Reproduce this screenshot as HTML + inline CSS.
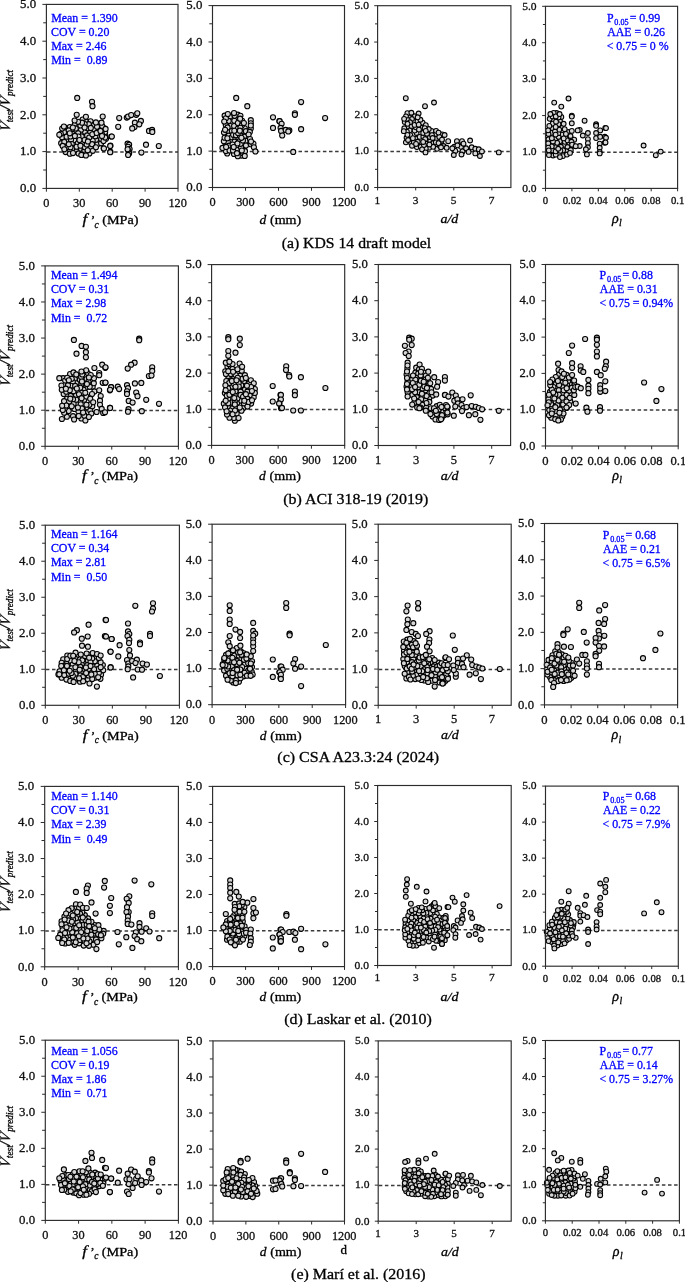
<!DOCTYPE html>
<html><head><meta charset="utf-8"><style>
html,body{margin:0;padding:0;background:#fff;}
svg{display:block;will-change:transform;}
text{font-family:"Liberation Serif",serif;white-space:pre;stroke:currentColor;stroke-width:0.3px;}
</style></head><body>
<svg width="685" height="1282" viewBox="0 0 685 1282">
<g stroke="#2b2b2b" stroke-width="1"><line x1="42.4" y1="188.4" x2="46.4" y2="188.4"/><line x1="43.2" y1="170" x2="46.4" y2="170"/><line x1="42.4" y1="151.6" x2="46.4" y2="151.6"/><line x1="43.2" y1="133.2" x2="46.4" y2="133.2"/><line x1="42.4" y1="114.8" x2="46.4" y2="114.8"/><line x1="43.2" y1="96.4" x2="46.4" y2="96.4"/><line x1="42.4" y1="78" x2="46.4" y2="78"/><line x1="43.2" y1="59.6" x2="46.4" y2="59.6"/><line x1="42.4" y1="41.2" x2="46.4" y2="41.2"/><line x1="43.2" y1="22.8" x2="46.4" y2="22.8"/><line x1="42.4" y1="4.4" x2="46.4" y2="4.4"/><line x1="46.4" y1="188.4" x2="46.4" y2="191.7"/><line x1="79.3" y1="188.4" x2="79.3" y2="191.7"/><line x1="112.2" y1="188.4" x2="112.2" y2="191.7"/><line x1="145.1" y1="188.4" x2="145.1" y2="191.7"/><line x1="178" y1="188.4" x2="178" y2="191.7"/></g>
<line x1="47" y1="151.9" x2="178" y2="151.9" stroke="#3a3a3a" stroke-width="1.5" stroke-dasharray="3.5 2.6"/>
<g fill="#d6d6d6" stroke="#000" stroke-width="1.1"><circle cx="74.84" cy="124.24" r="2.55"/><circle cx="90.54" cy="121.36" r="2.55"/><circle cx="85.02" cy="132.12" r="2.55"/><circle cx="62.08" cy="137.32" r="2.55"/><circle cx="79.68" cy="149.05" r="2.55"/><circle cx="89.42" cy="153.48" r="2.55"/><circle cx="100.51" cy="129.33" r="2.55"/><circle cx="74.11" cy="148.65" r="2.55"/><circle cx="67.97" cy="140.04" r="2.55"/><circle cx="89.97" cy="132.37" r="2.55"/><circle cx="85.59" cy="121" r="2.55"/><circle cx="74.38" cy="140.19" r="2.55"/><circle cx="81.05" cy="129.7" r="2.55"/><circle cx="97.43" cy="144.35" r="2.55"/><circle cx="71.02" cy="139.78" r="2.55"/><circle cx="84.51" cy="150.82" r="2.55"/><circle cx="94.31" cy="129.27" r="2.55"/><circle cx="66.6" cy="136.64" r="2.55"/><circle cx="61.18" cy="143.22" r="2.55"/><circle cx="96" cy="139.73" r="2.55"/><circle cx="92.67" cy="140.51" r="2.55"/><circle cx="87.13" cy="135.44" r="2.55"/><circle cx="82.06" cy="143.07" r="2.55"/><circle cx="77.82" cy="143.24" r="2.55"/><circle cx="65.51" cy="127.79" r="2.55"/><circle cx="72.66" cy="133.94" r="2.55"/><circle cx="76.52" cy="151.15" r="2.55"/><circle cx="70.5" cy="136.5" r="2.55"/><circle cx="87.58" cy="128.34" r="2.55"/><circle cx="78.13" cy="133.34" r="2.55"/><circle cx="64.27" cy="141.98" r="2.55"/><circle cx="64.17" cy="132.04" r="2.55"/><circle cx="88.78" cy="124.15" r="2.55"/><circle cx="81.67" cy="136.46" r="2.55"/><circle cx="75.75" cy="128.42" r="2.55"/><circle cx="99.09" cy="124.62" r="2.55"/><circle cx="84.66" cy="124.08" r="2.55"/><circle cx="84.65" cy="154.61" r="2.55"/><circle cx="67.32" cy="147.03" r="2.55"/><circle cx="84.86" cy="147.29" r="2.55"/><circle cx="71.74" cy="144.12" r="2.55"/><circle cx="105.21" cy="135.11" r="2.55"/><circle cx="105.14" cy="132.08" r="2.55"/><circle cx="69.88" cy="127.03" r="2.55"/><circle cx="99.64" cy="136.3" r="2.55"/><circle cx="90.64" cy="148.05" r="2.55"/><circle cx="95.31" cy="136.24" r="2.55"/><circle cx="78.57" cy="153.45" r="2.55"/><circle cx="94.09" cy="124.94" r="2.55"/><circle cx="65.59" cy="152.1" r="2.55"/><circle cx="80.43" cy="125.42" r="2.55"/><circle cx="92.86" cy="150.87" r="2.55"/><circle cx="104.52" cy="128.23" r="2.55"/><circle cx="69.84" cy="153.66" r="2.55"/><circle cx="78.42" cy="136.58" r="2.55"/><circle cx="68.7" cy="130.39" r="2.55"/><circle cx="89.25" cy="137.5" r="2.55"/><circle cx="86.69" cy="144.41" r="2.55"/><circle cx="92.33" cy="134.31" r="2.55"/><circle cx="84.59" cy="127.45" r="2.55"/><circle cx="62.69" cy="145.89" r="2.55"/><circle cx="101.09" cy="143.31" r="2.55"/><circle cx="72.83" cy="127.59" r="2.55"/><circle cx="105.99" cy="138.78" r="2.55"/><circle cx="92.08" cy="144.15" r="2.55"/><circle cx="64.34" cy="149.37" r="2.55"/><circle cx="62.21" cy="128.56" r="2.55"/><circle cx="102.2" cy="126.01" r="2.55"/><circle cx="82.63" cy="119.61" r="2.55"/><circle cx="73.01" cy="153.04" r="2.55"/><circle cx="84.47" cy="140.09" r="2.55"/><circle cx="87.92" cy="141.45" r="2.55"/><circle cx="97.02" cy="126.85" r="2.55"/><circle cx="69.77" cy="133.37" r="2.55"/><circle cx="79.46" cy="140.08" r="2.55"/><circle cx="95.95" cy="147.33" r="2.55"/><circle cx="82.01" cy="122.63" r="2.55"/><circle cx="101.2" cy="139.08" r="2.55"/><circle cx="76.59" cy="146.76" r="2.55"/><circle cx="60.79" cy="133.85" r="2.55"/><circle cx="96.65" cy="132.97" r="2.55"/><circle cx="90.79" cy="127.88" r="2.55"/><circle cx="70.51" cy="147.19" r="2.55"/><circle cx="68.77" cy="144.13" r="2.55"/><circle cx="103.53" cy="141.04" r="2.55"/><circle cx="95.91" cy="122.42" r="2.55"/><circle cx="87.71" cy="150.3" r="2.55"/><circle cx="80.42" cy="145.69" r="2.55"/><circle cx="101.93" cy="134.15" r="2.55"/><circle cx="78.02" cy="121.86" r="2.55"/><circle cx="74.87" cy="135.9" r="2.55"/><circle cx="81.35" cy="154.9" r="2.55"/><circle cx="77.2" cy="97.9" r="2.55"/><circle cx="92" cy="101.8" r="2.55"/><circle cx="92.5" cy="106.2" r="2.55"/><circle cx="76.7" cy="114.8" r="2.55"/><circle cx="74.6" cy="120.5" r="2.55"/><circle cx="85.9" cy="116.8" r="2.55"/><circle cx="102.7" cy="116.6" r="2.55"/><circle cx="63.9" cy="126.6" r="2.55"/><circle cx="111.4" cy="136.5" r="2.55"/><circle cx="110.4" cy="145.7" r="2.55"/><circle cx="103.7" cy="148.3" r="2.55"/><circle cx="110.4" cy="151.9" r="2.55"/><circle cx="85.9" cy="155.4" r="2.55"/><circle cx="59.3" cy="134.8" r="2.55"/><circle cx="119.2" cy="118.1" r="2.55"/><circle cx="118.2" cy="126.8" r="2.55"/><circle cx="126.8" cy="117.6" r="2.55"/><circle cx="128.1" cy="116.6" r="2.55"/><circle cx="131.2" cy="115.1" r="2.55"/><circle cx="136.3" cy="114.8" r="2.55"/><circle cx="137.3" cy="113.3" r="2.55"/><circle cx="134.9" cy="122.7" r="2.55"/><circle cx="140.9" cy="120.9" r="2.55"/><circle cx="139.3" cy="124.3" r="2.55"/><circle cx="134.5" cy="127" r="2.55"/><circle cx="132.2" cy="128.4" r="2.55"/><circle cx="149" cy="130.9" r="2.55"/><circle cx="152.1" cy="129.9" r="2.55"/><circle cx="152.3" cy="131.9" r="2.55"/><circle cx="111.8" cy="136.5" r="2.55"/><circle cx="105.1" cy="137.6" r="2.55"/><circle cx="102" cy="136" r="2.55"/><circle cx="105.6" cy="128.9" r="2.55"/><circle cx="101.5" cy="122.7" r="2.55"/><circle cx="100.5" cy="130.9" r="2.55"/><circle cx="103.9" cy="148.5" r="2.55"/><circle cx="110.2" cy="146" r="2.55"/><circle cx="110.2" cy="152.2" r="2.55"/><circle cx="127.6" cy="143.7" r="2.55"/><circle cx="129.1" cy="144.7" r="2.55"/><circle cx="128.1" cy="146.8" r="2.55"/><circle cx="129.6" cy="149.1" r="2.55"/><circle cx="128.6" cy="151.2" r="2.55"/><circle cx="129.1" cy="153.4" r="2.55"/><circle cx="128.1" cy="154.9" r="2.55"/><circle cx="127.6" cy="149.3" r="2.55"/><circle cx="146" cy="144.7" r="2.55"/><circle cx="158.8" cy="146" r="2.55"/><circle cx="141.4" cy="152.6" r="2.55"/></g>
<rect x="46.4" y="4.4" width="131.6" height="184" fill="none" stroke="#2b2b2b" stroke-width="1.15"/>
<g fill="#111" color="#111"><text x="20.09" y="192.15" font-size="12.5" textLength="16.09" lengthAdjust="spacingAndGlyphs">0.0</text><text x="20.09" y="155.35" font-size="12.5" textLength="16.09" lengthAdjust="spacingAndGlyphs">1.0</text><text x="20.09" y="118.55" font-size="12.5" textLength="16.09" lengthAdjust="spacingAndGlyphs">2.0</text><text x="20.09" y="81.75" font-size="12.5" textLength="16.09" lengthAdjust="spacingAndGlyphs">3.0</text><text x="20.09" y="44.95" font-size="12.5" textLength="16.09" lengthAdjust="spacingAndGlyphs">4.0</text><text x="20.09" y="8.15" font-size="12.5" textLength="16.09" lengthAdjust="spacingAndGlyphs">5.0</text><text x="43.32" y="207.1" font-size="12.3">0</text><text x="73.09" y="207.1" font-size="12.3">30</text><text x="106.02" y="207.1" font-size="12.3">60</text><text x="138.98" y="207.1" font-size="12.3">90</text><text x="168.47" y="207.1" font-size="12.3">120</text></g>
<text x="82.59" y="224.1" font-size="13.8" font-style="italic" textLength="4.68" lengthAdjust="spacingAndGlyphs">f</text><text x="90.72" y="224.1" font-size="13.5">’</text><text x="94.62" y="227.5" font-size="9.5" font-style="italic">c</text><text x="102.16" y="224.1" font-size="13.5" textLength="36.35" lengthAdjust="spacingAndGlyphs">(MPa)</text>
<g stroke="#2b2b2b" stroke-width="1"><line x1="208.5" y1="187.5" x2="212.5" y2="187.5"/><line x1="209.3" y1="169.31" x2="212.5" y2="169.31"/><line x1="208.5" y1="151.12" x2="212.5" y2="151.12"/><line x1="209.3" y1="132.93" x2="212.5" y2="132.93"/><line x1="208.5" y1="114.74" x2="212.5" y2="114.74"/><line x1="209.3" y1="96.55" x2="212.5" y2="96.55"/><line x1="208.5" y1="78.36" x2="212.5" y2="78.36"/><line x1="209.3" y1="60.17" x2="212.5" y2="60.17"/><line x1="208.5" y1="41.98" x2="212.5" y2="41.98"/><line x1="209.3" y1="23.79" x2="212.5" y2="23.79"/><line x1="208.5" y1="5.6" x2="212.5" y2="5.6"/><line x1="212.5" y1="187.5" x2="212.5" y2="190.8"/><line x1="245.5" y1="187.5" x2="245.5" y2="190.8"/><line x1="278.5" y1="187.5" x2="278.5" y2="190.8"/><line x1="311.5" y1="187.5" x2="311.5" y2="190.8"/><line x1="344.5" y1="187.5" x2="344.5" y2="190.8"/></g>
<line x1="213.1" y1="151.42" x2="344.5" y2="151.42" stroke="#3a3a3a" stroke-width="1.5" stroke-dasharray="3.5 2.6"/>
<g fill="#d6d6d6" stroke="#000" stroke-width="1.1"><circle cx="229.03" cy="131.59" r="2.55"/><circle cx="229.97" cy="116.72" r="2.55"/><circle cx="228.69" cy="120.97" r="2.55"/><circle cx="225.79" cy="124.95" r="2.55"/><circle cx="225.62" cy="143.79" r="2.55"/><circle cx="227.2" cy="153.47" r="2.55"/><circle cx="228.74" cy="135.65" r="2.55"/><circle cx="227.9" cy="142.14" r="2.55"/><circle cx="230.49" cy="126.02" r="2.55"/><circle cx="224.01" cy="132.59" r="2.55"/><circle cx="232.28" cy="146.64" r="2.55"/><circle cx="231.75" cy="137.23" r="2.55"/><circle cx="225.82" cy="151.08" r="2.55"/><circle cx="224.64" cy="115.72" r="2.55"/><circle cx="229.08" cy="145.7" r="2.55"/><circle cx="223.86" cy="141.34" r="2.55"/><circle cx="225.89" cy="118.37" r="2.55"/><circle cx="227.57" cy="127.45" r="2.55"/><circle cx="224.58" cy="137.74" r="2.55"/><circle cx="227.35" cy="138.37" r="2.55"/><circle cx="227.83" cy="114.1" r="2.55"/><circle cx="222.47" cy="147.94" r="2.55"/><circle cx="229.56" cy="150.41" r="2.55"/><circle cx="231.85" cy="131.03" r="2.55"/><circle cx="226.1" cy="146.96" r="2.55"/><circle cx="224.22" cy="121.53" r="2.55"/><circle cx="225.09" cy="129.85" r="2.55"/><circle cx="244" cy="147.74" r="2.55"/><circle cx="236.45" cy="146.12" r="2.55"/><circle cx="233.96" cy="153.95" r="2.55"/><circle cx="237.34" cy="119.34" r="2.55"/><circle cx="235.41" cy="138.61" r="2.55"/><circle cx="233.15" cy="134.78" r="2.55"/><circle cx="244.65" cy="133.62" r="2.55"/><circle cx="234.55" cy="141.72" r="2.55"/><circle cx="240.12" cy="153.09" r="2.55"/><circle cx="241.29" cy="155.62" r="2.55"/><circle cx="237" cy="150.06" r="2.55"/><circle cx="238.43" cy="137.66" r="2.55"/><circle cx="243.46" cy="143.85" r="2.55"/><circle cx="235.99" cy="135.26" r="2.55"/><circle cx="234.33" cy="120.84" r="2.55"/><circle cx="237.7" cy="114.69" r="2.55"/><circle cx="237.34" cy="125.95" r="2.55"/><circle cx="242.63" cy="130.68" r="2.55"/><circle cx="232.56" cy="144.56" r="2.55"/><circle cx="234.11" cy="126.01" r="2.55"/><circle cx="237.87" cy="123.06" r="2.55"/><circle cx="242.13" cy="120.73" r="2.55"/><circle cx="243.05" cy="153.17" r="2.55"/><circle cx="244.47" cy="136.64" r="2.55"/><circle cx="239.88" cy="135.22" r="2.55"/><circle cx="237.76" cy="128.87" r="2.55"/><circle cx="238" cy="133" r="2.55"/><circle cx="241.08" cy="147.61" r="2.55"/><circle cx="245.73" cy="140.7" r="2.55"/><circle cx="239.54" cy="141.21" r="2.55"/><circle cx="244.98" cy="151.18" r="2.55"/><circle cx="244.78" cy="128.31" r="2.55"/><circle cx="245.98" cy="145.48" r="2.55"/><circle cx="234.33" cy="130.73" r="2.55"/><circle cx="241.93" cy="125.34" r="2.55"/><circle cx="244.73" cy="155.89" r="2.55"/><circle cx="234.61" cy="115.85" r="2.55"/><circle cx="233.01" cy="150.38" r="2.55"/><circle cx="240.61" cy="143.82" r="2.55"/><circle cx="242.92" cy="140.46" r="2.55"/><circle cx="240.42" cy="115.86" r="2.55"/><circle cx="237.79" cy="156.16" r="2.55"/><circle cx="241.82" cy="150.62" r="2.55"/><circle cx="240.4" cy="127.82" r="2.55"/><circle cx="241.43" cy="137.8" r="2.55"/><circle cx="239.84" cy="130.69" r="2.55"/><circle cx="236.99" cy="153.2" r="2.55"/><circle cx="245.92" cy="131.14" r="2.55"/><circle cx="243.89" cy="123.02" r="2.55"/><circle cx="237.43" cy="143.47" r="2.55"/><circle cx="233.69" cy="147.09" r="2.55"/><circle cx="234.04" cy="113.08" r="2.55"/><circle cx="240.09" cy="118.7" r="2.55"/><circle cx="236.2" cy="97.9" r="2.55"/><circle cx="247.3" cy="106.2" r="2.55"/><circle cx="273" cy="117.3" r="2.55"/><circle cx="273" cy="127.9" r="2.55"/><circle cx="279.4" cy="121.2" r="2.55"/><circle cx="250.8" cy="120.2" r="2.55"/><circle cx="250.8" cy="123.3" r="2.55"/><circle cx="250.8" cy="128.4" r="2.55"/><circle cx="249.8" cy="131.9" r="2.55"/><circle cx="248.6" cy="134.5" r="2.55"/><circle cx="250" cy="139.1" r="2.55"/><circle cx="250.8" cy="144.2" r="2.55"/><circle cx="253.4" cy="143.7" r="2.55"/><circle cx="253.9" cy="147.3" r="2.55"/><circle cx="255.4" cy="151.4" r="2.55"/><circle cx="250.8" cy="125.5" r="2.55"/><circle cx="251" cy="141.5" r="2.55"/><circle cx="301.1" cy="102.1" r="2.55"/><circle cx="294.9" cy="113.3" r="2.55"/><circle cx="294.9" cy="114.8" r="2.55"/><circle cx="325.1" cy="118.1" r="2.55"/><circle cx="279.6" cy="121.2" r="2.55"/><circle cx="281.6" cy="123.8" r="2.55"/><circle cx="280.6" cy="127.9" r="2.55"/><circle cx="281.1" cy="130.9" r="2.55"/><circle cx="282.2" cy="135.5" r="2.55"/><circle cx="285.7" cy="129.9" r="2.55"/><circle cx="289.3" cy="130.4" r="2.55"/><circle cx="288.3" cy="131.4" r="2.55"/><circle cx="301.1" cy="129.2" r="2.55"/><circle cx="293.2" cy="151.9" r="2.55"/></g>
<rect x="212.5" y="5.6" width="132" height="181.9" fill="none" stroke="#2b2b2b" stroke-width="1.15"/>
<g fill="#111" color="#111"><text x="186.39" y="191.25" font-size="12.5" textLength="16.09" lengthAdjust="spacingAndGlyphs">0.0</text><text x="186.39" y="154.87" font-size="12.5" textLength="16.09" lengthAdjust="spacingAndGlyphs">1.0</text><text x="186.39" y="118.49" font-size="12.5" textLength="16.09" lengthAdjust="spacingAndGlyphs">2.0</text><text x="186.39" y="82.11" font-size="12.5" textLength="16.09" lengthAdjust="spacingAndGlyphs">3.0</text><text x="186.39" y="45.73" font-size="12.5" textLength="16.09" lengthAdjust="spacingAndGlyphs">4.0</text><text x="186.39" y="9.35" font-size="12.5" textLength="16.09" lengthAdjust="spacingAndGlyphs">5.0</text><text x="209.43" y="206" font-size="12.3">0</text><text x="236.21" y="206" font-size="12.3">300</text><text x="269.24" y="206" font-size="12.3">600</text><text x="302.31" y="206" font-size="12.3">900</text><text x="331.89" y="206" font-size="12.3">1200</text></g>
<text x="259.4" y="223.6" font-size="13.5" font-style="italic">d</text><text x="269.97" y="223.6" font-size="13.5" textLength="31.26" lengthAdjust="spacingAndGlyphs">(mm)</text>
<g stroke="#2b2b2b" stroke-width="1"><line x1="374.2" y1="187.5" x2="377.6" y2="187.5"/><line x1="375" y1="169.32" x2="377.6" y2="169.32"/><line x1="374.2" y1="151.14" x2="377.6" y2="151.14"/><line x1="375" y1="132.96" x2="377.6" y2="132.96"/><line x1="374.2" y1="114.78" x2="377.6" y2="114.78"/><line x1="375" y1="96.6" x2="377.6" y2="96.6"/><line x1="374.2" y1="78.42" x2="377.6" y2="78.42"/><line x1="375" y1="60.24" x2="377.6" y2="60.24"/><line x1="374.2" y1="42.06" x2="377.6" y2="42.06"/><line x1="375" y1="23.88" x2="377.6" y2="23.88"/><line x1="374.2" y1="5.7" x2="377.6" y2="5.7"/><line x1="377.6" y1="187.5" x2="377.6" y2="190.4"/><line x1="415.69" y1="187.5" x2="415.69" y2="190.4"/><line x1="453.77" y1="187.5" x2="453.77" y2="190.4"/><line x1="491.86" y1="187.5" x2="491.86" y2="190.4"/></g>
<line x1="378.2" y1="151.44" x2="510.9" y2="151.44" stroke="#3a3a3a" stroke-width="1.5" stroke-dasharray="3.5 2.6"/>
<g fill="#d6d6d6" stroke="#000" stroke-width="1.1"><circle cx="410.34" cy="135.18" r="2.4"/><circle cx="416.85" cy="147.03" r="2.4"/><circle cx="435.44" cy="145.12" r="2.4"/><circle cx="420.35" cy="143.74" r="2.4"/><circle cx="426.51" cy="143.81" r="2.4"/><circle cx="416.58" cy="133" r="2.4"/><circle cx="421.39" cy="127.79" r="2.4"/><circle cx="409.55" cy="117.46" r="2.4"/><circle cx="416.13" cy="138.57" r="2.4"/><circle cx="430.3" cy="140.92" r="2.4"/><circle cx="432.9" cy="143.27" r="2.4"/><circle cx="407.77" cy="126.83" r="2.4"/><circle cx="438.87" cy="139.69" r="2.4"/><circle cx="418.63" cy="113.56" r="2.4"/><circle cx="407.39" cy="113.17" r="2.4"/><circle cx="413.67" cy="121.36" r="2.4"/><circle cx="409.68" cy="130.34" r="2.4"/><circle cx="436.05" cy="138.89" r="2.4"/><circle cx="429.21" cy="147.66" r="2.4"/><circle cx="419.62" cy="136.9" r="2.4"/><circle cx="423.33" cy="136.7" r="2.4"/><circle cx="422.59" cy="122.63" r="2.4"/><circle cx="411.1" cy="143.07" r="2.4"/><circle cx="414.64" cy="130.57" r="2.4"/><circle cx="435.91" cy="133.86" r="2.4"/><circle cx="405.86" cy="142.33" r="2.4"/><circle cx="431.46" cy="130.9" r="2.4"/><circle cx="412.01" cy="145.69" r="2.4"/><circle cx="437.06" cy="148.78" r="2.4"/><circle cx="428.76" cy="129.05" r="2.4"/><circle cx="405.97" cy="116.41" r="2.4"/><circle cx="425.8" cy="125.16" r="2.4"/><circle cx="441.49" cy="140.89" r="2.4"/><circle cx="425.22" cy="139.04" r="2.4"/><circle cx="413.85" cy="141.9" r="2.4"/><circle cx="406.59" cy="137.65" r="2.4"/><circle cx="414.78" cy="116.24" r="2.4"/><circle cx="442.14" cy="134.45" r="2.4"/><circle cx="423.18" cy="132.95" r="2.4"/><circle cx="425.76" cy="148.39" r="2.4"/><circle cx="439.32" cy="136.94" r="2.4"/><circle cx="415.96" cy="127.34" r="2.4"/><circle cx="411.49" cy="125.88" r="2.4"/><circle cx="436.08" cy="130.83" r="2.4"/><circle cx="414.58" cy="124.9" r="2.4"/><circle cx="439.88" cy="145.85" r="2.4"/><circle cx="408.1" cy="140.01" r="2.4"/><circle cx="406.87" cy="131.71" r="2.4"/><circle cx="433.15" cy="146.8" r="2.4"/><circle cx="412.89" cy="138.18" r="2.4"/><circle cx="411.36" cy="112.77" r="2.4"/><circle cx="404.29" cy="128.25" r="2.4"/><circle cx="417.76" cy="141.73" r="2.4"/><circle cx="435.82" cy="142.37" r="2.4"/><circle cx="429.86" cy="136.95" r="2.4"/><circle cx="411.88" cy="119.02" r="2.4"/><circle cx="426.99" cy="133.73" r="2.4"/><circle cx="443.58" cy="146.04" r="2.4"/><circle cx="420.8" cy="146.74" r="2.4"/><circle cx="424.71" cy="128.14" r="2.4"/><circle cx="431.98" cy="135.16" r="2.4"/><circle cx="418.97" cy="129.54" r="2.4"/><circle cx="425.76" cy="130.86" r="2.4"/><circle cx="404.75" cy="122.05" r="2.4"/><circle cx="416.04" cy="143.95" r="2.4"/><circle cx="423.94" cy="145.03" r="2.4"/><circle cx="407.93" cy="120.11" r="2.4"/><circle cx="417.48" cy="121.34" r="2.4"/><circle cx="438.54" cy="132.62" r="2.4"/><circle cx="420.42" cy="119.73" r="2.4"/><circle cx="410.06" cy="122.27" r="2.4"/><circle cx="422.07" cy="149.46" r="2.4"/><circle cx="429.42" cy="144.51" r="2.4"/><circle cx="404.12" cy="118.87" r="2.4"/><circle cx="417.68" cy="117.32" r="2.4"/><circle cx="407.42" cy="134.84" r="2.4"/><circle cx="407.52" cy="123.78" r="2.4"/><circle cx="423.18" cy="141.93" r="2.4"/><circle cx="432.64" cy="137.98" r="2.4"/><circle cx="438.56" cy="143.08" r="2.4"/><circle cx="418.69" cy="124.69" r="2.4"/><circle cx="403.79" cy="131.17" r="2.4"/><circle cx="405.8" cy="98.2" r="2.4"/><circle cx="425" cy="106.2" r="2.4"/><circle cx="434" cy="102.5" r="2.4"/><circle cx="425.5" cy="152.4" r="2.4"/><circle cx="444.6" cy="135" r="2.4"/><circle cx="442" cy="139.6" r="2.4"/><circle cx="448.2" cy="141.2" r="2.4"/><circle cx="441" cy="147.3" r="2.4"/><circle cx="446.6" cy="147.8" r="2.4"/><circle cx="456.9" cy="141.2" r="2.4"/><circle cx="462" cy="141.2" r="2.4"/><circle cx="470.1" cy="140.5" r="2.4"/><circle cx="454.3" cy="146.8" r="2.4"/><circle cx="455.3" cy="150.9" r="2.4"/><circle cx="453.8" cy="155" r="2.4"/><circle cx="461" cy="146.8" r="2.4"/><circle cx="462.5" cy="151.4" r="2.4"/><circle cx="461.5" cy="154.5" r="2.4"/><circle cx="466.1" cy="148.3" r="2.4"/><circle cx="468.6" cy="151.9" r="2.4"/><circle cx="471.7" cy="147.3" r="2.4"/><circle cx="475.3" cy="148.8" r="2.4"/><circle cx="475.3" cy="153.4" r="2.4"/><circle cx="478.8" cy="149.3" r="2.4"/><circle cx="481.9" cy="151.4" r="2.4"/><circle cx="479.9" cy="156" r="2.4"/><circle cx="498.8" cy="152.4" r="2.4"/><circle cx="452.3" cy="148.3" r="2.4"/><circle cx="457.4" cy="145.3" r="2.4"/><circle cx="463.5" cy="143.7" r="2.4"/></g>
<rect x="377.6" y="5.7" width="133.3" height="181.8" fill="none" stroke="#2b2b2b" stroke-width="1.15"/>
<g fill="#111" color="#111"><text x="354.51" y="190.81" font-size="11.2" textLength="14.42" lengthAdjust="spacingAndGlyphs">0.0</text><text x="354.51" y="154.45" font-size="11.2" textLength="14.42" lengthAdjust="spacingAndGlyphs">1.0</text><text x="354.51" y="118.09" font-size="11.2" textLength="14.42" lengthAdjust="spacingAndGlyphs">2.0</text><text x="354.51" y="81.73" font-size="11.2" textLength="14.42" lengthAdjust="spacingAndGlyphs">3.0</text><text x="354.51" y="45.37" font-size="11.2" textLength="14.42" lengthAdjust="spacingAndGlyphs">4.0</text><text x="354.51" y="9.01" font-size="11.2" textLength="14.42" lengthAdjust="spacingAndGlyphs">5.0</text><text x="374.59" y="203.7" font-size="11.4">1</text><text x="412.79" y="203.7" font-size="11.4">3</text><text x="450.82" y="203.7" font-size="11.4">5</text><text x="488.81" y="203.7" font-size="11.4">7</text></g>
<text x="440.48" y="223.3" font-size="13.5" font-style="italic" textLength="17.89" lengthAdjust="spacingAndGlyphs">a/d</text>
<g stroke="#2b2b2b" stroke-width="1"><line x1="542.1" y1="188.4" x2="545.5" y2="188.4"/><line x1="542.9" y1="170.19" x2="545.5" y2="170.19"/><line x1="542.1" y1="151.98" x2="545.5" y2="151.98"/><line x1="542.9" y1="133.77" x2="545.5" y2="133.77"/><line x1="542.1" y1="115.56" x2="545.5" y2="115.56"/><line x1="542.9" y1="97.35" x2="545.5" y2="97.35"/><line x1="542.1" y1="79.14" x2="545.5" y2="79.14"/><line x1="542.9" y1="60.93" x2="545.5" y2="60.93"/><line x1="542.1" y1="42.72" x2="545.5" y2="42.72"/><line x1="542.9" y1="24.51" x2="545.5" y2="24.51"/><line x1="542.1" y1="6.3" x2="545.5" y2="6.3"/><line x1="545.5" y1="188.4" x2="545.5" y2="191.3"/><line x1="571.92" y1="188.4" x2="571.92" y2="191.3"/><line x1="598.34" y1="188.4" x2="598.34" y2="191.3"/><line x1="624.76" y1="188.4" x2="624.76" y2="191.3"/><line x1="651.18" y1="188.4" x2="651.18" y2="191.3"/><line x1="677.6" y1="188.4" x2="677.6" y2="191.3"/></g>
<line x1="546.1" y1="152.28" x2="677.6" y2="152.28" stroke="#3a3a3a" stroke-width="1.5" stroke-dasharray="3.5 2.6"/>
<g fill="#d6d6d6" stroke="#000" stroke-width="1.1"><circle cx="551.18" cy="132.97" r="2.4"/><circle cx="569.12" cy="144.25" r="2.4"/><circle cx="568.01" cy="132.01" r="2.4"/><circle cx="569.96" cy="136.48" r="2.4"/><circle cx="555.88" cy="147.06" r="2.4"/><circle cx="552.85" cy="120.53" r="2.4"/><circle cx="552.41" cy="128.12" r="2.4"/><circle cx="553.05" cy="155.52" r="2.4"/><circle cx="562.94" cy="153.05" r="2.4"/><circle cx="552.53" cy="150.35" r="2.4"/><circle cx="559.86" cy="141.2" r="2.4"/><circle cx="562.9" cy="156.08" r="2.4"/><circle cx="564.48" cy="144.78" r="2.4"/><circle cx="555.32" cy="139.07" r="2.4"/><circle cx="562.16" cy="127.95" r="2.4"/><circle cx="560.88" cy="146.77" r="2.4"/><circle cx="567.51" cy="147.01" r="2.4"/><circle cx="561.74" cy="134.71" r="2.4"/><circle cx="566.4" cy="151.26" r="2.4"/><circle cx="551.73" cy="146.42" r="2.4"/><circle cx="548.46" cy="139.29" r="2.4"/><circle cx="564.83" cy="141.79" r="2.4"/><circle cx="556.58" cy="113.06" r="2.4"/><circle cx="567.47" cy="140.33" r="2.4"/><circle cx="565.93" cy="133.95" r="2.4"/><circle cx="552.69" cy="123.7" r="2.4"/><circle cx="549.71" cy="118.8" r="2.4"/><circle cx="548.92" cy="155.06" r="2.4"/><circle cx="558.54" cy="136.82" r="2.4"/><circle cx="560.04" cy="121.24" r="2.4"/><circle cx="563.64" cy="123.8" r="2.4"/><circle cx="558.85" cy="154.37" r="2.4"/><circle cx="558.5" cy="124.22" r="2.4"/><circle cx="555.74" cy="154.65" r="2.4"/><circle cx="553.66" cy="112.94" r="2.4"/><circle cx="549.3" cy="125.91" r="2.4"/><circle cx="557.12" cy="142.82" r="2.4"/><circle cx="555.63" cy="151.34" r="2.4"/><circle cx="558.29" cy="133.13" r="2.4"/><circle cx="548.5" cy="134.01" r="2.4"/><circle cx="571.47" cy="138.97" r="2.4"/><circle cx="566.98" cy="154.53" r="2.4"/><circle cx="552.51" cy="116.47" r="2.4"/><circle cx="556.04" cy="121.67" r="2.4"/><circle cx="559.21" cy="129.67" r="2.4"/><circle cx="564.69" cy="129.16" r="2.4"/><circle cx="563.69" cy="138.39" r="2.4"/><circle cx="573.37" cy="145.71" r="2.4"/><circle cx="561.32" cy="116.89" r="2.4"/><circle cx="570.82" cy="150.06" r="2.4"/><circle cx="548.23" cy="143.3" r="2.4"/><circle cx="563.15" cy="150.28" r="2.4"/><circle cx="552.89" cy="141.39" r="2.4"/><circle cx="558.51" cy="117.48" r="2.4"/><circle cx="554.99" cy="131.5" r="2.4"/><circle cx="548.3" cy="147.61" r="2.4"/><circle cx="548.12" cy="130.36" r="2.4"/><circle cx="560.35" cy="150.86" r="2.4"/><circle cx="550.33" cy="114.03" r="2.4"/><circle cx="551.83" cy="138.2" r="2.4"/><circle cx="555.62" cy="134.62" r="2.4"/><circle cx="558.21" cy="148.77" r="2.4"/><circle cx="555.65" cy="126.88" r="2.4"/><circle cx="574.2" cy="139.7" r="2.4"/><circle cx="555.81" cy="116.4" r="2.4"/><circle cx="559.94" cy="157.11" r="2.4"/><circle cx="559.58" cy="114.05" r="2.4"/><circle cx="571.47" cy="141.79" r="2.4"/><circle cx="548.8" cy="150.33" r="2.4"/><circle cx="554.2" cy="102.6" r="2.4"/><circle cx="561.3" cy="106.6" r="2.4"/><circle cx="568.5" cy="98.5" r="2.4"/><circle cx="584.6" cy="120.7" r="2.4"/><circle cx="571.8" cy="115.6" r="2.4"/><circle cx="571.8" cy="116.6" r="2.4"/><circle cx="571.8" cy="123.3" r="2.4"/><circle cx="571.8" cy="130.9" r="2.4"/><circle cx="570.5" cy="136" r="2.4"/><circle cx="572.1" cy="144.7" r="2.4"/><circle cx="570" cy="152.9" r="2.4"/><circle cx="579.7" cy="129.9" r="2.4"/><circle cx="577.7" cy="130.4" r="2.4"/><circle cx="582.8" cy="135.5" r="2.4"/><circle cx="587.9" cy="133" r="2.4"/><circle cx="587.9" cy="139.1" r="2.4"/><circle cx="587.9" cy="143.2" r="2.4"/><circle cx="587.9" cy="147.3" r="2.4"/><circle cx="585.9" cy="149.3" r="2.4"/><circle cx="586.9" cy="154.4" r="2.4"/><circle cx="579.7" cy="146" r="2.4"/><circle cx="575.7" cy="146.2" r="2.4"/><circle cx="596.1" cy="124.3" r="2.4"/><circle cx="596.1" cy="125.8" r="2.4"/><circle cx="600.2" cy="130.4" r="2.4"/><circle cx="596.1" cy="133" r="2.4"/><circle cx="596.1" cy="138.1" r="2.4"/><circle cx="600.2" cy="136.8" r="2.4"/><circle cx="605.3" cy="127.9" r="2.4"/><circle cx="604.8" cy="136.8" r="2.4"/><circle cx="604.8" cy="142.7" r="2.4"/><circle cx="599.7" cy="143.7" r="2.4"/><circle cx="599.7" cy="147.8" r="2.4"/><circle cx="599.7" cy="151.9" r="2.4"/><circle cx="599.7" cy="153.4" r="2.4"/><circle cx="606" cy="128.1" r="2.4"/><circle cx="606" cy="137.8" r="2.4"/><circle cx="605.5" cy="142.4" r="2.4"/><circle cx="643.6" cy="145.5" r="2.4"/><circle cx="660.7" cy="151.6" r="2.4"/><circle cx="655.8" cy="155.2" r="2.4"/></g>
<rect x="545.5" y="6.3" width="132.1" height="182.1" fill="none" stroke="#2b2b2b" stroke-width="1.15"/>
<g fill="#111" color="#111"><text x="522.21" y="191.71" font-size="11.2" textLength="14.42" lengthAdjust="spacingAndGlyphs">0.0</text><text x="522.21" y="155.29" font-size="11.2" textLength="14.42" lengthAdjust="spacingAndGlyphs">1.0</text><text x="522.21" y="118.87" font-size="11.2" textLength="14.42" lengthAdjust="spacingAndGlyphs">2.0</text><text x="522.21" y="82.45" font-size="11.2" textLength="14.42" lengthAdjust="spacingAndGlyphs">3.0</text><text x="522.21" y="46.03" font-size="11.2" textLength="14.42" lengthAdjust="spacingAndGlyphs">4.0</text><text x="522.21" y="9.61" font-size="11.2" textLength="14.42" lengthAdjust="spacingAndGlyphs">5.0</text><text x="542.83" y="203.8" font-size="10" textLength="5.35" lengthAdjust="spacingAndGlyphs">0</text><text x="562.65" y="203.8" font-size="10" textLength="18.73" lengthAdjust="spacingAndGlyphs">0.02</text><text x="588.86" y="203.8" font-size="10" textLength="18.73" lengthAdjust="spacingAndGlyphs">0.04</text><text x="615.36" y="203.8" font-size="10" textLength="18.73" lengthAdjust="spacingAndGlyphs">0.06</text><text x="641.82" y="203.8" font-size="10" textLength="18.73" lengthAdjust="spacingAndGlyphs">0.08</text><text x="671.03" y="203.8" font-size="10" textLength="13.38" lengthAdjust="spacingAndGlyphs">0.1</text></g>
<text x="611.9" y="222.8" font-size="14" font-style="italic">ρ</text><text x="619.04" y="226.3" font-size="9.8" font-style="italic">l</text>
<g transform="translate(9.6,128.4) rotate(-90)"><text x="-3.96" y="0" font-size="14.5" font-style="italic" transform="skewX(-14)">V</text><text x="6.18" y="3.5" font-size="9.3" font-style="italic">test</text><text x="18.83" y="0" font-size="14" font-style="italic">/</text><text x="21.44" y="0" font-size="14.5" font-style="italic" transform="skewX(-14)">V</text><text x="32.53" y="3.5" font-size="9.3" font-style="italic">predict</text></g>
<g fill="#0000ff" color="#0000ff"><text x="51.24" y="21.9" font-size="11.5" textLength="66.42" lengthAdjust="spacingAndGlyphs">Mean = 1.390</text><text x="51.12" y="36" font-size="11.5" textLength="58.3" lengthAdjust="spacingAndGlyphs">COV = 0.20</text><text x="51.24" y="50.1" font-size="11.5" textLength="55.2" lengthAdjust="spacingAndGlyphs">Max = 2.46</text><text x="51.24" y="64.2" font-size="11.5" textLength="56.2" lengthAdjust="spacingAndGlyphs">Min =  0.89</text><text x="606.94" y="21.9" font-size="11.5" textLength="6.61" lengthAdjust="spacingAndGlyphs">P</text><text x="614.39" y="25" font-size="7.9" textLength="14.28" lengthAdjust="spacingAndGlyphs">0.05</text><text x="629.71" y="21.9" font-size="11.5" textLength="30.46" lengthAdjust="spacingAndGlyphs">= 0.99</text><text x="607.18" y="36" font-size="11.5" textLength="57.84" lengthAdjust="spacingAndGlyphs">AAE = 0.26</text><text x="606.71" y="50.1" font-size="11.5" textLength="61.9" lengthAdjust="spacingAndGlyphs">&lt; 0.75 = 0 %</text></g>
<text x="281.69" y="247.8" font-size="15.2" textLength="149.43" lengthAdjust="spacingAndGlyphs">(a) KDS 14 draft model</text>
<g stroke="#2b2b2b" stroke-width="1"><line x1="41.1" y1="446.3" x2="45.1" y2="446.3"/><line x1="41.9" y1="428.26" x2="45.1" y2="428.26"/><line x1="41.1" y1="410.22" x2="45.1" y2="410.22"/><line x1="41.9" y1="392.18" x2="45.1" y2="392.18"/><line x1="41.1" y1="374.14" x2="45.1" y2="374.14"/><line x1="41.9" y1="356.1" x2="45.1" y2="356.1"/><line x1="41.1" y1="338.06" x2="45.1" y2="338.06"/><line x1="41.9" y1="320.02" x2="45.1" y2="320.02"/><line x1="41.1" y1="301.98" x2="45.1" y2="301.98"/><line x1="41.9" y1="283.94" x2="45.1" y2="283.94"/><line x1="41.1" y1="265.9" x2="45.1" y2="265.9"/><line x1="45.1" y1="446.3" x2="45.1" y2="449.6"/><line x1="78.43" y1="446.3" x2="78.43" y2="449.6"/><line x1="111.75" y1="446.3" x2="111.75" y2="449.6"/><line x1="145.08" y1="446.3" x2="145.08" y2="449.6"/><line x1="178.4" y1="446.3" x2="178.4" y2="449.6"/></g>
<line x1="45.7" y1="410.52" x2="178.4" y2="410.52" stroke="#3a3a3a" stroke-width="1.5" stroke-dasharray="3.5 2.6"/>
<g fill="#d6d6d6" stroke="#000" stroke-width="1.1"><circle cx="77.44" cy="404.24" r="2.55"/><circle cx="74.77" cy="379.02" r="2.55"/><circle cx="80.72" cy="404.28" r="2.55"/><circle cx="76.62" cy="383.26" r="2.55"/><circle cx="72.79" cy="381.92" r="2.55"/><circle cx="78.34" cy="411.33" r="2.55"/><circle cx="63.68" cy="394.05" r="2.55"/><circle cx="86.14" cy="387.45" r="2.55"/><circle cx="71.71" cy="378.83" r="2.55"/><circle cx="87.49" cy="407.4" r="2.55"/><circle cx="88.14" cy="412.3" r="2.55"/><circle cx="66.99" cy="398.74" r="2.55"/><circle cx="70.1" cy="374.07" r="2.55"/><circle cx="87.67" cy="373.07" r="2.55"/><circle cx="92.7" cy="386.84" r="2.55"/><circle cx="93.82" cy="383.22" r="2.55"/><circle cx="90.29" cy="410.5" r="2.55"/><circle cx="92.3" cy="406.24" r="2.55"/><circle cx="73.45" cy="372.43" r="2.55"/><circle cx="73.6" cy="403.66" r="2.55"/><circle cx="86.56" cy="379.07" r="2.55"/><circle cx="68.67" cy="411.03" r="2.55"/><circle cx="76.28" cy="399.64" r="2.55"/><circle cx="66.87" cy="416.69" r="2.55"/><circle cx="83.5" cy="389.66" r="2.55"/><circle cx="76" cy="394.72" r="2.55"/><circle cx="64.06" cy="401.17" r="2.55"/><circle cx="91.35" cy="413.49" r="2.55"/><circle cx="73.55" cy="391.28" r="2.55"/><circle cx="64.91" cy="408.27" r="2.55"/><circle cx="63.15" cy="378.19" r="2.55"/><circle cx="93.92" cy="378.21" r="2.55"/><circle cx="73.02" cy="399.16" r="2.55"/><circle cx="69.1" cy="401.6" r="2.55"/><circle cx="71.06" cy="385.73" r="2.55"/><circle cx="81.3" cy="384.84" r="2.55"/><circle cx="81.35" cy="418.4" r="2.55"/><circle cx="74.38" cy="408.94" r="2.55"/><circle cx="67.99" cy="385.14" r="2.55"/><circle cx="79.88" cy="379.71" r="2.55"/><circle cx="89.34" cy="404.8" r="2.55"/><circle cx="81.93" cy="392.71" r="2.55"/><circle cx="70.66" cy="395.93" r="2.55"/><circle cx="94.41" cy="391.4" r="2.55"/><circle cx="90.71" cy="375" r="2.55"/><circle cx="92.01" cy="394.1" r="2.55"/><circle cx="84.44" cy="415.64" r="2.55"/><circle cx="65.19" cy="380.56" r="2.55"/><circle cx="64.15" cy="412.7" r="2.55"/><circle cx="81.18" cy="376.9" r="2.55"/><circle cx="81.96" cy="408.38" r="2.55"/><circle cx="84.27" cy="399.64" r="2.55"/><circle cx="86.32" cy="396.52" r="2.55"/><circle cx="88.45" cy="381.48" r="2.55"/><circle cx="90.2" cy="398.72" r="2.55"/><circle cx="75.17" cy="385.91" r="2.55"/><circle cx="78.97" cy="394.26" r="2.55"/><circle cx="89.7" cy="386.85" r="2.55"/><circle cx="83.11" cy="412.59" r="2.55"/><circle cx="76.27" cy="374.38" r="2.55"/><circle cx="66.24" cy="391.77" r="2.55"/><circle cx="66.32" cy="405.62" r="2.55"/><circle cx="81.57" cy="398.22" r="2.55"/><circle cx="61.44" cy="385.48" r="2.55"/><circle cx="71.63" cy="406.33" r="2.55"/><circle cx="85.28" cy="392.81" r="2.55"/><circle cx="62.76" cy="410.07" r="2.55"/><circle cx="62.13" cy="405.78" r="2.55"/><circle cx="67.19" cy="377.81" r="2.55"/><circle cx="80.26" cy="387.68" r="2.55"/><circle cx="86.14" cy="370.35" r="2.55"/><circle cx="61.78" cy="389.76" r="2.55"/><circle cx="82.32" cy="374.38" r="2.55"/><circle cx="77.9" cy="407.56" r="2.55"/><circle cx="93.22" cy="402.26" r="2.55"/><circle cx="68.82" cy="380.34" r="2.55"/><circle cx="70.29" cy="398.68" r="2.55"/><circle cx="69.79" cy="390.22" r="2.55"/><circle cx="81.44" cy="371.52" r="2.55"/><circle cx="86.46" cy="404.74" r="2.55"/><circle cx="73.05" cy="416.13" r="2.55"/><circle cx="81.93" cy="381.57" r="2.55"/><circle cx="86.92" cy="383.97" r="2.55"/><circle cx="88.92" cy="377.58" r="2.55"/><circle cx="65.85" cy="388.64" r="2.55"/><circle cx="76.83" cy="388.58" r="2.55"/><circle cx="73.9" cy="339.9" r="2.55"/><circle cx="81.6" cy="345.9" r="2.55"/><circle cx="85.9" cy="346.8" r="2.55"/><circle cx="85.9" cy="352.2" r="2.55"/><circle cx="85.9" cy="357.3" r="2.55"/><circle cx="76.5" cy="353.7" r="2.55"/><circle cx="102.2" cy="364.7" r="2.55"/><circle cx="105.3" cy="367.8" r="2.55"/><circle cx="94.4" cy="368" r="2.55"/><circle cx="99.2" cy="373.1" r="2.55"/><circle cx="99.2" cy="375.2" r="2.55"/><circle cx="102.7" cy="382.8" r="2.55"/><circle cx="105.3" cy="382.8" r="2.55"/><circle cx="111.2" cy="387.2" r="2.55"/><circle cx="109.9" cy="390.3" r="2.55"/><circle cx="99.2" cy="390.3" r="2.55"/><circle cx="100.7" cy="396.1" r="2.55"/><circle cx="100" cy="400.7" r="2.55"/><circle cx="100" cy="404.8" r="2.55"/><circle cx="101.7" cy="408.9" r="2.55"/><circle cx="103.2" cy="413" r="2.55"/><circle cx="96.6" cy="412" r="2.55"/><circle cx="109.9" cy="407.9" r="2.55"/><circle cx="59.3" cy="378.2" r="2.55"/><circle cx="61.9" cy="419" r="2.55"/><circle cx="74.1" cy="419.5" r="2.55"/><circle cx="85.4" cy="420.5" r="2.55"/><circle cx="78.7" cy="416" r="2.55"/><circle cx="88.9" cy="417" r="2.55"/><circle cx="139.2" cy="338.7" r="2.55"/><circle cx="139.2" cy="340.2" r="2.55"/><circle cx="134.6" cy="362.7" r="2.55"/><circle cx="131.1" cy="364.7" r="2.55"/><circle cx="127.7" cy="368.6" r="2.55"/><circle cx="152.2" cy="367.3" r="2.55"/><circle cx="152.2" cy="370.9" r="2.55"/><circle cx="148.9" cy="376" r="2.55"/><circle cx="151.5" cy="375.5" r="2.55"/><circle cx="105.5" cy="367.3" r="2.55"/><circle cx="105.5" cy="382.6" r="2.55"/><circle cx="111.1" cy="387.2" r="2.55"/><circle cx="110.1" cy="389.8" r="2.55"/><circle cx="117.8" cy="386.7" r="2.55"/><circle cx="119.1" cy="389.1" r="2.55"/><circle cx="127" cy="385.2" r="2.55"/><circle cx="128" cy="388.2" r="2.55"/><circle cx="127" cy="391.3" r="2.55"/><circle cx="127" cy="393.9" r="2.55"/><circle cx="134.9" cy="383.4" r="2.55"/><circle cx="141.3" cy="382.9" r="2.55"/><circle cx="136.2" cy="392.5" r="2.55"/><circle cx="137.5" cy="396.2" r="2.55"/><circle cx="128.7" cy="400.9" r="2.55"/><circle cx="132.6" cy="402.6" r="2.55"/><circle cx="146.2" cy="399.8" r="2.55"/><circle cx="159" cy="403.8" r="2.55"/><circle cx="110.1" cy="407.9" r="2.55"/><circle cx="128.5" cy="409.2" r="2.55"/><circle cx="128" cy="411.7" r="2.55"/><circle cx="141.8" cy="411.2" r="2.55"/><circle cx="105" cy="412.3" r="2.55"/></g>
<rect x="45.1" y="265.9" width="133.3" height="180.4" fill="none" stroke="#2b2b2b" stroke-width="1.15"/>
<g fill="#111" color="#111"><text x="18.89" y="450.05" font-size="12.5" textLength="16.09" lengthAdjust="spacingAndGlyphs">0.0</text><text x="18.89" y="413.97" font-size="12.5" textLength="16.09" lengthAdjust="spacingAndGlyphs">1.0</text><text x="18.89" y="377.89" font-size="12.5" textLength="16.09" lengthAdjust="spacingAndGlyphs">2.0</text><text x="18.89" y="341.81" font-size="12.5" textLength="16.09" lengthAdjust="spacingAndGlyphs">3.0</text><text x="18.89" y="305.73" font-size="12.5" textLength="16.09" lengthAdjust="spacingAndGlyphs">4.0</text><text x="18.89" y="269.65" font-size="12.5" textLength="16.09" lengthAdjust="spacingAndGlyphs">5.0</text><text x="42.02" y="464.7" font-size="12.3">0</text><text x="72.21" y="464.7" font-size="12.3">30</text><text x="105.57" y="464.7" font-size="12.3">60</text><text x="138.96" y="464.7" font-size="12.3">90</text><text x="168.87" y="464.7" font-size="12.3">120</text></g>
<text x="82.14" y="480.2" font-size="13.8" font-style="italic" textLength="4.68" lengthAdjust="spacingAndGlyphs">f</text><text x="90.27" y="480.2" font-size="13.5">’</text><text x="94.17" y="483.6" font-size="9.5" font-style="italic">c</text><text x="101.71" y="480.2" font-size="13.5" textLength="36.35" lengthAdjust="spacingAndGlyphs">(MPa)</text>
<g stroke="#2b2b2b" stroke-width="1"><line x1="207.6" y1="445.4" x2="211.6" y2="445.4"/><line x1="208.4" y1="427.32" x2="211.6" y2="427.32"/><line x1="207.6" y1="409.24" x2="211.6" y2="409.24"/><line x1="208.4" y1="391.16" x2="211.6" y2="391.16"/><line x1="207.6" y1="373.08" x2="211.6" y2="373.08"/><line x1="208.4" y1="355" x2="211.6" y2="355"/><line x1="207.6" y1="336.92" x2="211.6" y2="336.92"/><line x1="208.4" y1="318.84" x2="211.6" y2="318.84"/><line x1="207.6" y1="300.76" x2="211.6" y2="300.76"/><line x1="208.4" y1="282.68" x2="211.6" y2="282.68"/><line x1="207.6" y1="264.6" x2="211.6" y2="264.6"/><line x1="211.6" y1="445.4" x2="211.6" y2="448.7"/><line x1="244.88" y1="445.4" x2="244.88" y2="448.7"/><line x1="278.15" y1="445.4" x2="278.15" y2="448.7"/><line x1="311.42" y1="445.4" x2="311.42" y2="448.7"/><line x1="344.7" y1="445.4" x2="344.7" y2="448.7"/></g>
<line x1="212.2" y1="409.54" x2="344.7" y2="409.54" stroke="#3a3a3a" stroke-width="1.5" stroke-dasharray="3.5 2.6"/>
<g fill="#d6d6d6" stroke="#000" stroke-width="1.1"><circle cx="228.17" cy="376.06" r="2.55"/><circle cx="237.24" cy="402.82" r="2.55"/><circle cx="238.12" cy="372.24" r="2.55"/><circle cx="247.68" cy="388.71" r="2.55"/><circle cx="253.68" cy="397.14" r="2.55"/><circle cx="241.33" cy="400.72" r="2.55"/><circle cx="249.22" cy="383.14" r="2.55"/><circle cx="224.87" cy="393.01" r="2.55"/><circle cx="245.02" cy="389.5" r="2.55"/><circle cx="229.64" cy="392.08" r="2.55"/><circle cx="239.2" cy="389.42" r="2.55"/><circle cx="236.66" cy="413.45" r="2.55"/><circle cx="236.71" cy="407.93" r="2.55"/><circle cx="237.36" cy="398.44" r="2.55"/><circle cx="240.12" cy="375.63" r="2.55"/><circle cx="231.98" cy="386.61" r="2.55"/><circle cx="234.2" cy="384.29" r="2.55"/><circle cx="231.42" cy="402.53" r="2.55"/><circle cx="234.86" cy="420.64" r="2.55"/><circle cx="232.01" cy="408.44" r="2.55"/><circle cx="249.69" cy="395.17" r="2.55"/><circle cx="247.09" cy="398.43" r="2.55"/><circle cx="230.1" cy="410.51" r="2.55"/><circle cx="244.01" cy="403.58" r="2.55"/><circle cx="242.99" cy="408.31" r="2.55"/><circle cx="251.11" cy="403.53" r="2.55"/><circle cx="250.9" cy="380.25" r="2.55"/><circle cx="233.98" cy="378.81" r="2.55"/><circle cx="226.3" cy="381.06" r="2.55"/><circle cx="247.49" cy="406.54" r="2.55"/><circle cx="228.08" cy="388.31" r="2.55"/><circle cx="229.13" cy="383.12" r="2.55"/><circle cx="254.85" cy="389.03" r="2.55"/><circle cx="233.9" cy="417.93" r="2.55"/><circle cx="244.04" cy="381.23" r="2.55"/><circle cx="234.8" cy="401.23" r="2.55"/><circle cx="248.62" cy="401.93" r="2.55"/><circle cx="227.72" cy="406.4" r="2.55"/><circle cx="229.7" cy="413.65" r="2.55"/><circle cx="228.26" cy="398.74" r="2.55"/><circle cx="223.82" cy="403.72" r="2.55"/><circle cx="240.58" cy="391.86" r="2.55"/><circle cx="227.51" cy="366.68" r="2.55"/><circle cx="238.57" cy="418.07" r="2.55"/><circle cx="242.39" cy="378.64" r="2.55"/><circle cx="241.28" cy="385.19" r="2.55"/><circle cx="244.89" cy="375.22" r="2.55"/><circle cx="234.68" cy="394.79" r="2.55"/><circle cx="240.56" cy="394.91" r="2.55"/><circle cx="225.4" cy="385.31" r="2.55"/><circle cx="235.53" cy="391.35" r="2.55"/><circle cx="230.72" cy="366.23" r="2.55"/><circle cx="230.81" cy="374" r="2.55"/><circle cx="232.52" cy="369.03" r="2.55"/><circle cx="245.86" cy="378.09" r="2.55"/><circle cx="228.85" cy="364.06" r="2.55"/><circle cx="234.25" cy="398.01" r="2.55"/><circle cx="226.81" cy="395.65" r="2.55"/><circle cx="253.76" cy="383.37" r="2.55"/><circle cx="243.08" cy="396.87" r="2.55"/><circle cx="235.65" cy="375.05" r="2.55"/><circle cx="238.67" cy="383.05" r="2.55"/><circle cx="237.65" cy="377.73" r="2.55"/><circle cx="225.07" cy="407.45" r="2.55"/><circle cx="254.85" cy="392.89" r="2.55"/><circle cx="225.66" cy="390.23" r="2.55"/><circle cx="234.98" cy="410.51" r="2.55"/><circle cx="225.28" cy="371.31" r="2.55"/><circle cx="244.3" cy="400.64" r="2.55"/><circle cx="229.46" cy="417.67" r="2.55"/><circle cx="225.94" cy="374.08" r="2.55"/><circle cx="225.81" cy="362.67" r="2.55"/><circle cx="228.26" cy="371.17" r="2.55"/><circle cx="232.59" cy="414.27" r="2.55"/><circle cx="231.9" cy="380.94" r="2.55"/><circle cx="229.47" cy="394.84" r="2.55"/><circle cx="247.38" cy="391.7" r="2.55"/><circle cx="238.76" cy="386.58" r="2.55"/><circle cx="252.01" cy="400.29" r="2.55"/><circle cx="227" cy="414.5" r="2.55"/><circle cx="232.54" cy="363.99" r="2.55"/><circle cx="241.48" cy="410.72" r="2.55"/><circle cx="245.87" cy="394.14" r="2.55"/><circle cx="241.74" cy="370.75" r="2.55"/><circle cx="233.1" cy="371.73" r="2.55"/><circle cx="235.52" cy="386.86" r="2.55"/><circle cx="251.05" cy="387.1" r="2.55"/><circle cx="246.93" cy="385.85" r="2.55"/><circle cx="251.92" cy="391.08" r="2.55"/><circle cx="239.75" cy="407.56" r="2.55"/><circle cx="228.25" cy="403.29" r="2.55"/><circle cx="232.76" cy="392.12" r="2.55"/><circle cx="236.49" cy="380.28" r="2.55"/><circle cx="237.47" cy="369.26" r="2.55"/><circle cx="225.68" cy="400.8" r="2.55"/><circle cx="226.6" cy="411.32" r="2.55"/><circle cx="234.84" cy="404.41" r="2.55"/><circle cx="228.3" cy="337.2" r="2.55"/><circle cx="228.3" cy="339.2" r="2.55"/><circle cx="239.8" cy="338.7" r="2.55"/><circle cx="239.8" cy="345.1" r="2.55"/><circle cx="228.3" cy="351" r="2.55"/><circle cx="228.3" cy="355.8" r="2.55"/><circle cx="235.5" cy="352.7" r="2.55"/><circle cx="229.4" cy="361.7" r="2.55"/><circle cx="239.6" cy="363.5" r="2.55"/><circle cx="242.1" cy="366.8" r="2.55"/><circle cx="272.7" cy="386" r="2.55"/><circle cx="272.7" cy="401.5" r="2.55"/><circle cx="280.5" cy="394.9" r="2.55"/><circle cx="280.5" cy="399.5" r="2.55"/><circle cx="279.4" cy="403.6" r="2.55"/><circle cx="281" cy="408.2" r="2.55"/><circle cx="286.2" cy="366.3" r="2.55"/><circle cx="286" cy="370.1" r="2.55"/><circle cx="289.1" cy="375" r="2.55"/><circle cx="289.3" cy="376.5" r="2.55"/><circle cx="300.9" cy="377.2" r="2.55"/><circle cx="325.4" cy="388" r="2.55"/><circle cx="294.9" cy="391.6" r="2.55"/><circle cx="294.9" cy="395.2" r="2.55"/><circle cx="280.9" cy="394.9" r="2.55"/><circle cx="280.9" cy="399.5" r="2.55"/><circle cx="279.1" cy="403.4" r="2.55"/><circle cx="282" cy="407.9" r="2.55"/><circle cx="293.2" cy="410.5" r="2.55"/><circle cx="300.9" cy="410.5" r="2.55"/></g>
<rect x="211.6" y="264.6" width="133.1" height="180.8" fill="none" stroke="#2b2b2b" stroke-width="1.15"/>
<g fill="#111" color="#111"><text x="185.49" y="449.15" font-size="12.5" textLength="16.09" lengthAdjust="spacingAndGlyphs">0.0</text><text x="185.49" y="412.99" font-size="12.5" textLength="16.09" lengthAdjust="spacingAndGlyphs">1.0</text><text x="185.49" y="376.83" font-size="12.5" textLength="16.09" lengthAdjust="spacingAndGlyphs">2.0</text><text x="185.49" y="340.67" font-size="12.5" textLength="16.09" lengthAdjust="spacingAndGlyphs">3.0</text><text x="185.49" y="304.51" font-size="12.5" textLength="16.09" lengthAdjust="spacingAndGlyphs">4.0</text><text x="185.49" y="268.35" font-size="12.5" textLength="16.09" lengthAdjust="spacingAndGlyphs">5.0</text><text x="208.53" y="463.9" font-size="12.3">0</text><text x="235.59" y="463.9" font-size="12.3">300</text><text x="268.89" y="463.9" font-size="12.3">600</text><text x="302.23" y="463.9" font-size="12.3">900</text><text x="332.09" y="463.9" font-size="12.3">1200</text></g>
<text x="259.05" y="479.7" font-size="13.5" font-style="italic">d</text><text x="269.62" y="479.7" font-size="13.5" textLength="31.26" lengthAdjust="spacingAndGlyphs">(mm)</text>
<g stroke="#2b2b2b" stroke-width="1"><line x1="374.3" y1="445.5" x2="378.3" y2="445.5"/><line x1="375.1" y1="427.4" x2="378.3" y2="427.4"/><line x1="374.3" y1="409.3" x2="378.3" y2="409.3"/><line x1="375.1" y1="391.2" x2="378.3" y2="391.2"/><line x1="374.3" y1="373.1" x2="378.3" y2="373.1"/><line x1="375.1" y1="355" x2="378.3" y2="355"/><line x1="374.3" y1="336.9" x2="378.3" y2="336.9"/><line x1="375.1" y1="318.8" x2="378.3" y2="318.8"/><line x1="374.3" y1="300.7" x2="378.3" y2="300.7"/><line x1="375.1" y1="282.6" x2="378.3" y2="282.6"/><line x1="374.3" y1="264.5" x2="378.3" y2="264.5"/><line x1="378.3" y1="445.5" x2="378.3" y2="448.8"/><line x1="416.1" y1="445.5" x2="416.1" y2="448.8"/><line x1="453.9" y1="445.5" x2="453.9" y2="448.8"/><line x1="491.7" y1="445.5" x2="491.7" y2="448.8"/></g>
<line x1="378.9" y1="409.6" x2="510.6" y2="409.6" stroke="#3a3a3a" stroke-width="1.5" stroke-dasharray="3.5 2.6"/>
<g fill="#d6d6d6" stroke="#000" stroke-width="1.1"><circle cx="411.4" cy="386.48" r="2.55"/><circle cx="428.09" cy="393" r="2.55"/><circle cx="432.72" cy="395.62" r="2.55"/><circle cx="421.65" cy="402.08" r="2.55"/><circle cx="417.21" cy="404.41" r="2.55"/><circle cx="423.31" cy="377.98" r="2.55"/><circle cx="429.11" cy="398.8" r="2.55"/><circle cx="425.44" cy="390.36" r="2.55"/><circle cx="416.19" cy="389.65" r="2.55"/><circle cx="431.07" cy="388.91" r="2.55"/><circle cx="419.02" cy="392.17" r="2.55"/><circle cx="422.02" cy="396.57" r="2.55"/><circle cx="423.67" cy="372.61" r="2.55"/><circle cx="416.2" cy="367.63" r="2.55"/><circle cx="425.99" cy="407.14" r="2.55"/><circle cx="416.8" cy="397.19" r="2.55"/><circle cx="425.44" cy="400.39" r="2.55"/><circle cx="412.22" cy="394.9" r="2.55"/><circle cx="419.04" cy="369.37" r="2.55"/><circle cx="418.15" cy="378.17" r="2.55"/><circle cx="419.6" cy="364.53" r="2.55"/><circle cx="426.17" cy="383.75" r="2.55"/><circle cx="415.08" cy="392.33" r="2.55"/><circle cx="417.63" cy="381.6" r="2.55"/><circle cx="416.25" cy="376.02" r="2.55"/><circle cx="425.9" cy="375.59" r="2.55"/><circle cx="415.96" cy="400.82" r="2.55"/><circle cx="422.46" cy="388.57" r="2.55"/><circle cx="422.17" cy="384.17" r="2.55"/><circle cx="429.33" cy="401.97" r="2.55"/><circle cx="412.23" cy="379.45" r="2.55"/><circle cx="428.25" cy="381.26" r="2.55"/><circle cx="426.42" cy="403.05" r="2.55"/><circle cx="430.21" cy="383.34" r="2.55"/><circle cx="426.56" cy="396.06" r="2.55"/><circle cx="415.37" cy="372.65" r="2.55"/><circle cx="418.05" cy="387.26" r="2.55"/><circle cx="415.38" cy="379.76" r="2.55"/><circle cx="416.23" cy="384.23" r="2.55"/><circle cx="425.62" cy="379.6" r="2.55"/><circle cx="431.55" cy="392.24" r="2.55"/><circle cx="424.41" cy="386.42" r="2.55"/><circle cx="412.07" cy="389.27" r="2.55"/><circle cx="426.94" cy="387.94" r="2.55"/><circle cx="421.92" cy="393.69" r="2.55"/><circle cx="414.15" cy="402.98" r="2.55"/><circle cx="421.9" cy="368.76" r="2.55"/><circle cx="418.27" cy="373.4" r="2.55"/><circle cx="412.79" cy="383.01" r="2.55"/><circle cx="421.17" cy="399.28" r="2.55"/><circle cx="422.09" cy="404.84" r="2.55"/><circle cx="420.65" cy="375.54" r="2.55"/><circle cx="414.18" cy="398.55" r="2.55"/><circle cx="420.46" cy="407.56" r="2.55"/><circle cx="419.2" cy="384.68" r="2.55"/><circle cx="413.02" cy="375.51" r="2.55"/><circle cx="415.08" cy="386.99" r="2.55"/><circle cx="420.84" cy="380.67" r="2.55"/><circle cx="427.9" cy="377.85" r="2.55"/><circle cx="417.19" cy="407.42" r="2.55"/><circle cx="418.6" cy="402" r="2.55"/><circle cx="420.93" cy="371.74" r="2.55"/><circle cx="423.74" cy="381.75" r="2.55"/><circle cx="436.75" cy="406.21" r="2.55"/><circle cx="439.98" cy="414.87" r="2.55"/><circle cx="446.01" cy="405.05" r="2.55"/><circle cx="430.9" cy="408.37" r="2.55"/><circle cx="433.22" cy="411.9" r="2.55"/><circle cx="443.86" cy="415.32" r="2.55"/><circle cx="443.28" cy="411.51" r="2.55"/><circle cx="446.12" cy="410.36" r="2.55"/><circle cx="441.55" cy="407.12" r="2.55"/><circle cx="436.7" cy="416.89" r="2.55"/><circle cx="432.57" cy="416.49" r="2.55"/><circle cx="438.57" cy="409.58" r="2.55"/><circle cx="430.46" cy="413.93" r="2.55"/><circle cx="436.71" cy="414.07" r="2.55"/><circle cx="441.66" cy="418.34" r="2.55"/><circle cx="435.46" cy="419.5" r="2.55"/><circle cx="447.66" cy="414.3" r="2.55"/><circle cx="433.99" cy="408.36" r="2.55"/><circle cx="439.21" cy="420.01" r="2.55"/><circle cx="439.8" cy="404.84" r="2.55"/><circle cx="444.81" cy="407.91" r="2.55"/><circle cx="435.83" cy="410.8" r="2.55"/><circle cx="447.62" cy="407.31" r="2.55"/><circle cx="409.2" cy="337.7" r="2.55"/><circle cx="411.7" cy="338.7" r="2.55"/><circle cx="409.2" cy="339.7" r="2.55"/><circle cx="404.9" cy="345.8" r="2.55"/><circle cx="411.7" cy="345.1" r="2.55"/><circle cx="408.7" cy="351.5" r="2.55"/><circle cx="405.6" cy="353" r="2.55"/><circle cx="408.7" cy="356.1" r="2.55"/><circle cx="407.6" cy="362.7" r="2.55"/><circle cx="407.4" cy="368.3" r="2.55"/><circle cx="406.6" cy="374.5" r="2.55"/><circle cx="407.6" cy="381.6" r="2.55"/><circle cx="406.6" cy="386.7" r="2.55"/><circle cx="407.6" cy="392.3" r="2.55"/><circle cx="407.6" cy="396.4" r="2.55"/><circle cx="407.5" cy="365.5" r="2.55"/><circle cx="407" cy="371.5" r="2.55"/><circle cx="407" cy="378" r="2.55"/><circle cx="407" cy="384" r="2.55"/><circle cx="407" cy="389.5" r="2.55"/><circle cx="428.3" cy="371.7" r="2.55"/><circle cx="434.2" cy="377.2" r="2.55"/><circle cx="438.1" cy="382.1" r="2.55"/><circle cx="437.1" cy="386.7" r="2.55"/><circle cx="436.2" cy="394.4" r="2.55"/><circle cx="444.9" cy="377" r="2.55"/><circle cx="444.9" cy="380.6" r="2.55"/><circle cx="444.9" cy="394.9" r="2.55"/><circle cx="412.2" cy="404.6" r="2.55"/><circle cx="419.4" cy="408.2" r="2.55"/><circle cx="425.8" cy="410.7" r="2.55"/><circle cx="445.1" cy="395" r="2.55"/><circle cx="448.4" cy="396.6" r="2.55"/><circle cx="452.3" cy="392.5" r="2.55"/><circle cx="455.8" cy="395.6" r="2.55"/><circle cx="454.3" cy="400.7" r="2.55"/><circle cx="457.4" cy="399.3" r="2.55"/><circle cx="462.5" cy="399.3" r="2.55"/><circle cx="457.9" cy="403.4" r="2.55"/><circle cx="455.3" cy="406.5" r="2.55"/><circle cx="461.5" cy="405" r="2.55"/><circle cx="463.5" cy="408" r="2.55"/><circle cx="462" cy="411.1" r="2.55"/><circle cx="466.6" cy="407" r="2.55"/><circle cx="470.7" cy="395.3" r="2.55"/><circle cx="471.7" cy="406" r="2.55"/><circle cx="475.8" cy="406.8" r="2.55"/><circle cx="478.8" cy="408" r="2.55"/><circle cx="482.1" cy="409.3" r="2.55"/><circle cx="447.2" cy="406.5" r="2.55"/><circle cx="447.4" cy="412.6" r="2.55"/><circle cx="441.5" cy="407" r="2.55"/><circle cx="442" cy="415.2" r="2.55"/><circle cx="441" cy="419.3" r="2.55"/><circle cx="453.8" cy="415.7" r="2.55"/><circle cx="468.9" cy="415.2" r="2.55"/><circle cx="475.3" cy="414.2" r="2.55"/><circle cx="480.4" cy="419.8" r="2.55"/><circle cx="498.8" cy="410.8" r="2.55"/></g>
<rect x="378.3" y="264.5" width="132.3" height="181" fill="none" stroke="#2b2b2b" stroke-width="1.15"/>
<g fill="#111" color="#111"><text x="351.94" y="449.18" font-size="12.3" textLength="15.84" lengthAdjust="spacingAndGlyphs">0.0</text><text x="351.94" y="412.98" font-size="12.3" textLength="15.84" lengthAdjust="spacingAndGlyphs">1.0</text><text x="351.94" y="376.78" font-size="12.3" textLength="15.84" lengthAdjust="spacingAndGlyphs">2.0</text><text x="351.94" y="340.58" font-size="12.3" textLength="15.84" lengthAdjust="spacingAndGlyphs">3.0</text><text x="351.94" y="304.38" font-size="12.3" textLength="15.84" lengthAdjust="spacingAndGlyphs">4.0</text><text x="351.94" y="268.18" font-size="12.3" textLength="15.84" lengthAdjust="spacingAndGlyphs">5.0</text><text x="375" y="463.9" font-size="12.5">1</text><text x="412.93" y="463.9" font-size="12.5">3</text><text x="450.67" y="463.9" font-size="12.5">5</text><text x="488.36" y="463.9" font-size="12.5">7</text></g>
<text x="440.68" y="479.7" font-size="13.5" font-style="italic" textLength="17.89" lengthAdjust="spacingAndGlyphs">a/d</text>
<g stroke="#2b2b2b" stroke-width="1"><line x1="541.5" y1="446" x2="545.5" y2="446"/><line x1="542.3" y1="427.85" x2="545.5" y2="427.85"/><line x1="541.5" y1="409.7" x2="545.5" y2="409.7"/><line x1="542.3" y1="391.55" x2="545.5" y2="391.55"/><line x1="541.5" y1="373.4" x2="545.5" y2="373.4"/><line x1="542.3" y1="355.25" x2="545.5" y2="355.25"/><line x1="541.5" y1="337.1" x2="545.5" y2="337.1"/><line x1="542.3" y1="318.95" x2="545.5" y2="318.95"/><line x1="541.5" y1="300.8" x2="545.5" y2="300.8"/><line x1="542.3" y1="282.65" x2="545.5" y2="282.65"/><line x1="541.5" y1="264.5" x2="545.5" y2="264.5"/><line x1="545.5" y1="446" x2="545.5" y2="449.3"/><line x1="572.04" y1="446" x2="572.04" y2="449.3"/><line x1="598.58" y1="446" x2="598.58" y2="449.3"/><line x1="625.12" y1="446" x2="625.12" y2="449.3"/><line x1="651.66" y1="446" x2="651.66" y2="449.3"/><line x1="678.2" y1="446" x2="678.2" y2="449.3"/></g>
<line x1="546.1" y1="410" x2="678.2" y2="410" stroke="#3a3a3a" stroke-width="1.5" stroke-dasharray="3.5 2.6"/>
<g fill="#d6d6d6" stroke="#000" stroke-width="1.1"><circle cx="551.22" cy="417.7" r="2.55"/><circle cx="560.29" cy="379.68" r="2.55"/><circle cx="566.55" cy="374.94" r="2.55"/><circle cx="551.47" cy="397.97" r="2.55"/><circle cx="560.3" cy="405.74" r="2.55"/><circle cx="558.56" cy="370.1" r="2.55"/><circle cx="555.62" cy="401.52" r="2.55"/><circle cx="558.96" cy="374.65" r="2.55"/><circle cx="574.36" cy="384.27" r="2.55"/><circle cx="571.33" cy="393.94" r="2.55"/><circle cx="562.42" cy="382.58" r="2.55"/><circle cx="555.75" cy="377.1" r="2.55"/><circle cx="549.31" cy="410.04" r="2.55"/><circle cx="571.01" cy="381.22" r="2.55"/><circle cx="562.57" cy="393.45" r="2.55"/><circle cx="553.55" cy="382.67" r="2.55"/><circle cx="569.62" cy="384.05" r="2.55"/><circle cx="569.11" cy="390.84" r="2.55"/><circle cx="561.5" cy="371.43" r="2.55"/><circle cx="566.2" cy="405.02" r="2.55"/><circle cx="568.17" cy="381.1" r="2.55"/><circle cx="566.12" cy="398.45" r="2.55"/><circle cx="564.94" cy="379.19" r="2.55"/><circle cx="555.95" cy="384.09" r="2.55"/><circle cx="552.09" cy="407.25" r="2.55"/><circle cx="556.05" cy="411.68" r="2.55"/><circle cx="558.32" cy="416.9" r="2.55"/><circle cx="555.61" cy="415.73" r="2.55"/><circle cx="566.54" cy="395.05" r="2.55"/><circle cx="562.57" cy="407.61" r="2.55"/><circle cx="563.23" cy="387.31" r="2.55"/><circle cx="558.75" cy="390.2" r="2.55"/><circle cx="570.24" cy="401.14" r="2.55"/><circle cx="550" cy="391.93" r="2.55"/><circle cx="567.03" cy="385.31" r="2.55"/><circle cx="559.94" cy="409.55" r="2.55"/><circle cx="569.63" cy="397.89" r="2.55"/><circle cx="562.22" cy="416.62" r="2.55"/><circle cx="552.41" cy="410.56" r="2.55"/><circle cx="568.94" cy="377.55" r="2.55"/><circle cx="565.35" cy="382.73" r="2.55"/><circle cx="557.35" cy="405.04" r="2.55"/><circle cx="558.86" cy="394.7" r="2.55"/><circle cx="571.9" cy="387.67" r="2.55"/><circle cx="563.72" cy="401.38" r="2.55"/><circle cx="551.04" cy="404.13" r="2.55"/><circle cx="574.29" cy="394.97" r="2.55"/><circle cx="555.33" cy="407.16" r="2.55"/><circle cx="553.44" cy="386.98" r="2.55"/><circle cx="548.49" cy="398.99" r="2.55"/><circle cx="551.72" cy="389.49" r="2.55"/><circle cx="573.86" cy="390.29" r="2.55"/><circle cx="549.01" cy="415.34" r="2.55"/><circle cx="552.39" cy="379.53" r="2.55"/><circle cx="559.08" cy="384.97" r="2.55"/><circle cx="562.19" cy="377.02" r="2.55"/><circle cx="563.13" cy="404.58" r="2.55"/><circle cx="563.49" cy="413.54" r="2.55"/><circle cx="555.32" cy="394.54" r="2.55"/><circle cx="550.26" cy="385.36" r="2.55"/><circle cx="566.9" cy="407.87" r="2.55"/><circle cx="548.77" cy="402.3" r="2.55"/><circle cx="558.57" cy="400.59" r="2.55"/><circle cx="566.54" cy="401.51" r="2.55"/><circle cx="575.29" cy="387.05" r="2.55"/><circle cx="562.39" cy="397.66" r="2.55"/><circle cx="547.55" cy="405.29" r="2.55"/><circle cx="550.12" cy="382.05" r="2.55"/><circle cx="559.46" cy="412.77" r="2.55"/><circle cx="553.2" cy="392.61" r="2.55"/><circle cx="563.9" cy="373.76" r="2.55"/><circle cx="551.78" cy="413.54" r="2.55"/><circle cx="548.91" cy="394.75" r="2.55"/><circle cx="569.22" cy="405.07" r="2.55"/><circle cx="560.91" cy="419.58" r="2.55"/><circle cx="555.28" cy="419.2" r="2.55"/><circle cx="557.85" cy="381.11" r="2.55"/><circle cx="563.69" cy="390.23" r="2.55"/><circle cx="566.65" cy="388.22" r="2.55"/><circle cx="554.36" cy="398.42" r="2.55"/><circle cx="585.1" cy="339" r="2.55"/><circle cx="596.9" cy="337.7" r="2.55"/><circle cx="596.9" cy="339.7" r="2.55"/><circle cx="596.9" cy="344.8" r="2.55"/><circle cx="596.9" cy="351.5" r="2.55"/><circle cx="596.9" cy="356.4" r="2.55"/><circle cx="572.1" cy="345.6" r="2.55"/><circle cx="568.8" cy="353" r="2.55"/><circle cx="558.1" cy="363.7" r="2.55"/><circle cx="572.1" cy="363.2" r="2.55"/><circle cx="572.1" cy="367.8" r="2.55"/><circle cx="572.1" cy="375" r="2.55"/><circle cx="574.1" cy="380.6" r="2.55"/><circle cx="580.6" cy="366.3" r="2.55"/><circle cx="580.8" cy="370.4" r="2.55"/><circle cx="583.3" cy="371.9" r="2.55"/><circle cx="606.1" cy="361.7" r="2.55"/><circle cx="605.8" cy="366.3" r="2.55"/><circle cx="604.8" cy="368.8" r="2.55"/><circle cx="596.9" cy="371.9" r="2.55"/><circle cx="600.7" cy="375.2" r="2.55"/><circle cx="588.4" cy="379.9" r="2.55"/><circle cx="588.4" cy="385.7" r="2.55"/><circle cx="588.4" cy="388.8" r="2.55"/><circle cx="588.4" cy="393.2" r="2.55"/><circle cx="605.3" cy="381.3" r="2.55"/><circle cx="600.2" cy="385.2" r="2.55"/><circle cx="600.2" cy="391.8" r="2.55"/><circle cx="605.3" cy="391.1" r="2.55"/><circle cx="577.7" cy="386.7" r="2.55"/><circle cx="580.8" cy="388.2" r="2.55"/><circle cx="575.7" cy="403.6" r="2.55"/><circle cx="566.5" cy="407.5" r="2.55"/><circle cx="586.4" cy="407.7" r="2.55"/><circle cx="587.4" cy="411.7" r="2.55"/><circle cx="600" cy="407.2" r="2.55"/><circle cx="600" cy="410.7" r="2.55"/><circle cx="558.3" cy="420.4" r="2.55"/><circle cx="600.2" cy="388.5" r="2.55"/><circle cx="644.1" cy="382.5" r="2.55"/><circle cx="661.4" cy="389.1" r="2.55"/><circle cx="656.4" cy="400.9" r="2.55"/></g>
<rect x="545.5" y="264.5" width="132.7" height="181.5" fill="none" stroke="#2b2b2b" stroke-width="1.15"/>
<g fill="#111" color="#111"><text x="519.44" y="449.68" font-size="12.3" textLength="15.84" lengthAdjust="spacingAndGlyphs">0.0</text><text x="519.44" y="413.38" font-size="12.3" textLength="15.84" lengthAdjust="spacingAndGlyphs">1.0</text><text x="519.44" y="377.08" font-size="12.3" textLength="15.84" lengthAdjust="spacingAndGlyphs">2.0</text><text x="519.44" y="340.78" font-size="12.3" textLength="15.84" lengthAdjust="spacingAndGlyphs">3.0</text><text x="519.44" y="304.48" font-size="12.3" textLength="15.84" lengthAdjust="spacingAndGlyphs">4.0</text><text x="519.44" y="268.18" font-size="12.3" textLength="15.84" lengthAdjust="spacingAndGlyphs">5.0</text><text x="542.35" y="464.5" font-size="12" textLength="6.3" lengthAdjust="spacingAndGlyphs">0</text><text x="561.13" y="464.5" font-size="12" textLength="22.05" lengthAdjust="spacingAndGlyphs">0.02</text><text x="587.41" y="464.5" font-size="12" textLength="22.05" lengthAdjust="spacingAndGlyphs">0.04</text><text x="614.05" y="464.5" font-size="12" textLength="22.05" lengthAdjust="spacingAndGlyphs">0.06</text><text x="640.64" y="464.5" font-size="12" textLength="22.05" lengthAdjust="spacingAndGlyphs">0.08</text><text x="670.47" y="464.5" font-size="12" textLength="15.75" lengthAdjust="spacingAndGlyphs">0.1</text></g>
<text x="612.2" y="479.8" font-size="14" font-style="italic">ρ</text><text x="619.34" y="483.3" font-size="9.8" font-style="italic">l</text>
<g transform="translate(9.6,383.4) rotate(-90)"><text x="-3.96" y="0" font-size="14.5" font-style="italic" transform="skewX(-14)">V</text><text x="6.18" y="3.5" font-size="9.3" font-style="italic">test</text><text x="18.83" y="0" font-size="14" font-style="italic">/</text><text x="21.44" y="0" font-size="14.5" font-style="italic" transform="skewX(-14)">V</text><text x="32.53" y="3.5" font-size="9.3" font-style="italic">predict</text></g>
<g fill="#0000ff" color="#0000ff"><text x="51.04" y="279.2" font-size="11.5" textLength="66.42" lengthAdjust="spacingAndGlyphs">Mean = 1.494</text><text x="50.92" y="293.3" font-size="11.5" textLength="58.3" lengthAdjust="spacingAndGlyphs">COV = 0.31</text><text x="51.04" y="307.4" font-size="11.5" textLength="55.2" lengthAdjust="spacingAndGlyphs">Max = 2.98</text><text x="51.04" y="321.5" font-size="11.5" textLength="56.2" lengthAdjust="spacingAndGlyphs">Min =  0.72</text><text x="599.64" y="278.5" font-size="11.5" textLength="6.61" lengthAdjust="spacingAndGlyphs">P</text><text x="607.09" y="281.6" font-size="7.9" textLength="14.28" lengthAdjust="spacingAndGlyphs">0.05</text><text x="622.41" y="278.5" font-size="11.5" textLength="30.46" lengthAdjust="spacingAndGlyphs">= 0.88</text><text x="599.88" y="292.6" font-size="11.5" textLength="57.84" lengthAdjust="spacingAndGlyphs">AAE = 0.31</text><text x="599.41" y="306.7" font-size="11.5" textLength="73.78" lengthAdjust="spacingAndGlyphs">&lt; 0.75 = 0.94%</text></g>
<text x="283.28" y="504" font-size="15.2" textLength="144.99" lengthAdjust="spacingAndGlyphs">(b) ACI 318-19 (2019)</text>
<g stroke="#2b2b2b" stroke-width="1"><line x1="41.3" y1="705.3" x2="45.3" y2="705.3"/><line x1="42.1" y1="687.29" x2="45.3" y2="687.29"/><line x1="41.3" y1="669.28" x2="45.3" y2="669.28"/><line x1="42.1" y1="651.27" x2="45.3" y2="651.27"/><line x1="41.3" y1="633.26" x2="45.3" y2="633.26"/><line x1="42.1" y1="615.25" x2="45.3" y2="615.25"/><line x1="41.3" y1="597.24" x2="45.3" y2="597.24"/><line x1="42.1" y1="579.23" x2="45.3" y2="579.23"/><line x1="41.3" y1="561.22" x2="45.3" y2="561.22"/><line x1="42.1" y1="543.21" x2="45.3" y2="543.21"/><line x1="41.3" y1="525.2" x2="45.3" y2="525.2"/><line x1="45.3" y1="705.3" x2="45.3" y2="708.6"/><line x1="78.83" y1="705.3" x2="78.83" y2="708.6"/><line x1="112.35" y1="705.3" x2="112.35" y2="708.6"/><line x1="145.88" y1="705.3" x2="145.88" y2="708.6"/><line x1="179.4" y1="705.3" x2="179.4" y2="708.6"/></g>
<line x1="45.9" y1="669.58" x2="179.4" y2="669.58" stroke="#3a3a3a" stroke-width="1.5" stroke-dasharray="3.5 2.6"/>
<g fill="#d6d6d6" stroke="#000" stroke-width="1.1"><circle cx="101.04" cy="674.77" r="2.55"/><circle cx="63.2" cy="659.25" r="2.55"/><circle cx="69.74" cy="665.23" r="2.55"/><circle cx="65.74" cy="672.27" r="2.55"/><circle cx="82.87" cy="669.35" r="2.55"/><circle cx="67.21" cy="662.55" r="2.55"/><circle cx="95.43" cy="657.39" r="2.55"/><circle cx="70.52" cy="660.77" r="2.55"/><circle cx="61.61" cy="677.66" r="2.55"/><circle cx="84.63" cy="661.86" r="2.55"/><circle cx="93.21" cy="666.51" r="2.55"/><circle cx="78.58" cy="658.85" r="2.55"/><circle cx="81.7" cy="664.32" r="2.55"/><circle cx="100.41" cy="678.82" r="2.55"/><circle cx="79.97" cy="681.67" r="2.55"/><circle cx="89.63" cy="671.88" r="2.55"/><circle cx="88.03" cy="660.71" r="2.55"/><circle cx="88.61" cy="669.1" r="2.55"/><circle cx="82.31" cy="660.23" r="2.55"/><circle cx="103.22" cy="670.25" r="2.55"/><circle cx="80.69" cy="672.42" r="2.55"/><circle cx="76.55" cy="664.45" r="2.55"/><circle cx="98.83" cy="673.03" r="2.55"/><circle cx="94.88" cy="677.68" r="2.55"/><circle cx="76.56" cy="655.72" r="2.55"/><circle cx="75.17" cy="670.91" r="2.55"/><circle cx="80.22" cy="675.42" r="2.55"/><circle cx="61.68" cy="662.78" r="2.55"/><circle cx="88" cy="679.46" r="2.55"/><circle cx="92.24" cy="679.07" r="2.55"/><circle cx="94.87" cy="661.34" r="2.55"/><circle cx="70.73" cy="678" r="2.55"/><circle cx="88.6" cy="675.52" r="2.55"/><circle cx="74.9" cy="658.39" r="2.55"/><circle cx="97.3" cy="665.73" r="2.55"/><circle cx="82.9" cy="677.01" r="2.55"/><circle cx="80.33" cy="666.96" r="2.55"/><circle cx="75.43" cy="674" r="2.55"/><circle cx="102.83" cy="665.09" r="2.55"/><circle cx="89.08" cy="654.78" r="2.55"/><circle cx="64.22" cy="665.69" r="2.55"/><circle cx="67.94" cy="677.14" r="2.55"/><circle cx="94.74" cy="673.66" r="2.55"/><circle cx="61.79" cy="672.76" r="2.55"/><circle cx="66.43" cy="679.61" r="2.55"/><circle cx="72.78" cy="664.61" r="2.55"/><circle cx="85.01" cy="656.11" r="2.55"/><circle cx="64.27" cy="674.94" r="2.55"/><circle cx="92.14" cy="658.44" r="2.55"/><circle cx="67.3" cy="655.54" r="2.55"/><circle cx="90.44" cy="662.32" r="2.55"/><circle cx="98.33" cy="668.88" r="2.55"/><circle cx="94.04" cy="669.24" r="2.55"/><circle cx="91.29" cy="674.38" r="2.55"/><circle cx="98.21" cy="677.29" r="2.55"/><circle cx="67.05" cy="669.12" r="2.55"/><circle cx="71.75" cy="668.3" r="2.55"/><circle cx="68.91" cy="673.86" r="2.55"/><circle cx="76.29" cy="678.6" r="2.55"/><circle cx="100.62" cy="662.14" r="2.55"/><circle cx="100.67" cy="667.3" r="2.55"/><circle cx="86.13" cy="673.08" r="2.55"/><circle cx="98.82" cy="658.1" r="2.55"/><circle cx="70.24" cy="680.88" r="2.55"/><circle cx="59.54" cy="671.31" r="2.55"/><circle cx="92.67" cy="653.05" r="2.55"/><circle cx="83.11" cy="681.17" r="2.55"/><circle cx="80.81" cy="654.61" r="2.55"/><circle cx="87.17" cy="665.16" r="2.55"/><circle cx="67.17" cy="658.98" r="2.55"/><circle cx="61.26" cy="666.02" r="2.55"/><circle cx="79.08" cy="678.33" r="2.55"/><circle cx="70.36" cy="655.69" r="2.55"/><circle cx="78.71" cy="662.25" r="2.55"/><circle cx="90.45" cy="665.89" r="2.55"/><circle cx="75.54" cy="652.66" r="2.55"/><circle cx="74.45" cy="661.03" r="2.55"/><circle cx="63.92" cy="670.13" r="2.55"/><circle cx="85.93" cy="667.6" r="2.55"/><circle cx="72.81" cy="675.73" r="2.55"/><circle cx="73.59" cy="681.95" r="2.55"/><circle cx="75.4" cy="667.3" r="2.55"/><circle cx="71.45" cy="673" r="2.55"/><circle cx="79.62" cy="669.72" r="2.55"/><circle cx="58.45" cy="674.39" r="2.55"/><circle cx="86.62" cy="653.6" r="2.55"/><circle cx="97.03" cy="653.99" r="2.55"/><circle cx="73.18" cy="655.8" r="2.55"/><circle cx="89.12" cy="657.7" r="2.55"/><circle cx="69.64" cy="670.77" r="2.55"/><circle cx="66.96" cy="665.88" r="2.55"/><circle cx="100.64" cy="655.6" r="2.55"/><circle cx="105.6" cy="619.9" r="2.55"/><circle cx="88.6" cy="624.7" r="2.55"/><circle cx="76.9" cy="630.2" r="2.55"/><circle cx="74.1" cy="632.4" r="2.55"/><circle cx="81.8" cy="638.7" r="2.55"/><circle cx="87.7" cy="636.5" r="2.55"/><circle cx="104.9" cy="636.2" r="2.55"/><circle cx="111.7" cy="639" r="2.55"/><circle cx="110.4" cy="651.5" r="2.55"/><circle cx="110.6" cy="667.2" r="2.55"/><circle cx="82" cy="645.7" r="2.55"/><circle cx="87.9" cy="646.7" r="2.55"/><circle cx="89.5" cy="683.5" r="2.55"/><circle cx="96.9" cy="686.6" r="2.55"/><circle cx="59.3" cy="674.3" r="2.55"/><circle cx="135.3" cy="605.8" r="2.55"/><circle cx="153" cy="603.3" r="2.55"/><circle cx="153" cy="608.6" r="2.55"/><circle cx="152" cy="611.5" r="2.55"/><circle cx="128" cy="623.5" r="2.55"/><circle cx="128" cy="631.4" r="2.55"/><circle cx="129.3" cy="634.1" r="2.55"/><circle cx="127.5" cy="636" r="2.55"/><circle cx="129.3" cy="639.8" r="2.55"/><circle cx="129" cy="643.1" r="2.55"/><circle cx="129.3" cy="650.1" r="2.55"/><circle cx="130" cy="655.4" r="2.55"/><circle cx="127" cy="660" r="2.55"/><circle cx="128.3" cy="663.6" r="2.55"/><circle cx="128.3" cy="666.4" r="2.55"/><circle cx="127.7" cy="669.2" r="2.55"/><circle cx="132.1" cy="661" r="2.55"/><circle cx="136.9" cy="659.7" r="2.55"/><circle cx="135.5" cy="663.1" r="2.55"/><circle cx="150" cy="633.9" r="2.55"/><circle cx="150" cy="636" r="2.55"/><circle cx="140" cy="642.6" r="2.55"/><circle cx="140" cy="644.2" r="2.55"/><circle cx="111.6" cy="639" r="2.55"/><circle cx="119.6" cy="645.2" r="2.55"/><circle cx="110.6" cy="651.8" r="2.55"/><circle cx="118.3" cy="656.4" r="2.55"/><circle cx="110.6" cy="667.5" r="2.55"/><circle cx="142.6" cy="663.6" r="2.55"/><circle cx="146.9" cy="664.6" r="2.55"/><circle cx="137.7" cy="669.5" r="2.55"/><circle cx="142" cy="669.7" r="2.55"/><circle cx="133.1" cy="677.4" r="2.55"/><circle cx="159.9" cy="676" r="2.55"/><circle cx="106" cy="620.1" r="2.55"/><circle cx="106" cy="636.5" r="2.55"/></g>
<rect x="45.3" y="525.2" width="134.1" height="180.1" fill="none" stroke="#2b2b2b" stroke-width="1.15"/>
<g fill="#111" color="#111"><text x="18.99" y="709.05" font-size="12.5" textLength="16.09" lengthAdjust="spacingAndGlyphs">0.0</text><text x="18.99" y="673.03" font-size="12.5" textLength="16.09" lengthAdjust="spacingAndGlyphs">1.0</text><text x="18.99" y="637.01" font-size="12.5" textLength="16.09" lengthAdjust="spacingAndGlyphs">2.0</text><text x="18.99" y="600.99" font-size="12.5" textLength="16.09" lengthAdjust="spacingAndGlyphs">3.0</text><text x="18.99" y="564.97" font-size="12.5" textLength="16.09" lengthAdjust="spacingAndGlyphs">4.0</text><text x="18.99" y="528.95" font-size="12.5" textLength="16.09" lengthAdjust="spacingAndGlyphs">5.0</text><text x="42.22" y="723.9" font-size="12.3">0</text><text x="72.61" y="723.9" font-size="12.3">30</text><text x="106.17" y="723.9" font-size="12.3">60</text><text x="139.76" y="723.9" font-size="12.3">90</text><text x="169.87" y="723.9" font-size="12.3">120</text></g>
<text x="82.74" y="739.6" font-size="13.8" font-style="italic" textLength="4.68" lengthAdjust="spacingAndGlyphs">f</text><text x="90.87" y="739.6" font-size="13.5">’</text><text x="94.77" y="743" font-size="9.5" font-style="italic">c</text><text x="102.31" y="739.6" font-size="13.5" textLength="36.35" lengthAdjust="spacingAndGlyphs">(MPa)</text>
<g stroke="#2b2b2b" stroke-width="1"><line x1="208.1" y1="704.7" x2="212.1" y2="704.7"/><line x1="208.9" y1="686.65" x2="212.1" y2="686.65"/><line x1="208.1" y1="668.6" x2="212.1" y2="668.6"/><line x1="208.9" y1="650.55" x2="212.1" y2="650.55"/><line x1="208.1" y1="632.5" x2="212.1" y2="632.5"/><line x1="208.9" y1="614.45" x2="212.1" y2="614.45"/><line x1="208.1" y1="596.4" x2="212.1" y2="596.4"/><line x1="208.9" y1="578.35" x2="212.1" y2="578.35"/><line x1="208.1" y1="560.3" x2="212.1" y2="560.3"/><line x1="208.9" y1="542.25" x2="212.1" y2="542.25"/><line x1="208.1" y1="524.2" x2="212.1" y2="524.2"/><line x1="212.1" y1="704.7" x2="212.1" y2="708"/><line x1="245.47" y1="704.7" x2="245.47" y2="708"/><line x1="278.85" y1="704.7" x2="278.85" y2="708"/><line x1="312.23" y1="704.7" x2="312.23" y2="708"/><line x1="345.6" y1="704.7" x2="345.6" y2="708"/></g>
<line x1="212.7" y1="668.9" x2="345.6" y2="668.9" stroke="#3a3a3a" stroke-width="1.5" stroke-dasharray="3.5 2.6"/>
<g fill="#d6d6d6" stroke="#000" stroke-width="1.1"><circle cx="238.14" cy="672.43" r="2.55"/><circle cx="222.82" cy="664.03" r="2.55"/><circle cx="234.28" cy="678.24" r="2.55"/><circle cx="235.26" cy="658.73" r="2.55"/><circle cx="235.52" cy="651.81" r="2.55"/><circle cx="248.03" cy="666.35" r="2.55"/><circle cx="238.91" cy="681.69" r="2.55"/><circle cx="231.36" cy="654.83" r="2.55"/><circle cx="224.5" cy="667.74" r="2.55"/><circle cx="230.8" cy="670.19" r="2.55"/><circle cx="242.37" cy="662.41" r="2.55"/><circle cx="239.58" cy="658.25" r="2.55"/><circle cx="245.39" cy="667.96" r="2.55"/><circle cx="229.82" cy="664.18" r="2.55"/><circle cx="234.07" cy="665.03" r="2.55"/><circle cx="236.59" cy="667.02" r="2.55"/><circle cx="241.27" cy="651.93" r="2.55"/><circle cx="241.74" cy="671.92" r="2.55"/><circle cx="226.8" cy="671.81" r="2.55"/><circle cx="248.06" cy="670.77" r="2.55"/><circle cx="224.12" cy="670.45" r="2.55"/><circle cx="235.31" cy="672.73" r="2.55"/><circle cx="233.18" cy="682.47" r="2.55"/><circle cx="248.78" cy="659.86" r="2.55"/><circle cx="226.49" cy="657.63" r="2.55"/><circle cx="243.68" cy="676.31" r="2.55"/><circle cx="237.07" cy="661.13" r="2.55"/><circle cx="250.06" cy="675.09" r="2.55"/><circle cx="239.38" cy="665.46" r="2.55"/><circle cx="234.25" cy="655.43" r="2.55"/><circle cx="245.02" cy="663.98" r="2.55"/><circle cx="242.13" cy="667.08" r="2.55"/><circle cx="236.16" cy="680.16" r="2.55"/><circle cx="248.18" cy="663.15" r="2.55"/><circle cx="243.73" cy="653.37" r="2.55"/><circle cx="228.72" cy="676.96" r="2.55"/><circle cx="247.29" cy="655.8" r="2.55"/><circle cx="252.07" cy="661.26" r="2.55"/><circle cx="231.8" cy="666.49" r="2.55"/><circle cx="226.04" cy="675.68" r="2.55"/><circle cx="251.98" cy="667.08" r="2.55"/><circle cx="230.78" cy="680.61" r="2.55"/><circle cx="240.47" cy="678.23" r="2.55"/><circle cx="227.34" cy="669.04" r="2.55"/><circle cx="227.58" cy="679.66" r="2.55"/><circle cx="244.53" cy="672.82" r="2.55"/><circle cx="230.55" cy="660.41" r="2.55"/><circle cx="230.75" cy="652.09" r="2.55"/><circle cx="229.64" cy="657.63" r="2.55"/><circle cx="243.69" cy="656.35" r="2.55"/><circle cx="243.93" cy="659.86" r="2.55"/><circle cx="229.58" cy="673.21" r="2.55"/><circle cx="226.06" cy="654.95" r="2.55"/><circle cx="238.76" cy="655.4" r="2.55"/><circle cx="237.29" cy="675.19" r="2.55"/><circle cx="239.33" cy="649.33" r="2.55"/><circle cx="251.78" cy="672.09" r="2.55"/><circle cx="225.35" cy="662.07" r="2.55"/><circle cx="240.29" cy="669.61" r="2.55"/><circle cx="234.06" cy="670.18" r="2.55"/><circle cx="246.98" cy="675.68" r="2.55"/><circle cx="240.25" cy="674.84" r="2.55"/><circle cx="232.46" cy="676.17" r="2.55"/><circle cx="228.14" cy="666.44" r="2.55"/><circle cx="228.28" cy="653.45" r="2.55"/><circle cx="237.1" cy="669.74" r="2.55"/><circle cx="250.93" cy="663.82" r="2.55"/><circle cx="236.86" cy="664" r="2.55"/><circle cx="232.42" cy="657.86" r="2.55"/><circle cx="246.44" cy="658.55" r="2.55"/><circle cx="234.07" cy="662.25" r="2.55"/><circle cx="232.64" cy="672.9" r="2.55"/><circle cx="239.43" cy="662.75" r="2.55"/><circle cx="227.64" cy="660.57" r="2.55"/><circle cx="249.61" cy="668.54" r="2.55"/><circle cx="225.4" cy="665.2" r="2.55"/><circle cx="236.77" cy="648.05" r="2.55"/><circle cx="224.16" cy="659.31" r="2.55"/><circle cx="233" cy="650.37" r="2.55"/><circle cx="252.69" cy="674.62" r="2.55"/><circle cx="238.14" cy="652.38" r="2.55"/><circle cx="235.82" cy="683.11" r="2.55"/><circle cx="241.5" cy="654.83" r="2.55"/><circle cx="229.7" cy="605.3" r="2.55"/><circle cx="229.7" cy="610.9" r="2.55"/><circle cx="229.7" cy="619.6" r="2.55"/><circle cx="229.7" cy="623.9" r="2.55"/><circle cx="229.7" cy="636" r="2.55"/><circle cx="228.3" cy="642.3" r="2.55"/><circle cx="229.7" cy="646.2" r="2.55"/><circle cx="235.5" cy="629.6" r="2.55"/><circle cx="240.1" cy="631.9" r="2.55"/><circle cx="240.1" cy="638" r="2.55"/><circle cx="240.4" cy="645.7" r="2.55"/><circle cx="240.1" cy="652.3" r="2.55"/><circle cx="253.2" cy="622.9" r="2.55"/><circle cx="253.2" cy="630.9" r="2.55"/><circle cx="255.2" cy="633.7" r="2.55"/><circle cx="253.2" cy="639" r="2.55"/><circle cx="253.2" cy="646.2" r="2.55"/><circle cx="253.2" cy="651.1" r="2.55"/><circle cx="250.8" cy="656.2" r="2.55"/><circle cx="250.8" cy="663.6" r="2.55"/><circle cx="250" cy="668.7" r="2.55"/><circle cx="250.6" cy="675.8" r="2.55"/><circle cx="246.7" cy="654.4" r="2.55"/><circle cx="272.8" cy="659.5" r="2.55"/><circle cx="272.8" cy="676.9" r="2.55"/><circle cx="280.5" cy="666.6" r="2.55"/><circle cx="279.4" cy="672.3" r="2.55"/><circle cx="280.5" cy="677.9" r="2.55"/><circle cx="222.7" cy="665.1" r="2.55"/><circle cx="224.3" cy="658" r="2.55"/><circle cx="253.2" cy="642.5" r="2.55"/><circle cx="253.2" cy="635.5" r="2.55"/><circle cx="286.2" cy="603.1" r="2.55"/><circle cx="286.2" cy="607.9" r="2.55"/><circle cx="289.6" cy="633.7" r="2.55"/><circle cx="289.6" cy="635.2" r="2.55"/><circle cx="325.8" cy="645" r="2.55"/><circle cx="295.1" cy="659" r="2.55"/><circle cx="293.4" cy="663.4" r="2.55"/><circle cx="295.1" cy="668.7" r="2.55"/><circle cx="301.1" cy="666.6" r="2.55"/><circle cx="281.3" cy="666.6" r="2.55"/><circle cx="282.7" cy="669.7" r="2.55"/><circle cx="279.6" cy="672.3" r="2.55"/><circle cx="280.9" cy="674.8" r="2.55"/><circle cx="280.9" cy="678.9" r="2.55"/><circle cx="301.1" cy="686.1" r="2.55"/></g>
<rect x="212.1" y="524.2" width="133.5" height="180.5" fill="none" stroke="#2b2b2b" stroke-width="1.15"/>
<g fill="#111" color="#111"><text x="185.69" y="708.45" font-size="12.5" textLength="16.09" lengthAdjust="spacingAndGlyphs">0.0</text><text x="185.69" y="672.35" font-size="12.5" textLength="16.09" lengthAdjust="spacingAndGlyphs">1.0</text><text x="185.69" y="636.25" font-size="12.5" textLength="16.09" lengthAdjust="spacingAndGlyphs">2.0</text><text x="185.69" y="600.15" font-size="12.5" textLength="16.09" lengthAdjust="spacingAndGlyphs">3.0</text><text x="185.69" y="564.05" font-size="12.5" textLength="16.09" lengthAdjust="spacingAndGlyphs">4.0</text><text x="185.69" y="527.95" font-size="12.5" textLength="16.09" lengthAdjust="spacingAndGlyphs">5.0</text><text x="209.03" y="723.9" font-size="12.3">0</text><text x="236.19" y="723.9" font-size="12.3">300</text><text x="269.59" y="723.9" font-size="12.3">600</text><text x="303.03" y="723.9" font-size="12.3">900</text><text x="332.99" y="723.9" font-size="12.3">1200</text></g>
<text x="259.75" y="739.7" font-size="13.5" font-style="italic">d</text><text x="270.32" y="739.7" font-size="13.5" textLength="31.26" lengthAdjust="spacingAndGlyphs">(mm)</text>
<g stroke="#2b2b2b" stroke-width="1"><line x1="374.2" y1="705.3" x2="378.2" y2="705.3"/><line x1="375" y1="687.19" x2="378.2" y2="687.19"/><line x1="374.2" y1="669.08" x2="378.2" y2="669.08"/><line x1="375" y1="650.97" x2="378.2" y2="650.97"/><line x1="374.2" y1="632.86" x2="378.2" y2="632.86"/><line x1="375" y1="614.75" x2="378.2" y2="614.75"/><line x1="374.2" y1="596.64" x2="378.2" y2="596.64"/><line x1="375" y1="578.53" x2="378.2" y2="578.53"/><line x1="374.2" y1="560.42" x2="378.2" y2="560.42"/><line x1="375" y1="542.31" x2="378.2" y2="542.31"/><line x1="374.2" y1="524.2" x2="378.2" y2="524.2"/><line x1="378.2" y1="705.3" x2="378.2" y2="708.6"/><line x1="416.2" y1="705.3" x2="416.2" y2="708.6"/><line x1="454.2" y1="705.3" x2="454.2" y2="708.6"/><line x1="492.2" y1="705.3" x2="492.2" y2="708.6"/></g>
<line x1="378.8" y1="669.38" x2="511.2" y2="669.38" stroke="#3a3a3a" stroke-width="1.5" stroke-dasharray="3.5 2.6"/>
<g fill="#d6d6d6" stroke="#000" stroke-width="1.1"><circle cx="430.18" cy="677.61" r="2.55"/><circle cx="409.98" cy="659.03" r="2.55"/><circle cx="407.31" cy="655.71" r="2.55"/><circle cx="437.94" cy="680.21" r="2.55"/><circle cx="447.92" cy="677.4" r="2.55"/><circle cx="414.57" cy="667.24" r="2.55"/><circle cx="419.96" cy="663.46" r="2.55"/><circle cx="406.39" cy="678.52" r="2.55"/><circle cx="424.44" cy="680.38" r="2.55"/><circle cx="439.61" cy="682.49" r="2.55"/><circle cx="417.89" cy="655.27" r="2.55"/><circle cx="433.87" cy="665.92" r="2.55"/><circle cx="408" cy="671.86" r="2.55"/><circle cx="406.37" cy="645.62" r="2.55"/><circle cx="442.86" cy="666.96" r="2.55"/><circle cx="430.5" cy="662.36" r="2.55"/><circle cx="425.04" cy="674.35" r="2.55"/><circle cx="444.2" cy="672.85" r="2.55"/><circle cx="430.27" cy="671.8" r="2.55"/><circle cx="407.21" cy="639.64" r="2.55"/><circle cx="415.2" cy="679.11" r="2.55"/><circle cx="415.41" cy="661.36" r="2.55"/><circle cx="413.67" cy="641.16" r="2.55"/><circle cx="431.72" cy="680.68" r="2.55"/><circle cx="434.92" cy="675.89" r="2.55"/><circle cx="403.34" cy="658.98" r="2.55"/><circle cx="415.29" cy="672.37" r="2.55"/><circle cx="427.54" cy="673.2" r="2.55"/><circle cx="428.15" cy="663.63" r="2.55"/><circle cx="436.16" cy="662.91" r="2.55"/><circle cx="413.49" cy="652.29" r="2.55"/><circle cx="439.74" cy="670.75" r="2.55"/><circle cx="429.97" cy="667.79" r="2.55"/><circle cx="421.38" cy="679.97" r="2.55"/><circle cx="421.35" cy="666.6" r="2.55"/><circle cx="415.96" cy="649" r="2.55"/><circle cx="427.06" cy="660.97" r="2.55"/><circle cx="426.84" cy="666.93" r="2.55"/><circle cx="424.23" cy="669.42" r="2.55"/><circle cx="428.21" cy="681.94" r="2.55"/><circle cx="403.78" cy="641.49" r="2.55"/><circle cx="407.31" cy="649.52" r="2.55"/><circle cx="425.54" cy="656.73" r="2.55"/><circle cx="440.35" cy="677.45" r="2.55"/><circle cx="413.3" cy="658.61" r="2.55"/><circle cx="409.3" cy="646.56" r="2.55"/><circle cx="445.52" cy="680.73" r="2.55"/><circle cx="426.91" cy="678.18" r="2.55"/><circle cx="416.97" cy="674.71" r="2.55"/><circle cx="411.86" cy="644.67" r="2.55"/><circle cx="435.5" cy="672.16" r="2.55"/><circle cx="445.11" cy="665.46" r="2.55"/><circle cx="411.98" cy="662.15" r="2.55"/><circle cx="442.54" cy="670.37" r="2.55"/><circle cx="438.95" cy="662.66" r="2.55"/><circle cx="404.01" cy="650.74" r="2.55"/><circle cx="412.84" cy="675.74" r="2.55"/><circle cx="415.07" cy="654.83" r="2.55"/><circle cx="422.88" cy="659.93" r="2.55"/><circle cx="432.97" cy="668.94" r="2.55"/><circle cx="404.76" cy="666.09" r="2.55"/><circle cx="411.83" cy="654.89" r="2.55"/><circle cx="412.19" cy="671.54" r="2.55"/><circle cx="403.31" cy="646.94" r="2.55"/><circle cx="404" cy="654.43" r="2.55"/><circle cx="432.2" cy="658.02" r="2.55"/><circle cx="406.48" cy="652.55" r="2.55"/><circle cx="413.05" cy="647.3" r="2.55"/><circle cx="420.84" cy="673.53" r="2.55"/><circle cx="437.26" cy="666.41" r="2.55"/><circle cx="418.4" cy="678.59" r="2.55"/><circle cx="445.86" cy="674.99" r="2.55"/><circle cx="417.33" cy="666.01" r="2.55"/><circle cx="443.42" cy="683.08" r="2.55"/><circle cx="406.79" cy="668.57" r="2.55"/><circle cx="424.28" cy="663.16" r="2.55"/><circle cx="447.8" cy="671.21" r="2.55"/><circle cx="406.45" cy="642.81" r="2.55"/><circle cx="429.26" cy="659.24" r="2.55"/><circle cx="406.93" cy="662.34" r="2.55"/><circle cx="422.18" cy="671.19" r="2.55"/><circle cx="416.97" cy="645.75" r="2.55"/><circle cx="409.68" cy="666.46" r="2.55"/><circle cx="446.41" cy="668.36" r="2.55"/><circle cx="408.92" cy="677.07" r="2.55"/><circle cx="435.08" cy="680.06" r="2.55"/><circle cx="419.03" cy="671" r="2.55"/><circle cx="427.67" cy="670" r="2.55"/><circle cx="403.92" cy="663.16" r="2.55"/><circle cx="418.81" cy="660.46" r="2.55"/><circle cx="409.44" cy="651.69" r="2.55"/><circle cx="416.77" cy="651.64" r="2.55"/><circle cx="423.16" cy="676.91" r="2.55"/><circle cx="404.67" cy="673.73" r="2.55"/><circle cx="409.99" cy="638.91" r="2.55"/><circle cx="415.59" cy="643.16" r="2.55"/><circle cx="440.19" cy="674.36" r="2.55"/><circle cx="434.66" cy="660.1" r="2.55"/><circle cx="410.45" cy="679.5" r="2.55"/><circle cx="437.24" cy="669.7" r="2.55"/><circle cx="407.31" cy="658.96" r="2.55"/><circle cx="439.82" cy="665.44" r="2.55"/><circle cx="411.66" cy="668.75" r="2.55"/><circle cx="413.57" cy="664.47" r="2.55"/><circle cx="431.47" cy="675.2" r="2.55"/><circle cx="441.62" cy="663.33" r="2.55"/><circle cx="443.99" cy="677.6" r="2.55"/><circle cx="419.61" cy="657.53" r="2.55"/><circle cx="422.87" cy="656.97" r="2.55"/><circle cx="407.6" cy="605.5" r="2.55"/><circle cx="406.4" cy="611.3" r="2.55"/><circle cx="418.1" cy="603.1" r="2.55"/><circle cx="418.1" cy="608.4" r="2.55"/><circle cx="407.8" cy="619.6" r="2.55"/><circle cx="407.4" cy="624.2" r="2.55"/><circle cx="413.3" cy="623.2" r="2.55"/><circle cx="406.4" cy="629.9" r="2.55"/><circle cx="411.7" cy="632.1" r="2.55"/><circle cx="415.8" cy="633.9" r="2.55"/><circle cx="417.9" cy="636" r="2.55"/><circle cx="429.6" cy="631.2" r="2.55"/><circle cx="426.2" cy="633.9" r="2.55"/><circle cx="429.4" cy="639.6" r="2.55"/><circle cx="429.1" cy="643.1" r="2.55"/><circle cx="427" cy="646.7" r="2.55"/><circle cx="429.6" cy="651.3" r="2.55"/><circle cx="425.8" cy="654.9" r="2.55"/><circle cx="445.4" cy="658" r="2.55"/><circle cx="434.7" cy="686.6" r="2.55"/><circle cx="442.4" cy="683.2" r="2.55"/><circle cx="452.8" cy="635.5" r="2.55"/><circle cx="454.8" cy="649.8" r="2.55"/><circle cx="466.8" cy="655.3" r="2.55"/><circle cx="445.6" cy="657.3" r="2.55"/><circle cx="449" cy="659.3" r="2.55"/><circle cx="457.9" cy="658.8" r="2.55"/><circle cx="463" cy="658.6" r="2.55"/><circle cx="471.2" cy="659.6" r="2.55"/><circle cx="457.9" cy="662.9" r="2.55"/><circle cx="462" cy="663.9" r="2.55"/><circle cx="455.8" cy="667" r="2.55"/><circle cx="453.3" cy="665.5" r="2.55"/><circle cx="463.5" cy="667.2" r="2.55"/><circle cx="472.2" cy="665" r="2.55"/><circle cx="476.3" cy="666.5" r="2.55"/><circle cx="479.3" cy="667.5" r="2.55"/><circle cx="482.4" cy="668.5" r="2.55"/><circle cx="499.8" cy="669" r="2.55"/><circle cx="469.6" cy="674.7" r="2.55"/><circle cx="475.8" cy="673.3" r="2.55"/><circle cx="480.9" cy="679.1" r="2.55"/><circle cx="455.8" cy="676.7" r="2.55"/><circle cx="455.8" cy="673.6" r="2.55"/><circle cx="453.8" cy="670.1" r="2.55"/><circle cx="448" cy="678.8" r="2.55"/><circle cx="442.6" cy="683.4" r="2.55"/><circle cx="442" cy="677.2" r="2.55"/><circle cx="444.1" cy="665" r="2.55"/><circle cx="447.7" cy="665" r="2.55"/></g>
<rect x="378.2" y="524.2" width="133" height="181.1" fill="none" stroke="#2b2b2b" stroke-width="1.15"/>
<g fill="#111" color="#111"><text x="351.84" y="708.98" font-size="12.3" textLength="15.84" lengthAdjust="spacingAndGlyphs">0.0</text><text x="351.84" y="672.76" font-size="12.3" textLength="15.84" lengthAdjust="spacingAndGlyphs">1.0</text><text x="351.84" y="636.54" font-size="12.3" textLength="15.84" lengthAdjust="spacingAndGlyphs">2.0</text><text x="351.84" y="600.32" font-size="12.3" textLength="15.84" lengthAdjust="spacingAndGlyphs">3.0</text><text x="351.84" y="564.1" font-size="12.3" textLength="15.84" lengthAdjust="spacingAndGlyphs">4.0</text><text x="351.84" y="527.88" font-size="12.3" textLength="15.84" lengthAdjust="spacingAndGlyphs">5.0</text><text x="374.9" y="723.3" font-size="12.5">1</text><text x="413.03" y="723.3" font-size="12.5">3</text><text x="450.97" y="723.3" font-size="12.5">5</text><text x="488.86" y="723.3" font-size="12.5">7</text></g>
<text x="440.93" y="739.1" font-size="13.5" font-style="italic" textLength="17.89" lengthAdjust="spacingAndGlyphs">a/d</text>
<g stroke="#2b2b2b" stroke-width="1"><line x1="540.5" y1="704.9" x2="544.5" y2="704.9"/><line x1="541.3" y1="686.76" x2="544.5" y2="686.76"/><line x1="540.5" y1="668.62" x2="544.5" y2="668.62"/><line x1="541.3" y1="650.48" x2="544.5" y2="650.48"/><line x1="540.5" y1="632.34" x2="544.5" y2="632.34"/><line x1="541.3" y1="614.2" x2="544.5" y2="614.2"/><line x1="540.5" y1="596.06" x2="544.5" y2="596.06"/><line x1="541.3" y1="577.92" x2="544.5" y2="577.92"/><line x1="540.5" y1="559.78" x2="544.5" y2="559.78"/><line x1="541.3" y1="541.64" x2="544.5" y2="541.64"/><line x1="540.5" y1="523.5" x2="544.5" y2="523.5"/><line x1="544.5" y1="704.9" x2="544.5" y2="708.2"/><line x1="571.12" y1="704.9" x2="571.12" y2="708.2"/><line x1="597.74" y1="704.9" x2="597.74" y2="708.2"/><line x1="624.36" y1="704.9" x2="624.36" y2="708.2"/><line x1="650.98" y1="704.9" x2="650.98" y2="708.2"/><line x1="677.6" y1="704.9" x2="677.6" y2="708.2"/></g>
<line x1="545.1" y1="668.92" x2="677.6" y2="668.92" stroke="#3a3a3a" stroke-width="1.5" stroke-dasharray="3.5 2.6"/>
<g fill="#d6d6d6" stroke="#000" stroke-width="1.1"><circle cx="567.39" cy="677.5" r="2.55"/><circle cx="558.62" cy="652.06" r="2.55"/><circle cx="546.93" cy="669.15" r="2.55"/><circle cx="558.85" cy="669.45" r="2.55"/><circle cx="554.54" cy="659.3" r="2.55"/><circle cx="553.08" cy="676.38" r="2.55"/><circle cx="560.28" cy="664.33" r="2.55"/><circle cx="559.37" cy="657.44" r="2.55"/><circle cx="561.92" cy="654.38" r="2.55"/><circle cx="553.07" cy="666.64" r="2.55"/><circle cx="571.77" cy="662.98" r="2.55"/><circle cx="567.9" cy="668.54" r="2.55"/><circle cx="564.17" cy="668.99" r="2.55"/><circle cx="550.08" cy="664.3" r="2.55"/><circle cx="570.08" cy="672.43" r="2.55"/><circle cx="571.39" cy="677.65" r="2.55"/><circle cx="555.26" cy="651.25" r="2.55"/><circle cx="564.58" cy="674.83" r="2.55"/><circle cx="555.96" cy="668.42" r="2.55"/><circle cx="546.8" cy="664.68" r="2.55"/><circle cx="548.54" cy="659.9" r="2.55"/><circle cx="561.48" cy="661" r="2.55"/><circle cx="554.38" cy="670.74" r="2.55"/><circle cx="560.81" cy="677.26" r="2.55"/><circle cx="571.54" cy="668.04" r="2.55"/><circle cx="566.63" cy="672.43" r="2.55"/><circle cx="551.3" cy="672.55" r="2.55"/><circle cx="566.17" cy="659.11" r="2.55"/><circle cx="557.49" cy="678.01" r="2.55"/><circle cx="554.15" cy="680.13" r="2.55"/><circle cx="551.74" cy="661.47" r="2.55"/><circle cx="558.2" cy="681.08" r="2.55"/><circle cx="552.47" cy="655.28" r="2.55"/><circle cx="550.12" cy="677.37" r="2.55"/><circle cx="559.18" cy="675.15" r="2.55"/><circle cx="565.94" cy="663.83" r="2.55"/><circle cx="557.44" cy="663.03" r="2.55"/><circle cx="563.66" cy="680.9" r="2.55"/><circle cx="572.12" cy="674.38" r="2.55"/><circle cx="547.36" cy="674.48" r="2.55"/><circle cx="556.35" cy="656.8" r="2.55"/><circle cx="569.77" cy="665.38" r="2.55"/><circle cx="563.52" cy="665.45" r="2.55"/><circle cx="563.65" cy="657.93" r="2.55"/><circle cx="557.69" cy="672.63" r="2.55"/><circle cx="556.43" cy="665.51" r="2.55"/><circle cx="568.87" cy="660.85" r="2.55"/><circle cx="554.64" cy="673.88" r="2.55"/><circle cx="561.22" cy="667.29" r="2.55"/><circle cx="550.17" cy="667.58" r="2.55"/><circle cx="565.49" cy="655.77" r="2.55"/><circle cx="561.46" cy="671.4" r="2.55"/><circle cx="551.78" cy="658.15" r="2.55"/><circle cx="554.53" cy="663.59" r="2.55"/><circle cx="564.77" cy="678.19" r="2.55"/><circle cx="557.59" cy="659.81" r="2.55"/><circle cx="568.29" cy="674.55" r="2.55"/><circle cx="573.07" cy="670.78" r="2.55"/><circle cx="551.36" cy="679.97" r="2.55"/><circle cx="556.35" cy="653.8" r="2.55"/><circle cx="568.32" cy="657.53" r="2.55"/><circle cx="547.54" cy="671.8" r="2.55"/><circle cx="551.72" cy="669.8" r="2.55"/><circle cx="561.02" cy="680.09" r="2.55"/><circle cx="564.14" cy="661.85" r="2.55"/><circle cx="561.81" cy="674.18" r="2.55"/><circle cx="569.36" cy="679.54" r="2.55"/><circle cx="573.01" cy="665.45" r="2.55"/><circle cx="566.66" cy="680.15" r="2.55"/><circle cx="559.07" cy="654.71" r="2.55"/><circle cx="579.2" cy="602.8" r="2.55"/><circle cx="579.2" cy="607.9" r="2.55"/><circle cx="605.1" cy="605.1" r="2.55"/><circle cx="599.2" cy="610.4" r="2.55"/><circle cx="605.1" cy="619.1" r="2.55"/><circle cx="598.6" cy="622.9" r="2.55"/><circle cx="604.1" cy="623.9" r="2.55"/><circle cx="598.6" cy="630.9" r="2.55"/><circle cx="599.2" cy="635" r="2.55"/><circle cx="604.3" cy="635.8" r="2.55"/><circle cx="599" cy="638.5" r="2.55"/><circle cx="595.6" cy="638" r="2.55"/><circle cx="595.6" cy="642.6" r="2.55"/><circle cx="599" cy="646" r="2.55"/><circle cx="604.1" cy="646.4" r="2.55"/><circle cx="599.2" cy="650.8" r="2.55"/><circle cx="595.6" cy="653.9" r="2.55"/><circle cx="595.6" cy="656.2" r="2.55"/><circle cx="599" cy="663.8" r="2.55"/><circle cx="599" cy="667.2" r="2.55"/><circle cx="583.8" cy="631.9" r="2.55"/><circle cx="586.7" cy="642.6" r="2.55"/><circle cx="567.7" cy="629.3" r="2.55"/><circle cx="563.4" cy="633.7" r="2.55"/><circle cx="563.4" cy="635" r="2.55"/><circle cx="557.5" cy="644.2" r="2.55"/><circle cx="563.9" cy="646.7" r="2.55"/><circle cx="570.9" cy="647" r="2.55"/><circle cx="582.3" cy="654.9" r="2.55"/><circle cx="585.4" cy="654.9" r="2.55"/><circle cx="576.9" cy="659.5" r="2.55"/><circle cx="579.2" cy="663.6" r="2.55"/><circle cx="586.9" cy="661.3" r="2.55"/><circle cx="586.9" cy="665.6" r="2.55"/><circle cx="586.9" cy="668.5" r="2.55"/><circle cx="586.9" cy="674.6" r="2.55"/><circle cx="574.6" cy="675.8" r="2.55"/><circle cx="554" cy="683" r="2.55"/><circle cx="553.2" cy="686.9" r="2.55"/><circle cx="557.5" cy="647.5" r="2.55"/><circle cx="660.4" cy="633.5" r="2.55"/><circle cx="655.4" cy="649.9" r="2.55"/><circle cx="643" cy="658.2" r="2.55"/></g>
<rect x="544.5" y="523.5" width="133.1" height="181.4" fill="none" stroke="#2b2b2b" stroke-width="1.15"/>
<g fill="#111" color="#111"><text x="518.14" y="708.58" font-size="12.3" textLength="15.84" lengthAdjust="spacingAndGlyphs">0.0</text><text x="518.14" y="672.3" font-size="12.3" textLength="15.84" lengthAdjust="spacingAndGlyphs">1.0</text><text x="518.14" y="636.02" font-size="12.3" textLength="15.84" lengthAdjust="spacingAndGlyphs">2.0</text><text x="518.14" y="599.74" font-size="12.3" textLength="15.84" lengthAdjust="spacingAndGlyphs">3.0</text><text x="518.14" y="563.46" font-size="12.3" textLength="15.84" lengthAdjust="spacingAndGlyphs">4.0</text><text x="518.14" y="527.18" font-size="12.3" textLength="15.84" lengthAdjust="spacingAndGlyphs">5.0</text><text x="541.35" y="723.9" font-size="12" textLength="6.3" lengthAdjust="spacingAndGlyphs">0</text><text x="560.21" y="723.9" font-size="12" textLength="22.05" lengthAdjust="spacingAndGlyphs">0.02</text><text x="586.57" y="723.9" font-size="12" textLength="22.05" lengthAdjust="spacingAndGlyphs">0.04</text><text x="613.29" y="723.9" font-size="12" textLength="22.05" lengthAdjust="spacingAndGlyphs">0.06</text><text x="639.96" y="723.9" font-size="12" textLength="22.05" lengthAdjust="spacingAndGlyphs">0.08</text><text x="669.87" y="723.9" font-size="12" textLength="15.75" lengthAdjust="spacingAndGlyphs">0.1</text></g>
<text x="611.4" y="739.3" font-size="14" font-style="italic">ρ</text><text x="618.54" y="742.8" font-size="9.8" font-style="italic">l</text>
<g transform="translate(9.6,647.7) rotate(-90)"><text x="-3.96" y="0" font-size="14.5" font-style="italic" transform="skewX(-14)">V</text><text x="6.18" y="3.5" font-size="9.3" font-style="italic">test</text><text x="18.83" y="0" font-size="14" font-style="italic">/</text><text x="21.44" y="0" font-size="14.5" font-style="italic" transform="skewX(-14)">V</text><text x="32.53" y="3.5" font-size="9.3" font-style="italic">predict</text></g>
<g fill="#0000ff" color="#0000ff"><text x="51.04" y="538.2" font-size="11.5" textLength="66.42" lengthAdjust="spacingAndGlyphs">Mean = 1.164</text><text x="50.92" y="552.3" font-size="11.5" textLength="58.3" lengthAdjust="spacingAndGlyphs">COV = 0.34</text><text x="51.04" y="566.4" font-size="11.5" textLength="55.2" lengthAdjust="spacingAndGlyphs">Max = 2.81</text><text x="51.04" y="580.5" font-size="11.5" textLength="56.2" lengthAdjust="spacingAndGlyphs">Min =  0.50</text><text x="602.74" y="538.5" font-size="11.5" textLength="6.61" lengthAdjust="spacingAndGlyphs">P</text><text x="610.19" y="541.6" font-size="7.9" textLength="14.28" lengthAdjust="spacingAndGlyphs">0.05</text><text x="625.51" y="538.5" font-size="11.5" textLength="30.46" lengthAdjust="spacingAndGlyphs">= 0.68</text><text x="602.98" y="552.6" font-size="11.5" textLength="57.84" lengthAdjust="spacingAndGlyphs">AAE = 0.21</text><text x="602.51" y="566.7" font-size="11.5" textLength="67.84" lengthAdjust="spacingAndGlyphs">&lt; 0.75 = 6.5%</text></g>
<text x="277.38" y="761.6" font-size="15.2" textLength="161.72" lengthAdjust="spacingAndGlyphs">(c) CSA A23.3:24 (2024)</text>
<g stroke="#2b2b2b" stroke-width="1"><line x1="40.7" y1="966.8" x2="44.7" y2="966.8"/><line x1="41.5" y1="948.76" x2="44.7" y2="948.76"/><line x1="40.7" y1="930.72" x2="44.7" y2="930.72"/><line x1="41.5" y1="912.68" x2="44.7" y2="912.68"/><line x1="40.7" y1="894.64" x2="44.7" y2="894.64"/><line x1="41.5" y1="876.6" x2="44.7" y2="876.6"/><line x1="40.7" y1="858.56" x2="44.7" y2="858.56"/><line x1="41.5" y1="840.52" x2="44.7" y2="840.52"/><line x1="40.7" y1="822.48" x2="44.7" y2="822.48"/><line x1="41.5" y1="804.44" x2="44.7" y2="804.44"/><line x1="40.7" y1="786.4" x2="44.7" y2="786.4"/><line x1="44.7" y1="966.8" x2="44.7" y2="970.1"/><line x1="78.12" y1="966.8" x2="78.12" y2="970.1"/><line x1="111.55" y1="966.8" x2="111.55" y2="970.1"/><line x1="144.97" y1="966.8" x2="144.97" y2="970.1"/><line x1="178.4" y1="966.8" x2="178.4" y2="970.1"/></g>
<line x1="45.3" y1="931.02" x2="178.4" y2="931.02" stroke="#3a3a3a" stroke-width="1.5" stroke-dasharray="3.5 2.6"/>
<g fill="#d6d6d6" stroke="#000" stroke-width="1.1"><circle cx="83.45" cy="930.01" r="2.55"/><circle cx="86.73" cy="927.62" r="2.55"/><circle cx="83.34" cy="924.85" r="2.55"/><circle cx="65.85" cy="924.24" r="2.55"/><circle cx="90.03" cy="931.44" r="2.55"/><circle cx="62.47" cy="927.04" r="2.55"/><circle cx="75.94" cy="904.27" r="2.55"/><circle cx="95.31" cy="931.11" r="2.55"/><circle cx="62.38" cy="941.64" r="2.55"/><circle cx="84.54" cy="941.22" r="2.55"/><circle cx="97.31" cy="936.95" r="2.55"/><circle cx="76.28" cy="908.48" r="2.55"/><circle cx="79.15" cy="943.31" r="2.55"/><circle cx="93.42" cy="944.71" r="2.55"/><circle cx="60.31" cy="937.85" r="2.55"/><circle cx="68.41" cy="936.61" r="2.55"/><circle cx="82.36" cy="920.17" r="2.55"/><circle cx="78.93" cy="929.06" r="2.55"/><circle cx="84.87" cy="915.15" r="2.55"/><circle cx="73.1" cy="910.81" r="2.55"/><circle cx="72.49" cy="942.51" r="2.55"/><circle cx="82.25" cy="911.99" r="2.55"/><circle cx="68.25" cy="932.62" r="2.55"/><circle cx="88.07" cy="918.47" r="2.55"/><circle cx="91.73" cy="939.1" r="2.55"/><circle cx="67.9" cy="916.75" r="2.55"/><circle cx="68.94" cy="939.76" r="2.55"/><circle cx="86.72" cy="924.86" r="2.55"/><circle cx="72.84" cy="927.54" r="2.55"/><circle cx="94.6" cy="925.07" r="2.55"/><circle cx="74.17" cy="923.27" r="2.55"/><circle cx="88.93" cy="945.8" r="2.55"/><circle cx="71.58" cy="908.32" r="2.55"/><circle cx="79.02" cy="917.55" r="2.55"/><circle cx="62.47" cy="930.28" r="2.55"/><circle cx="75.38" cy="938.56" r="2.55"/><circle cx="79.11" cy="907.77" r="2.55"/><circle cx="91.45" cy="921.8" r="2.55"/><circle cx="61.57" cy="921.28" r="2.55"/><circle cx="89.45" cy="941.34" r="2.55"/><circle cx="98.42" cy="925.21" r="2.55"/><circle cx="96.04" cy="939.42" r="2.55"/><circle cx="80.2" cy="904.55" r="2.55"/><circle cx="76.23" cy="927.95" r="2.55"/><circle cx="91.29" cy="934.67" r="2.55"/><circle cx="70.37" cy="924.62" r="2.55"/><circle cx="77.08" cy="933.33" r="2.55"/><circle cx="100.82" cy="931.98" r="2.55"/><circle cx="72.17" cy="932.29" r="2.55"/><circle cx="77.45" cy="922.14" r="2.55"/><circle cx="82.89" cy="907.79" r="2.55"/><circle cx="86.03" cy="934.15" r="2.55"/><circle cx="80.05" cy="913.69" r="2.55"/><circle cx="87.26" cy="931.11" r="2.55"/><circle cx="68.64" cy="920.39" r="2.55"/><circle cx="77.37" cy="914.91" r="2.55"/><circle cx="70.73" cy="913.81" r="2.55"/><circle cx="65.1" cy="943.51" r="2.55"/><circle cx="75.92" cy="918.2" r="2.55"/><circle cx="77.19" cy="912.05" r="2.55"/><circle cx="98.19" cy="934.18" r="2.55"/><circle cx="65.82" cy="937.27" r="2.55"/><circle cx="64.45" cy="916.51" r="2.55"/><circle cx="103.65" cy="930.91" r="2.55"/><circle cx="79.85" cy="939.96" r="2.55"/><circle cx="82.57" cy="934.6" r="2.55"/><circle cx="68.49" cy="910.22" r="2.55"/><circle cx="92.42" cy="926.84" r="2.55"/><circle cx="72.84" cy="937.49" r="2.55"/><circle cx="97.15" cy="942.11" r="2.55"/><circle cx="81.13" cy="932.29" r="2.55"/><circle cx="64.62" cy="919.57" r="2.55"/><circle cx="62.73" cy="936.16" r="2.55"/><circle cx="69.45" cy="928.44" r="2.55"/><circle cx="64.36" cy="939.59" r="2.55"/><circle cx="79.14" cy="925.35" r="2.55"/><circle cx="74.73" cy="944.86" r="2.55"/><circle cx="99.24" cy="929.55" r="2.55"/><circle cx="60.17" cy="934.72" r="2.55"/><circle cx="73.14" cy="919.27" r="2.55"/><circle cx="87.55" cy="938.57" r="2.55"/><circle cx="66.06" cy="913.52" r="2.55"/><circle cx="85.44" cy="920.05" r="2.55"/><circle cx="66.54" cy="927.31" r="2.55"/><circle cx="88.58" cy="921.71" r="2.55"/><circle cx="68.71" cy="942.78" r="2.55"/><circle cx="72.82" cy="915.54" r="2.55"/><circle cx="83.33" cy="938.42" r="2.55"/><circle cx="101.38" cy="938.14" r="2.55"/><circle cx="65.02" cy="933.01" r="2.55"/><circle cx="83.7" cy="945.6" r="2.55"/><circle cx="89.21" cy="926.18" r="2.55"/><circle cx="86.53" cy="943.27" r="2.55"/><circle cx="71.87" cy="921.74" r="2.55"/><circle cx="103.18" cy="933.7" r="2.55"/><circle cx="82.75" cy="917.44" r="2.55"/><circle cx="94.78" cy="928.23" r="2.55"/><circle cx="78.78" cy="936.37" r="2.55"/><circle cx="75.73" cy="942.24" r="2.55"/><circle cx="100.9" cy="935.2" r="2.55"/><circle cx="61.49" cy="924.24" r="2.55"/><circle cx="104.8" cy="880.9" r="2.55"/><circle cx="104.1" cy="887.6" r="2.55"/><circle cx="87.9" cy="885.5" r="2.55"/><circle cx="86.7" cy="888.6" r="2.55"/><circle cx="86.7" cy="892.9" r="2.55"/><circle cx="75.9" cy="891.9" r="2.55"/><circle cx="111.2" cy="898" r="2.55"/><circle cx="109.9" cy="905.8" r="2.55"/><circle cx="109.9" cy="913.1" r="2.55"/><circle cx="91.5" cy="902.4" r="2.55"/><circle cx="86.7" cy="908" r="2.55"/><circle cx="95.6" cy="913.6" r="2.55"/><circle cx="96.4" cy="949.1" r="2.55"/><circle cx="58.3" cy="937.9" r="2.55"/><circle cx="62.2" cy="943" r="2.55"/><circle cx="134.6" cy="880.6" r="2.55"/><circle cx="151.3" cy="884.3" r="2.55"/><circle cx="129.3" cy="896.3" r="2.55"/><circle cx="126.7" cy="898.8" r="2.55"/><circle cx="128.7" cy="902.9" r="2.55"/><circle cx="127" cy="907.2" r="2.55"/><circle cx="128.7" cy="912.1" r="2.55"/><circle cx="126.5" cy="912.1" r="2.55"/><circle cx="128" cy="916.7" r="2.55"/><circle cx="127.7" cy="920.5" r="2.55"/><circle cx="127.7" cy="923.9" r="2.55"/><circle cx="131.4" cy="924.6" r="2.55"/><circle cx="152.2" cy="913.3" r="2.55"/><circle cx="152.2" cy="916" r="2.55"/><circle cx="139.5" cy="923.2" r="2.55"/><circle cx="139.5" cy="926.9" r="2.55"/><circle cx="146.2" cy="928.3" r="2.55"/><circle cx="149.5" cy="931.5" r="2.55"/><circle cx="141.6" cy="931.7" r="2.55"/><circle cx="135.9" cy="932.3" r="2.55"/><circle cx="134.6" cy="936.1" r="2.55"/><circle cx="137.2" cy="939.2" r="2.55"/><circle cx="141.3" cy="941.2" r="2.55"/><circle cx="159.2" cy="938.2" r="2.55"/><circle cx="126.3" cy="937.2" r="2.55"/><circle cx="117.5" cy="932" r="2.55"/><circle cx="118.8" cy="944.3" r="2.55"/><circle cx="132.4" cy="947.9" r="2.55"/></g>
<rect x="44.7" y="786.4" width="133.7" height="180.4" fill="none" stroke="#2b2b2b" stroke-width="1.15"/>
<g fill="#111" color="#111"><text x="18.09" y="970.55" font-size="12.5" textLength="16.09" lengthAdjust="spacingAndGlyphs">0.0</text><text x="18.09" y="934.47" font-size="12.5" textLength="16.09" lengthAdjust="spacingAndGlyphs">1.0</text><text x="18.09" y="898.39" font-size="12.5" textLength="16.09" lengthAdjust="spacingAndGlyphs">2.0</text><text x="18.09" y="862.31" font-size="12.5" textLength="16.09" lengthAdjust="spacingAndGlyphs">3.0</text><text x="18.09" y="826.23" font-size="12.5" textLength="16.09" lengthAdjust="spacingAndGlyphs">4.0</text><text x="18.09" y="790.15" font-size="12.5" textLength="16.09" lengthAdjust="spacingAndGlyphs">5.0</text><text x="41.62" y="985.9" font-size="12.3">0</text><text x="71.91" y="985.9" font-size="12.3">30</text><text x="105.37" y="985.9" font-size="12.3">60</text><text x="138.86" y="985.9" font-size="12.3">90</text><text x="168.87" y="985.9" font-size="12.3">120</text></g>
<text x="81.94" y="1001.1" font-size="13.8" font-style="italic" textLength="4.68" lengthAdjust="spacingAndGlyphs">f</text><text x="90.07" y="1001.1" font-size="13.5">’</text><text x="93.97" y="1004.5" font-size="9.5" font-style="italic">c</text><text x="101.51" y="1001.1" font-size="13.5" textLength="36.35" lengthAdjust="spacingAndGlyphs">(MPa)</text>
<g stroke="#2b2b2b" stroke-width="1"><line x1="208.6" y1="966.6" x2="212.6" y2="966.6"/><line x1="209.4" y1="948.58" x2="212.6" y2="948.58"/><line x1="208.6" y1="930.56" x2="212.6" y2="930.56"/><line x1="209.4" y1="912.54" x2="212.6" y2="912.54"/><line x1="208.6" y1="894.52" x2="212.6" y2="894.52"/><line x1="209.4" y1="876.5" x2="212.6" y2="876.5"/><line x1="208.6" y1="858.48" x2="212.6" y2="858.48"/><line x1="209.4" y1="840.46" x2="212.6" y2="840.46"/><line x1="208.6" y1="822.44" x2="212.6" y2="822.44"/><line x1="209.4" y1="804.42" x2="212.6" y2="804.42"/><line x1="208.6" y1="786.4" x2="212.6" y2="786.4"/><line x1="212.6" y1="966.6" x2="212.6" y2="969.9"/><line x1="245.57" y1="966.6" x2="245.57" y2="969.9"/><line x1="278.55" y1="966.6" x2="278.55" y2="969.9"/><line x1="311.52" y1="966.6" x2="311.52" y2="969.9"/><line x1="344.5" y1="966.6" x2="344.5" y2="969.9"/></g>
<line x1="213.2" y1="930.86" x2="344.5" y2="930.86" stroke="#3a3a3a" stroke-width="1.5" stroke-dasharray="3.5 2.6"/>
<g fill="#d6d6d6" stroke="#000" stroke-width="1.1"><circle cx="242.61" cy="914.95" r="2.55"/><circle cx="227.03" cy="939.64" r="2.55"/><circle cx="234.32" cy="915.1" r="2.55"/><circle cx="237.61" cy="908.46" r="2.55"/><circle cx="232.65" cy="921.16" r="2.55"/><circle cx="233.63" cy="924.57" r="2.55"/><circle cx="227.84" cy="933.06" r="2.55"/><circle cx="244.33" cy="935.98" r="2.55"/><circle cx="240.73" cy="928.26" r="2.55"/><circle cx="243.22" cy="929.39" r="2.55"/><circle cx="244.55" cy="926.23" r="2.55"/><circle cx="237.51" cy="920.86" r="2.55"/><circle cx="240.45" cy="919.75" r="2.55"/><circle cx="235.3" cy="918.47" r="2.55"/><circle cx="239.98" cy="941.67" r="2.55"/><circle cx="242.78" cy="921.42" r="2.55"/><circle cx="235.51" cy="927.03" r="2.55"/><circle cx="228.41" cy="926.49" r="2.55"/><circle cx="240.29" cy="937.32" r="2.55"/><circle cx="240.34" cy="923.47" r="2.55"/><circle cx="234.71" cy="903.89" r="2.55"/><circle cx="227.14" cy="921.1" r="2.55"/><circle cx="241.3" cy="931.57" r="2.55"/><circle cx="246.18" cy="930.06" r="2.55"/><circle cx="236.42" cy="933.2" r="2.55"/><circle cx="244.37" cy="907.06" r="2.55"/><circle cx="230.06" cy="934.55" r="2.55"/><circle cx="234.91" cy="935.48" r="2.55"/><circle cx="236.66" cy="942.34" r="2.55"/><circle cx="238.17" cy="914.37" r="2.55"/><circle cx="239.23" cy="903.46" r="2.55"/><circle cx="229.8" cy="921.57" r="2.55"/><circle cx="243.28" cy="933.51" r="2.55"/><circle cx="236.6" cy="911.71" r="2.55"/><circle cx="231.82" cy="937.65" r="2.55"/><circle cx="232.98" cy="933.5" r="2.55"/><circle cx="225.86" cy="928.18" r="2.55"/><circle cx="237.91" cy="917.9" r="2.55"/><circle cx="232.55" cy="940.26" r="2.55"/><circle cx="241.8" cy="905.12" r="2.55"/><circle cx="232.3" cy="929.64" r="2.55"/><circle cx="241.94" cy="910.42" r="2.55"/><circle cx="234.24" cy="944.01" r="2.55"/><circle cx="235.45" cy="930.11" r="2.55"/><circle cx="227.41" cy="936.41" r="2.55"/><circle cx="229.77" cy="930.89" r="2.55"/><circle cx="237.48" cy="937.37" r="2.55"/><circle cx="232.46" cy="917.35" r="2.55"/><circle cx="235.96" cy="939.63" r="2.55"/><circle cx="229.71" cy="939.5" r="2.55"/><circle cx="239.24" cy="906.29" r="2.55"/><circle cx="230.82" cy="942.34" r="2.55"/><circle cx="238.95" cy="926.01" r="2.55"/><circle cx="230.71" cy="924.66" r="2.55"/><circle cx="239.6" cy="911.74" r="2.55"/><circle cx="244.38" cy="911.8" r="2.55"/><circle cx="239.03" cy="934.26" r="2.55"/><circle cx="242.92" cy="939.6" r="2.55"/><circle cx="242.48" cy="917.77" r="2.55"/><circle cx="238.24" cy="930.93" r="2.55"/><circle cx="225.82" cy="924.43" r="2.55"/><circle cx="234.97" cy="907.08" r="2.55"/><circle cx="230.2" cy="918.88" r="2.55"/><circle cx="236.63" cy="923.72" r="2.55"/><circle cx="246.05" cy="932.85" r="2.55"/><circle cx="225.84" cy="931.29" r="2.55"/><circle cx="241.84" cy="925.71" r="2.55"/><circle cx="234.53" cy="909.73" r="2.55"/><circle cx="230.2" cy="880.4" r="2.55"/><circle cx="230.2" cy="884.5" r="2.55"/><circle cx="230.2" cy="888.1" r="2.55"/><circle cx="230.2" cy="892.7" r="2.55"/><circle cx="230.2" cy="898.3" r="2.55"/><circle cx="236.3" cy="891.9" r="2.55"/><circle cx="238.8" cy="896.6" r="2.55"/><circle cx="247.3" cy="902.7" r="2.55"/><circle cx="242.7" cy="901.9" r="2.55"/><circle cx="253.4" cy="899.1" r="2.55"/><circle cx="253.4" cy="908" r="2.55"/><circle cx="253.4" cy="913.3" r="2.55"/><circle cx="255.9" cy="912.6" r="2.55"/><circle cx="253.4" cy="918.2" r="2.55"/><circle cx="225.8" cy="914" r="2.55"/><circle cx="223.4" cy="927.4" r="2.55"/><circle cx="250.8" cy="929.5" r="2.55"/><circle cx="250.3" cy="933.6" r="2.55"/><circle cx="250.8" cy="938.2" r="2.55"/><circle cx="250.8" cy="941.7" r="2.55"/><circle cx="249.8" cy="945" r="2.55"/><circle cx="235" cy="945.3" r="2.55"/><circle cx="272.8" cy="937.5" r="2.55"/><circle cx="272.8" cy="948.4" r="2.55"/><circle cx="280.5" cy="929.5" r="2.55"/><circle cx="279.4" cy="934.6" r="2.55"/><circle cx="280.5" cy="938.7" r="2.55"/><circle cx="280.5" cy="941.7" r="2.55"/><circle cx="286.4" cy="914" r="2.55"/><circle cx="286.4" cy="915.7" r="2.55"/><circle cx="281.1" cy="929.5" r="2.55"/><circle cx="282.7" cy="932" r="2.55"/><circle cx="279.6" cy="934.6" r="2.55"/><circle cx="280.9" cy="938.2" r="2.55"/><circle cx="280.9" cy="941.2" r="2.55"/><circle cx="289.3" cy="932" r="2.55"/><circle cx="293.4" cy="931.7" r="2.55"/><circle cx="295.4" cy="933.1" r="2.55"/><circle cx="301.1" cy="928.8" r="2.55"/><circle cx="294.9" cy="939.7" r="2.55"/><circle cx="301.1" cy="949.2" r="2.55"/><circle cx="325.4" cy="944.3" r="2.55"/></g>
<rect x="212.6" y="786.4" width="131.9" height="180.2" fill="none" stroke="#2b2b2b" stroke-width="1.15"/>
<g fill="#111" color="#111"><text x="185.99" y="970.35" font-size="12.5" textLength="16.09" lengthAdjust="spacingAndGlyphs">0.0</text><text x="185.99" y="934.31" font-size="12.5" textLength="16.09" lengthAdjust="spacingAndGlyphs">1.0</text><text x="185.99" y="898.27" font-size="12.5" textLength="16.09" lengthAdjust="spacingAndGlyphs">2.0</text><text x="185.99" y="862.23" font-size="12.5" textLength="16.09" lengthAdjust="spacingAndGlyphs">3.0</text><text x="185.99" y="826.19" font-size="12.5" textLength="16.09" lengthAdjust="spacingAndGlyphs">4.0</text><text x="185.99" y="790.15" font-size="12.5" textLength="16.09" lengthAdjust="spacingAndGlyphs">5.0</text><text x="209.53" y="984.8" font-size="12.3">0</text><text x="236.29" y="984.8" font-size="12.3">300</text><text x="269.29" y="984.8" font-size="12.3">600</text><text x="302.33" y="984.8" font-size="12.3">900</text><text x="331.89" y="984.8" font-size="12.3">1200</text></g>
<text x="259.45" y="1000.7" font-size="13.5" font-style="italic">d</text><text x="270.02" y="1000.7" font-size="13.5" textLength="31.26" lengthAdjust="spacingAndGlyphs">(mm)</text>
<g stroke="#2b2b2b" stroke-width="1"><line x1="374.2" y1="965.5" x2="377.6" y2="965.5"/><line x1="375" y1="947.5" x2="377.6" y2="947.5"/><line x1="374.2" y1="929.5" x2="377.6" y2="929.5"/><line x1="375" y1="911.5" x2="377.6" y2="911.5"/><line x1="374.2" y1="893.5" x2="377.6" y2="893.5"/><line x1="375" y1="875.5" x2="377.6" y2="875.5"/><line x1="374.2" y1="857.5" x2="377.6" y2="857.5"/><line x1="375" y1="839.5" x2="377.6" y2="839.5"/><line x1="374.2" y1="821.5" x2="377.6" y2="821.5"/><line x1="375" y1="803.5" x2="377.6" y2="803.5"/><line x1="374.2" y1="785.5" x2="377.6" y2="785.5"/><line x1="377.6" y1="965.5" x2="377.6" y2="968.4"/><line x1="415.77" y1="965.5" x2="415.77" y2="968.4"/><line x1="453.94" y1="965.5" x2="453.94" y2="968.4"/><line x1="492.11" y1="965.5" x2="492.11" y2="968.4"/></g>
<line x1="378.2" y1="929.8" x2="511.2" y2="929.8" stroke="#3a3a3a" stroke-width="1.5" stroke-dasharray="3.5 2.6"/>
<g fill="#d6d6d6" stroke="#000" stroke-width="1.1"><circle cx="442.33" cy="928.72" r="2.4"/><circle cx="425.33" cy="908.84" r="2.4"/><circle cx="439.04" cy="917.22" r="2.4"/><circle cx="438.86" cy="940.93" r="2.4"/><circle cx="411.87" cy="914.81" r="2.4"/><circle cx="428.91" cy="934.49" r="2.4"/><circle cx="414.79" cy="942.52" r="2.4"/><circle cx="431.59" cy="906.27" r="2.4"/><circle cx="446.66" cy="925.41" r="2.4"/><circle cx="411.79" cy="933.28" r="2.4"/><circle cx="410.84" cy="942.73" r="2.4"/><circle cx="424.25" cy="934.23" r="2.4"/><circle cx="436.63" cy="908.74" r="2.4"/><circle cx="432.58" cy="923.82" r="2.4"/><circle cx="436.82" cy="913.83" r="2.4"/><circle cx="408.46" cy="940.82" r="2.4"/><circle cx="413.78" cy="938.68" r="2.4"/><circle cx="415.7" cy="925.47" r="2.4"/><circle cx="405.38" cy="937.69" r="2.4"/><circle cx="426.55" cy="915.58" r="2.4"/><circle cx="414.44" cy="929.47" r="2.4"/><circle cx="441.74" cy="943.09" r="2.4"/><circle cx="426.8" cy="937.54" r="2.4"/><circle cx="428.79" cy="941.47" r="2.4"/><circle cx="420.41" cy="916.85" r="2.4"/><circle cx="405.5" cy="923.55" r="2.4"/><circle cx="432.68" cy="914.21" r="2.4"/><circle cx="407.94" cy="924.95" r="2.4"/><circle cx="421.5" cy="923.26" r="2.4"/><circle cx="430.28" cy="913.03" r="2.4"/><circle cx="441.71" cy="920.47" r="2.4"/><circle cx="423.65" cy="918.47" r="2.4"/><circle cx="430.79" cy="918.62" r="2.4"/><circle cx="438.65" cy="922.95" r="2.4"/><circle cx="421.29" cy="935.26" r="2.4"/><circle cx="440.87" cy="933.33" r="2.4"/><circle cx="433.71" cy="904.13" r="2.4"/><circle cx="437.77" cy="935.75" r="2.4"/><circle cx="430.21" cy="928.6" r="2.4"/><circle cx="446.66" cy="935.72" r="2.4"/><circle cx="415.43" cy="917.33" r="2.4"/><circle cx="420.71" cy="930.85" r="2.4"/><circle cx="442.47" cy="923.99" r="2.4"/><circle cx="409.42" cy="936.84" r="2.4"/><circle cx="421.12" cy="939.03" r="2.4"/><circle cx="415.22" cy="912.23" r="2.4"/><circle cx="409.42" cy="920.61" r="2.4"/><circle cx="427.31" cy="922.16" r="2.4"/><circle cx="445.95" cy="919.16" r="2.4"/><circle cx="413.25" cy="920.39" r="2.4"/><circle cx="432.99" cy="910.29" r="2.4"/><circle cx="428.39" cy="925.37" r="2.4"/><circle cx="417.31" cy="930.83" r="2.4"/><circle cx="435.13" cy="916.63" r="2.4"/><circle cx="408.23" cy="915.69" r="2.4"/><circle cx="416.45" cy="945.59" r="2.4"/><circle cx="436.08" cy="940.7" r="2.4"/><circle cx="412.83" cy="945.68" r="2.4"/><circle cx="444.86" cy="940.15" r="2.4"/><circle cx="426.42" cy="929.47" r="2.4"/><circle cx="419.33" cy="943.19" r="2.4"/><circle cx="422.9" cy="942.71" r="2.4"/><circle cx="417.22" cy="922.91" r="2.4"/><circle cx="426.43" cy="912.86" r="2.4"/><circle cx="405.13" cy="927.29" r="2.4"/><circle cx="411.43" cy="923.48" r="2.4"/><circle cx="420.76" cy="920.5" r="2.4"/><circle cx="418.71" cy="913.34" r="2.4"/><circle cx="433.33" cy="928.09" r="2.4"/><circle cx="443.45" cy="917.77" r="2.4"/><circle cx="425.22" cy="926.27" r="2.4"/><circle cx="439.55" cy="929.58" r="2.4"/><circle cx="435.11" cy="934" r="2.4"/><circle cx="435.54" cy="906.15" r="2.4"/><circle cx="434" cy="921.14" r="2.4"/><circle cx="424.04" cy="921.94" r="2.4"/><circle cx="430.45" cy="937.84" r="2.4"/><circle cx="405.08" cy="919.69" r="2.4"/><circle cx="410.35" cy="926.72" r="2.4"/><circle cx="409.61" cy="945.14" r="2.4"/><circle cx="419.33" cy="924.88" r="2.4"/><circle cx="418.48" cy="907.84" r="2.4"/><circle cx="407.86" cy="931.84" r="2.4"/><circle cx="423.41" cy="913.29" r="2.4"/><circle cx="429.32" cy="907.92" r="2.4"/><circle cx="445.78" cy="915.96" r="2.4"/><circle cx="435.45" cy="926.27" r="2.4"/><circle cx="405.22" cy="934.34" r="2.4"/><circle cx="417.25" cy="927.7" r="2.4"/><circle cx="441.8" cy="940.26" r="2.4"/><circle cx="409.55" cy="911.82" r="2.4"/><circle cx="432.88" cy="939.09" r="2.4"/><circle cx="443.42" cy="935.98" r="2.4"/><circle cx="422.22" cy="910.2" r="2.4"/><circle cx="419.35" cy="910.59" r="2.4"/><circle cx="445.44" cy="922.74" r="2.4"/><circle cx="439.25" cy="908.18" r="2.4"/><circle cx="411.86" cy="910.22" r="2.4"/><circle cx="438.09" cy="927.09" r="2.4"/><circle cx="435.5" cy="929.97" r="2.4"/><circle cx="444.76" cy="927.48" r="2.4"/><circle cx="404.72" cy="930.28" r="2.4"/><circle cx="421.77" cy="907.39" r="2.4"/><circle cx="411.69" cy="930.4" r="2.4"/><circle cx="445.43" cy="930.14" r="2.4"/><circle cx="432.16" cy="930.61" r="2.4"/><circle cx="423.55" cy="936.94" r="2.4"/><circle cx="413.82" cy="935.12" r="2.4"/><circle cx="429.27" cy="931.1" r="2.4"/><circle cx="423.63" cy="929.91" r="2.4"/><circle cx="414.85" cy="932.57" r="2.4"/><circle cx="447.41" cy="928.13" r="2.4"/><circle cx="420.87" cy="927.53" r="2.4"/><circle cx="440.46" cy="936.64" r="2.4"/><circle cx="431.06" cy="926.06" r="2.4"/><circle cx="427.55" cy="919.18" r="2.4"/><circle cx="415.67" cy="909.08" r="2.4"/><circle cx="411.52" cy="917.63" r="2.4"/><circle cx="434.52" cy="936.69" r="2.4"/><circle cx="407.37" cy="928.88" r="2.4"/><circle cx="418.26" cy="940.24" r="2.4"/><circle cx="418.42" cy="935.59" r="2.4"/><circle cx="426.32" cy="932.48" r="2.4"/><circle cx="430.02" cy="922.98" r="2.4"/><circle cx="437.04" cy="919.71" r="2.4"/><circle cx="444.13" cy="932.67" r="2.4"/><circle cx="407.1" cy="879.2" r="2.4"/><circle cx="406.8" cy="884.5" r="2.4"/><circle cx="405.8" cy="890.5" r="2.4"/><circle cx="405.8" cy="896.8" r="2.4"/><circle cx="416.8" cy="886.8" r="2.4"/><circle cx="426.5" cy="891.5" r="2.4"/><circle cx="425.5" cy="901.4" r="2.4"/><circle cx="434.7" cy="902.9" r="2.4"/><circle cx="410.9" cy="903.7" r="2.4"/><circle cx="447.5" cy="907" r="2.4"/><circle cx="434" cy="947.7" r="2.4"/><circle cx="441.9" cy="944" r="2.4"/><circle cx="466.6" cy="895.1" r="2.4"/><circle cx="452.5" cy="897.6" r="2.4"/><circle cx="454.8" cy="901.7" r="2.4"/><circle cx="448.4" cy="907.1" r="2.4"/><circle cx="463.3" cy="904.3" r="2.4"/><circle cx="463.3" cy="910.5" r="2.4"/><circle cx="470.7" cy="912.7" r="2.4"/><circle cx="472.2" cy="918" r="2.4"/><circle cx="462" cy="916" r="2.4"/><circle cx="462.7" cy="919.3" r="2.4"/><circle cx="457.6" cy="920.4" r="2.4"/><circle cx="461" cy="922.9" r="2.4"/><circle cx="445.1" cy="918" r="2.4"/><circle cx="444.9" cy="922.9" r="2.4"/><circle cx="447.2" cy="926" r="2.4"/><circle cx="453.8" cy="926" r="2.4"/><circle cx="455.5" cy="927.5" r="2.4"/><circle cx="453.3" cy="930.1" r="2.4"/><circle cx="455.5" cy="934.2" r="2.4"/><circle cx="455.3" cy="937.7" r="2.4"/><circle cx="447.4" cy="935.2" r="2.4"/><circle cx="442" cy="938.2" r="2.4"/><circle cx="442" cy="943.9" r="2.4"/><circle cx="476" cy="926.8" r="2.4"/><circle cx="479.3" cy="927.5" r="2.4"/><circle cx="481.9" cy="929" r="2.4"/><circle cx="469.1" cy="935" r="2.4"/><circle cx="475.6" cy="934" r="2.4"/><circle cx="480.6" cy="939.6" r="2.4"/><circle cx="499.6" cy="906.1" r="2.4"/></g>
<rect x="377.6" y="785.5" width="133.6" height="180" fill="none" stroke="#2b2b2b" stroke-width="1.15"/>
<g fill="#111" color="#111"><text x="354.51" y="968.81" font-size="11.2" textLength="14.42" lengthAdjust="spacingAndGlyphs">0.0</text><text x="354.51" y="932.81" font-size="11.2" textLength="14.42" lengthAdjust="spacingAndGlyphs">1.0</text><text x="354.51" y="896.81" font-size="11.2" textLength="14.42" lengthAdjust="spacingAndGlyphs">2.0</text><text x="354.51" y="860.81" font-size="11.2" textLength="14.42" lengthAdjust="spacingAndGlyphs">3.0</text><text x="354.51" y="824.81" font-size="11.2" textLength="14.42" lengthAdjust="spacingAndGlyphs">4.0</text><text x="354.51" y="788.81" font-size="11.2" textLength="14.42" lengthAdjust="spacingAndGlyphs">5.0</text><text x="374.59" y="981.3" font-size="11.4">1</text><text x="412.88" y="981.3" font-size="11.4">3</text><text x="450.99" y="981.3" font-size="11.4">5</text><text x="489.06" y="981.3" font-size="11.4">7</text></g>
<text x="440.63" y="1000.7" font-size="13.5" font-style="italic" textLength="17.89" lengthAdjust="spacingAndGlyphs">a/d</text>
<g stroke="#2b2b2b" stroke-width="1"><line x1="542.1" y1="966.2" x2="545.5" y2="966.2"/><line x1="542.9" y1="948.19" x2="545.5" y2="948.19"/><line x1="542.1" y1="930.18" x2="545.5" y2="930.18"/><line x1="542.9" y1="912.17" x2="545.5" y2="912.17"/><line x1="542.1" y1="894.16" x2="545.5" y2="894.16"/><line x1="542.9" y1="876.15" x2="545.5" y2="876.15"/><line x1="542.1" y1="858.14" x2="545.5" y2="858.14"/><line x1="542.9" y1="840.13" x2="545.5" y2="840.13"/><line x1="542.1" y1="822.12" x2="545.5" y2="822.12"/><line x1="542.9" y1="804.11" x2="545.5" y2="804.11"/><line x1="542.1" y1="786.1" x2="545.5" y2="786.1"/><line x1="545.5" y1="966.2" x2="545.5" y2="969.1"/><line x1="572.06" y1="966.2" x2="572.06" y2="969.1"/><line x1="598.62" y1="966.2" x2="598.62" y2="969.1"/><line x1="625.18" y1="966.2" x2="625.18" y2="969.1"/><line x1="651.74" y1="966.2" x2="651.74" y2="969.1"/><line x1="678.3" y1="966.2" x2="678.3" y2="969.1"/></g>
<line x1="546.1" y1="930.48" x2="678.3" y2="930.48" stroke="#3a3a3a" stroke-width="1.5" stroke-dasharray="3.5 2.6"/>
<g fill="#d6d6d6" stroke="#000" stroke-width="1.1"><circle cx="573.42" cy="924.67" r="2.4"/><circle cx="563.3" cy="933.11" r="2.4"/><circle cx="572.96" cy="927.8" r="2.4"/><circle cx="559.11" cy="914.25" r="2.4"/><circle cx="551.79" cy="941.93" r="2.4"/><circle cx="569.97" cy="920.07" r="2.4"/><circle cx="567.76" cy="922.39" r="2.4"/><circle cx="566.16" cy="924.83" r="2.4"/><circle cx="567.61" cy="918.11" r="2.4"/><circle cx="568.22" cy="914.34" r="2.4"/><circle cx="555.38" cy="925.2" r="2.4"/><circle cx="557.06" cy="938.99" r="2.4"/><circle cx="563.76" cy="915.53" r="2.4"/><circle cx="558.19" cy="933.13" r="2.4"/><circle cx="560.21" cy="920.15" r="2.4"/><circle cx="557.39" cy="945.45" r="2.4"/><circle cx="565.62" cy="937.57" r="2.4"/><circle cx="569.32" cy="931.72" r="2.4"/><circle cx="551.9" cy="930.22" r="2.4"/><circle cx="554.35" cy="934.78" r="2.4"/><circle cx="561.31" cy="909.76" r="2.4"/><circle cx="549.69" cy="928.49" r="2.4"/><circle cx="549.31" cy="925.22" r="2.4"/><circle cx="550.25" cy="939.01" r="2.4"/><circle cx="556.35" cy="921.98" r="2.4"/><circle cx="566.53" cy="940.2" r="2.4"/><circle cx="554.78" cy="927.81" r="2.4"/><circle cx="559.92" cy="922.85" r="2.4"/><circle cx="551.87" cy="921.65" r="2.4"/><circle cx="561.53" cy="944" r="2.4"/><circle cx="557.14" cy="936.07" r="2.4"/><circle cx="546.69" cy="931.64" r="2.4"/><circle cx="558.08" cy="929.31" r="2.4"/><circle cx="555.09" cy="943.08" r="2.4"/><circle cx="573.82" cy="922.03" r="2.4"/><circle cx="569.06" cy="938.79" r="2.4"/><circle cx="554.86" cy="917.75" r="2.4"/><circle cx="561.69" cy="926.07" r="2.4"/><circle cx="560.12" cy="940.3" r="2.4"/><circle cx="568.8" cy="935.58" r="2.4"/><circle cx="551.74" cy="935.52" r="2.4"/><circle cx="547.52" cy="935.4" r="2.4"/><circle cx="563.48" cy="918.3" r="2.4"/><circle cx="566.86" cy="911.8" r="2.4"/><circle cx="570.67" cy="925.87" r="2.4"/><circle cx="560.63" cy="916.7" r="2.4"/><circle cx="567.88" cy="929.36" r="2.4"/><circle cx="555.39" cy="932.23" r="2.4"/><circle cx="550.02" cy="933.38" r="2.4"/><circle cx="570.96" cy="923.08" r="2.4"/><circle cx="565.26" cy="928.67" r="2.4"/><circle cx="553.69" cy="939.15" r="2.4"/><circle cx="563.67" cy="911.9" r="2.4"/><circle cx="561.87" cy="930.28" r="2.4"/><circle cx="559.87" cy="936.27" r="2.4"/><circle cx="563.11" cy="940.79" r="2.4"/><circle cx="565.38" cy="909.44" r="2.4"/><circle cx="564.83" cy="922.21" r="2.4"/><circle cx="566.2" cy="933.4" r="2.4"/><circle cx="562.92" cy="936.68" r="2.4"/><circle cx="558.88" cy="926.73" r="2.4"/><circle cx="557.8" cy="917.28" r="2.4"/><circle cx="564.6" cy="943.35" r="2.4"/><circle cx="557.92" cy="910.16" r="2.4"/><circle cx="552.12" cy="924.6" r="2.4"/><circle cx="571.91" cy="930.29" r="2.4"/><circle cx="554.07" cy="945.57" r="2.4"/><circle cx="571.89" cy="933.76" r="2.4"/><circle cx="558.28" cy="942.4" r="2.4"/><circle cx="561.74" cy="913.76" r="2.4"/><circle cx="547.66" cy="938.1" r="2.4"/><circle cx="556.26" cy="915.07" r="2.4"/><circle cx="548.56" cy="941.08" r="2.4"/><circle cx="606.1" cy="879.9" r="2.4"/><circle cx="600.2" cy="883.5" r="2.4"/><circle cx="605.3" cy="886.8" r="2.4"/><circle cx="605.3" cy="892.2" r="2.4"/><circle cx="600.2" cy="897.8" r="2.4"/><circle cx="600.2" cy="905" r="2.4"/><circle cx="597.1" cy="910.1" r="2.4"/><circle cx="600.2" cy="911.6" r="2.4"/><circle cx="600.2" cy="914.2" r="2.4"/><circle cx="596.6" cy="922.1" r="2.4"/><circle cx="596.6" cy="926.4" r="2.4"/><circle cx="596.6" cy="929.5" r="2.4"/><circle cx="586.2" cy="895.8" r="2.4"/><circle cx="584.9" cy="904.8" r="2.4"/><circle cx="577.7" cy="907.8" r="2.4"/><circle cx="580.3" cy="913.1" r="2.4"/><circle cx="580.3" cy="915.7" r="2.4"/><circle cx="583.6" cy="915.2" r="2.4"/><circle cx="587.4" cy="917" r="2.4"/><circle cx="580.3" cy="921.6" r="2.4"/><circle cx="588.1" cy="929.5" r="2.4"/><circle cx="588.1" cy="932" r="2.4"/><circle cx="588.1" cy="944" r="2.4"/><circle cx="568.7" cy="891.2" r="2.4"/><circle cx="561.3" cy="901.7" r="2.4"/><circle cx="568.7" cy="903.7" r="2.4"/><circle cx="567.3" cy="907.8" r="2.4"/><circle cx="575.7" cy="937.7" r="2.4"/><circle cx="572.6" cy="936.1" r="2.4"/><circle cx="554.4" cy="948.4" r="2.4"/><circle cx="656.8" cy="902.3" r="2.4"/><circle cx="644.1" cy="913.4" r="2.4"/><circle cx="661.5" cy="912.2" r="2.4"/></g>
<rect x="545.5" y="786.1" width="132.8" height="180.1" fill="none" stroke="#2b2b2b" stroke-width="1.15"/>
<g fill="#111" color="#111"><text x="522.21" y="969.51" font-size="11.2" textLength="14.42" lengthAdjust="spacingAndGlyphs">0.0</text><text x="522.21" y="933.49" font-size="11.2" textLength="14.42" lengthAdjust="spacingAndGlyphs">1.0</text><text x="522.21" y="897.47" font-size="11.2" textLength="14.42" lengthAdjust="spacingAndGlyphs">2.0</text><text x="522.21" y="861.45" font-size="11.2" textLength="14.42" lengthAdjust="spacingAndGlyphs">3.0</text><text x="522.21" y="825.43" font-size="11.2" textLength="14.42" lengthAdjust="spacingAndGlyphs">4.0</text><text x="522.21" y="789.41" font-size="11.2" textLength="14.42" lengthAdjust="spacingAndGlyphs">5.0</text><text x="542.83" y="981.8" font-size="10" textLength="5.35" lengthAdjust="spacingAndGlyphs">0</text><text x="562.79" y="981.8" font-size="10" textLength="18.73" lengthAdjust="spacingAndGlyphs">0.02</text><text x="589.14" y="981.8" font-size="10" textLength="18.73" lengthAdjust="spacingAndGlyphs">0.04</text><text x="615.78" y="981.8" font-size="10" textLength="18.73" lengthAdjust="spacingAndGlyphs">0.06</text><text x="642.38" y="981.8" font-size="10" textLength="18.73" lengthAdjust="spacingAndGlyphs">0.08</text><text x="671.73" y="981.8" font-size="10" textLength="13.38" lengthAdjust="spacingAndGlyphs">0.1</text></g>
<text x="612.25" y="1000.8" font-size="14" font-style="italic">ρ</text><text x="619.39" y="1004.3" font-size="9.8" font-style="italic">l</text>
<g transform="translate(9.6,909.7) rotate(-90)"><text x="-3.96" y="0" font-size="14.5" font-style="italic" transform="skewX(-14)">V</text><text x="6.18" y="3.5" font-size="9.3" font-style="italic">test</text><text x="18.83" y="0" font-size="14" font-style="italic">/</text><text x="21.44" y="0" font-size="14.5" font-style="italic" transform="skewX(-14)">V</text><text x="32.53" y="3.5" font-size="9.3" font-style="italic">predict</text></g>
<g fill="#0000ff" color="#0000ff"><text x="51.24" y="800.2" font-size="11.5" textLength="66.42" lengthAdjust="spacingAndGlyphs">Mean = 1.140</text><text x="51.12" y="814.3" font-size="11.5" textLength="58.3" lengthAdjust="spacingAndGlyphs">COV = 0.31</text><text x="51.24" y="828.4" font-size="11.5" textLength="55.2" lengthAdjust="spacingAndGlyphs">Max = 2.39</text><text x="51.24" y="842.5" font-size="11.5" textLength="56.2" lengthAdjust="spacingAndGlyphs">Min =  0.49</text><text x="602.74" y="800.2" font-size="11.5" textLength="6.61" lengthAdjust="spacingAndGlyphs">P</text><text x="610.19" y="803.3" font-size="7.9" textLength="14.28" lengthAdjust="spacingAndGlyphs">0.05</text><text x="625.51" y="800.2" font-size="11.5" textLength="30.46" lengthAdjust="spacingAndGlyphs">= 0.68</text><text x="602.98" y="814.3" font-size="11.5" textLength="57.84" lengthAdjust="spacingAndGlyphs">AAE = 0.22</text><text x="602.51" y="828.4" font-size="11.5" textLength="67.84" lengthAdjust="spacingAndGlyphs">&lt; 0.75 = 7.9%</text></g>
<text x="284.18" y="1023.8" font-size="15.2" textLength="147.72" lengthAdjust="spacingAndGlyphs">(d) Laskar et al. (2010)</text>
<g stroke="#2b2b2b" stroke-width="1"><line x1="41.3" y1="1220.4" x2="45.3" y2="1220.4"/><line x1="42.1" y1="1202.38" x2="45.3" y2="1202.38"/><line x1="41.3" y1="1184.36" x2="45.3" y2="1184.36"/><line x1="42.1" y1="1166.34" x2="45.3" y2="1166.34"/><line x1="41.3" y1="1148.32" x2="45.3" y2="1148.32"/><line x1="42.1" y1="1130.3" x2="45.3" y2="1130.3"/><line x1="41.3" y1="1112.28" x2="45.3" y2="1112.28"/><line x1="42.1" y1="1094.26" x2="45.3" y2="1094.26"/><line x1="41.3" y1="1076.24" x2="45.3" y2="1076.24"/><line x1="42.1" y1="1058.22" x2="45.3" y2="1058.22"/><line x1="41.3" y1="1040.2" x2="45.3" y2="1040.2"/><line x1="45.3" y1="1220.4" x2="45.3" y2="1223.7"/><line x1="78.58" y1="1220.4" x2="78.58" y2="1223.7"/><line x1="111.85" y1="1220.4" x2="111.85" y2="1223.7"/><line x1="145.12" y1="1220.4" x2="145.12" y2="1223.7"/><line x1="178.4" y1="1220.4" x2="178.4" y2="1223.7"/></g>
<line x1="45.9" y1="1184.66" x2="178.4" y2="1184.66" stroke="#3a3a3a" stroke-width="1.5" stroke-dasharray="3.5 2.6"/>
<g fill="#d6d6d6" stroke="#000" stroke-width="1.1"><circle cx="95.13" cy="1172.72" r="2.55"/><circle cx="75.59" cy="1184.67" r="2.55"/><circle cx="81.09" cy="1189.5" r="2.55"/><circle cx="77.46" cy="1190.71" r="2.55"/><circle cx="101.63" cy="1177.2" r="2.55"/><circle cx="73.09" cy="1192.58" r="2.55"/><circle cx="72.17" cy="1174.71" r="2.55"/><circle cx="64.11" cy="1186.65" r="2.55"/><circle cx="89.44" cy="1189.46" r="2.55"/><circle cx="72.9" cy="1178.71" r="2.55"/><circle cx="70.69" cy="1181.83" r="2.55"/><circle cx="95.28" cy="1176.47" r="2.55"/><circle cx="88.23" cy="1182.06" r="2.55"/><circle cx="72.76" cy="1185.74" r="2.55"/><circle cx="89.9" cy="1172.52" r="2.55"/><circle cx="89.05" cy="1176.27" r="2.55"/><circle cx="93" cy="1186.62" r="2.55"/><circle cx="96.51" cy="1187.12" r="2.55"/><circle cx="91.51" cy="1177.52" r="2.55"/><circle cx="95.25" cy="1180.88" r="2.55"/><circle cx="68.23" cy="1188.85" r="2.55"/><circle cx="77.46" cy="1173.51" r="2.55"/><circle cx="80.32" cy="1185.26" r="2.55"/><circle cx="66.56" cy="1180.18" r="2.55"/><circle cx="60.48" cy="1180.87" r="2.55"/><circle cx="102.1" cy="1179.93" r="2.55"/><circle cx="83.66" cy="1181.84" r="2.55"/><circle cx="79.3" cy="1177.54" r="2.55"/><circle cx="85.45" cy="1192.14" r="2.55"/><circle cx="84.3" cy="1174.94" r="2.55"/><circle cx="81.65" cy="1174.51" r="2.55"/><circle cx="67.91" cy="1191.83" r="2.55"/><circle cx="103.38" cy="1183.14" r="2.55"/><circle cx="76.53" cy="1181.04" r="2.55"/><circle cx="89.73" cy="1185.41" r="2.55"/><circle cx="85.37" cy="1187.64" r="2.55"/><circle cx="61.07" cy="1184.95" r="2.55"/><circle cx="99.3" cy="1186.06" r="2.55"/><circle cx="91.76" cy="1191.23" r="2.55"/><circle cx="97.74" cy="1183.84" r="2.55"/><circle cx="79.45" cy="1171.23" r="2.55"/><circle cx="66.99" cy="1184.86" r="2.55"/><circle cx="76.36" cy="1193.26" r="2.55"/><circle cx="76.5" cy="1176.84" r="2.55"/><circle cx="97.93" cy="1178.53" r="2.55"/><circle cx="85.88" cy="1172.26" r="2.55"/><circle cx="65.6" cy="1175.19" r="2.55"/><circle cx="69.44" cy="1186.06" r="2.55"/><circle cx="92.29" cy="1174.41" r="2.55"/><circle cx="81.91" cy="1179.73" r="2.55"/><circle cx="86.32" cy="1179.06" r="2.55"/><circle cx="97.69" cy="1174.13" r="2.55"/><circle cx="94.62" cy="1189.26" r="2.55"/><circle cx="62.74" cy="1178.8" r="2.55"/><circle cx="75.4" cy="1188.61" r="2.55"/><circle cx="89.24" cy="1179.41" r="2.55"/><circle cx="83.68" cy="1194.64" r="2.55"/><circle cx="105.05" cy="1178.52" r="2.55"/><circle cx="72.74" cy="1189.41" r="2.55"/><circle cx="92" cy="1181.94" r="2.55"/><circle cx="85.31" cy="1184.35" r="2.55"/><circle cx="79.06" cy="1195.27" r="2.55"/><circle cx="64.25" cy="1189.63" r="2.55"/><circle cx="64.91" cy="1183.14" r="2.55"/><circle cx="78.14" cy="1187.15" r="2.55"/><circle cx="68.99" cy="1179.06" r="2.55"/><circle cx="68.33" cy="1174.99" r="2.55"/><circle cx="73.8" cy="1181.48" r="2.55"/><circle cx="74.31" cy="1172.01" r="2.55"/><circle cx="100.26" cy="1182.94" r="2.55"/><circle cx="102.85" cy="1185.81" r="2.55"/><circle cx="89.04" cy="1193.75" r="2.55"/><circle cx="94.26" cy="1183.47" r="2.55"/><circle cx="82.63" cy="1171.33" r="2.55"/><circle cx="80.5" cy="1192.9" r="2.55"/><circle cx="82.89" cy="1186.34" r="2.55"/><circle cx="79.7" cy="1181.97" r="2.55"/><circle cx="100.72" cy="1174.52" r="2.55"/><circle cx="70.7" cy="1191.23" r="2.55"/><circle cx="70.4" cy="1176.78" r="2.55"/><circle cx="62.28" cy="1176.05" r="2.55"/><circle cx="83.77" cy="1189.85" r="2.55"/><circle cx="82.9" cy="1177.23" r="2.55"/><circle cx="86.4" cy="1194.64" r="2.55"/><circle cx="91.5" cy="1152.8" r="2.55"/><circle cx="92" cy="1157.9" r="2.55"/><circle cx="85.4" cy="1160.9" r="2.55"/><circle cx="102.2" cy="1159.9" r="2.55"/><circle cx="105" cy="1167.8" r="2.55"/><circle cx="63.9" cy="1169.4" r="2.55"/><circle cx="88.4" cy="1168.4" r="2.55"/><circle cx="59.3" cy="1178.3" r="2.55"/><circle cx="111.2" cy="1178.6" r="2.55"/><circle cx="109.9" cy="1192.1" r="2.55"/><circle cx="95.9" cy="1192.1" r="2.55"/><circle cx="61.9" cy="1189.9" r="2.55"/><circle cx="152.2" cy="1159.4" r="2.55"/><circle cx="152.2" cy="1162.5" r="2.55"/><circle cx="148.9" cy="1171.2" r="2.55"/><circle cx="148.9" cy="1172.5" r="2.55"/><circle cx="151.5" cy="1178.3" r="2.55"/><circle cx="119.1" cy="1170.7" r="2.55"/><circle cx="131.1" cy="1169.6" r="2.55"/><circle cx="134.8" cy="1171.7" r="2.55"/><circle cx="127.7" cy="1173.7" r="2.55"/><circle cx="126.5" cy="1179.3" r="2.55"/><circle cx="129.5" cy="1179.3" r="2.55"/><circle cx="136.2" cy="1178.8" r="2.55"/><circle cx="137.7" cy="1176.3" r="2.55"/><circle cx="141.3" cy="1180.4" r="2.55"/><circle cx="146.2" cy="1182.1" r="2.55"/><circle cx="135.1" cy="1183.1" r="2.55"/><circle cx="128.7" cy="1184.1" r="2.55"/><circle cx="141.6" cy="1185" r="2.55"/><circle cx="132.6" cy="1188" r="2.55"/><circle cx="127" cy="1191.6" r="2.55"/><circle cx="128.7" cy="1194" r="2.55"/><circle cx="117.8" cy="1182.7" r="2.55"/><circle cx="111.1" cy="1178.6" r="2.55"/><circle cx="109.9" cy="1192.1" r="2.55"/><circle cx="159" cy="1191.6" r="2.55"/><circle cx="106" cy="1168.1" r="2.55"/><circle cx="106" cy="1177.6" r="2.55"/></g>
<rect x="45.3" y="1040.2" width="133.1" height="180.2" fill="none" stroke="#2b2b2b" stroke-width="1.15"/>
<g fill="#111" color="#111"><text x="18.99" y="1224.15" font-size="12.5" textLength="16.09" lengthAdjust="spacingAndGlyphs">0.0</text><text x="18.99" y="1188.11" font-size="12.5" textLength="16.09" lengthAdjust="spacingAndGlyphs">1.0</text><text x="18.99" y="1152.07" font-size="12.5" textLength="16.09" lengthAdjust="spacingAndGlyphs">2.0</text><text x="18.99" y="1116.03" font-size="12.5" textLength="16.09" lengthAdjust="spacingAndGlyphs">3.0</text><text x="18.99" y="1079.99" font-size="12.5" textLength="16.09" lengthAdjust="spacingAndGlyphs">4.0</text><text x="18.99" y="1043.95" font-size="12.5" textLength="16.09" lengthAdjust="spacingAndGlyphs">5.0</text><text x="42.22" y="1238.9" font-size="12.3">0</text><text x="72.36" y="1238.9" font-size="12.3">30</text><text x="105.67" y="1238.9" font-size="12.3">60</text><text x="139.01" y="1238.9" font-size="12.3">90</text><text x="168.87" y="1238.9" font-size="12.3">120</text></g>
<text x="82.24" y="1255.7" font-size="13.8" font-style="italic" textLength="4.68" lengthAdjust="spacingAndGlyphs">f</text><text x="90.37" y="1255.7" font-size="13.5">’</text><text x="94.27" y="1259.1" font-size="9.5" font-style="italic">c</text><text x="101.81" y="1255.7" font-size="13.5" textLength="36.35" lengthAdjust="spacingAndGlyphs">(MPa)</text>
<g stroke="#2b2b2b" stroke-width="1"><line x1="209" y1="1221.2" x2="213" y2="1221.2"/><line x1="209.8" y1="1203.17" x2="213" y2="1203.17"/><line x1="209" y1="1185.14" x2="213" y2="1185.14"/><line x1="209.8" y1="1167.11" x2="213" y2="1167.11"/><line x1="209" y1="1149.08" x2="213" y2="1149.08"/><line x1="209.8" y1="1131.05" x2="213" y2="1131.05"/><line x1="209" y1="1113.02" x2="213" y2="1113.02"/><line x1="209.8" y1="1094.99" x2="213" y2="1094.99"/><line x1="209" y1="1076.96" x2="213" y2="1076.96"/><line x1="209.8" y1="1058.93" x2="213" y2="1058.93"/><line x1="209" y1="1040.9" x2="213" y2="1040.9"/><line x1="213" y1="1221.2" x2="213" y2="1224.5"/><line x1="245.88" y1="1221.2" x2="245.88" y2="1224.5"/><line x1="278.75" y1="1221.2" x2="278.75" y2="1224.5"/><line x1="311.62" y1="1221.2" x2="311.62" y2="1224.5"/><line x1="344.5" y1="1221.2" x2="344.5" y2="1224.5"/></g>
<line x1="213.6" y1="1185.44" x2="344.5" y2="1185.44" stroke="#3a3a3a" stroke-width="1.5" stroke-dasharray="3.5 2.6"/>
<g fill="#d6d6d6" stroke="#000" stroke-width="1.1"><circle cx="225.31" cy="1193.81" r="2.55"/><circle cx="229.11" cy="1180.92" r="2.55"/><circle cx="225.73" cy="1182.81" r="2.55"/><circle cx="251.42" cy="1180.73" r="2.55"/><circle cx="246.41" cy="1181.38" r="2.55"/><circle cx="243.7" cy="1184.63" r="2.55"/><circle cx="233.4" cy="1189.65" r="2.55"/><circle cx="232.36" cy="1193.05" r="2.55"/><circle cx="245.34" cy="1193.44" r="2.55"/><circle cx="238.53" cy="1191.31" r="2.55"/><circle cx="228.33" cy="1190.48" r="2.55"/><circle cx="252.74" cy="1190.93" r="2.55"/><circle cx="244.69" cy="1188.27" r="2.55"/><circle cx="234.02" cy="1184.77" r="2.55"/><circle cx="228.22" cy="1183.79" r="2.55"/><circle cx="253.63" cy="1194.56" r="2.55"/><circle cx="240.24" cy="1178.54" r="2.55"/><circle cx="240.24" cy="1193.43" r="2.55"/><circle cx="255.25" cy="1185.99" r="2.55"/><circle cx="227.23" cy="1175.57" r="2.55"/><circle cx="230.51" cy="1176.29" r="2.55"/><circle cx="233.26" cy="1176.86" r="2.55"/><circle cx="238.08" cy="1170.56" r="2.55"/><circle cx="244.79" cy="1173.98" r="2.55"/><circle cx="241.1" cy="1171.54" r="2.55"/><circle cx="230.43" cy="1171.41" r="2.55"/><circle cx="241.05" cy="1196.46" r="2.55"/><circle cx="230.92" cy="1185.16" r="2.55"/><circle cx="237.38" cy="1175.15" r="2.55"/><circle cx="242.88" cy="1191.92" r="2.55"/><circle cx="249.82" cy="1189.16" r="2.55"/><circle cx="235.02" cy="1192.05" r="2.55"/><circle cx="227.73" cy="1169.09" r="2.55"/><circle cx="236.55" cy="1181.42" r="2.55"/><circle cx="235.46" cy="1169.68" r="2.55"/><circle cx="253.99" cy="1182.05" r="2.55"/><circle cx="240.59" cy="1174.88" r="2.55"/><circle cx="238.71" cy="1187.32" r="2.55"/><circle cx="249.43" cy="1196.01" r="2.55"/><circle cx="244.16" cy="1177.42" r="2.55"/><circle cx="228.25" cy="1194.1" r="2.55"/><circle cx="243.89" cy="1180.1" r="2.55"/><circle cx="252.4" cy="1185.45" r="2.55"/><circle cx="227.21" cy="1186.71" r="2.55"/><circle cx="238.29" cy="1195.7" r="2.55"/><circle cx="241.41" cy="1182.82" r="2.55"/><circle cx="249.06" cy="1183.4" r="2.55"/><circle cx="252.44" cy="1178.05" r="2.55"/><circle cx="233.18" cy="1168.09" r="2.55"/><circle cx="257.27" cy="1193.66" r="2.55"/><circle cx="223.25" cy="1190.28" r="2.55"/><circle cx="247.57" cy="1191.19" r="2.55"/><circle cx="234.11" cy="1180" r="2.55"/><circle cx="226.72" cy="1172.4" r="2.55"/><circle cx="223.23" cy="1180.9" r="2.55"/><circle cx="232.87" cy="1195.72" r="2.55"/><circle cx="223.29" cy="1185.53" r="2.55"/><circle cx="256.52" cy="1190.89" r="2.55"/><circle cx="225.56" cy="1179.27" r="2.55"/><circle cx="233.44" cy="1172.45" r="2.55"/><circle cx="241.94" cy="1186.8" r="2.55"/><circle cx="238.31" cy="1184.09" r="2.55"/><circle cx="248.5" cy="1186.13" r="2.55"/><circle cx="228.29" cy="1178.12" r="2.55"/><circle cx="236.49" cy="1178.36" r="2.55"/><circle cx="246.11" cy="1196.86" r="2.55"/><circle cx="240.92" cy="1189.5" r="2.55"/><circle cx="253.79" cy="1188.38" r="2.55"/><circle cx="231.99" cy="1181.78" r="2.55"/><circle cx="230.83" cy="1187.84" r="2.55"/><circle cx="248.82" cy="1180.05" r="2.55"/><circle cx="235.46" cy="1187.53" r="2.55"/><circle cx="252.66" cy="1197.06" r="2.55"/><circle cx="251.02" cy="1193.8" r="2.55"/><circle cx="240.6" cy="1160.9" r="2.55"/><circle cx="240.6" cy="1162.3" r="2.55"/><circle cx="247.6" cy="1158.7" r="2.55"/><circle cx="273" cy="1180.7" r="2.55"/><circle cx="273" cy="1189.3" r="2.55"/><circle cx="280.5" cy="1178.3" r="2.55"/><circle cx="280" cy="1180.9" r="2.55"/><circle cx="281" cy="1183.9" r="2.55"/><circle cx="301.1" cy="1153.8" r="2.55"/><circle cx="286.2" cy="1160.4" r="2.55"/><circle cx="286.2" cy="1162.7" r="2.55"/><circle cx="289.8" cy="1172.2" r="2.55"/><circle cx="289.8" cy="1173.2" r="2.55"/><circle cx="325.1" cy="1171.9" r="2.55"/><circle cx="294.9" cy="1178.3" r="2.55"/><circle cx="294.9" cy="1179.9" r="2.55"/><circle cx="281.1" cy="1178.3" r="2.55"/><circle cx="279.6" cy="1180.4" r="2.55"/><circle cx="281.3" cy="1183.9" r="2.55"/><circle cx="282.2" cy="1186.5" r="2.55"/><circle cx="293.4" cy="1186.2" r="2.55"/><circle cx="301.1" cy="1186" r="2.55"/><circle cx="275.5" cy="1180.4" r="2.55"/><circle cx="275.5" cy="1189" r="2.55"/></g>
<rect x="213" y="1040.9" width="131.5" height="180.3" fill="none" stroke="#2b2b2b" stroke-width="1.15"/>
<g fill="#111" color="#111"><text x="186.39" y="1224.95" font-size="12.5" textLength="16.09" lengthAdjust="spacingAndGlyphs">0.0</text><text x="186.39" y="1188.89" font-size="12.5" textLength="16.09" lengthAdjust="spacingAndGlyphs">1.0</text><text x="186.39" y="1152.83" font-size="12.5" textLength="16.09" lengthAdjust="spacingAndGlyphs">2.0</text><text x="186.39" y="1116.77" font-size="12.5" textLength="16.09" lengthAdjust="spacingAndGlyphs">3.0</text><text x="186.39" y="1080.71" font-size="12.5" textLength="16.09" lengthAdjust="spacingAndGlyphs">4.0</text><text x="186.39" y="1044.65" font-size="12.5" textLength="16.09" lengthAdjust="spacingAndGlyphs">5.0</text><text x="209.93" y="1239.9" font-size="12.3">0</text><text x="236.59" y="1239.9" font-size="12.3">300</text><text x="269.49" y="1239.9" font-size="12.3">600</text><text x="302.43" y="1239.9" font-size="12.3">900</text><text x="331.89" y="1239.9" font-size="12.3">1200</text></g>
<text x="259.65" y="1256.3" font-size="13.5" font-style="italic">d</text><text x="270.22" y="1256.3" font-size="13.5" textLength="31.26" lengthAdjust="spacingAndGlyphs">(mm)</text>
<g stroke="#2b2b2b" stroke-width="1"><line x1="374.8" y1="1221.2" x2="378.2" y2="1221.2"/><line x1="375.6" y1="1203.17" x2="378.2" y2="1203.17"/><line x1="374.8" y1="1185.14" x2="378.2" y2="1185.14"/><line x1="375.6" y1="1167.11" x2="378.2" y2="1167.11"/><line x1="374.8" y1="1149.08" x2="378.2" y2="1149.08"/><line x1="375.6" y1="1131.05" x2="378.2" y2="1131.05"/><line x1="374.8" y1="1113.02" x2="378.2" y2="1113.02"/><line x1="375.6" y1="1094.99" x2="378.2" y2="1094.99"/><line x1="374.8" y1="1076.96" x2="378.2" y2="1076.96"/><line x1="375.6" y1="1058.93" x2="378.2" y2="1058.93"/><line x1="374.8" y1="1040.9" x2="378.2" y2="1040.9"/><line x1="378.2" y1="1221.2" x2="378.2" y2="1224.1"/><line x1="416.2" y1="1221.2" x2="416.2" y2="1224.1"/><line x1="454.2" y1="1221.2" x2="454.2" y2="1224.1"/><line x1="492.2" y1="1221.2" x2="492.2" y2="1224.1"/></g>
<line x1="378.8" y1="1185.44" x2="511.2" y2="1185.44" stroke="#3a3a3a" stroke-width="1.5" stroke-dasharray="3.5 2.6"/>
<g fill="#d6d6d6" stroke="#000" stroke-width="1.1"><circle cx="425.7" cy="1189.67" r="2.4"/><circle cx="417.71" cy="1175.92" r="2.4"/><circle cx="426.67" cy="1184.27" r="2.4"/><circle cx="411.78" cy="1179.47" r="2.4"/><circle cx="428.17" cy="1196.55" r="2.4"/><circle cx="421.91" cy="1181.77" r="2.4"/><circle cx="425.69" cy="1179" r="2.4"/><circle cx="429.85" cy="1192.02" r="2.4"/><circle cx="415.32" cy="1194.28" r="2.4"/><circle cx="442.66" cy="1193.31" r="2.4"/><circle cx="406.15" cy="1191.24" r="2.4"/><circle cx="445.32" cy="1196.37" r="2.4"/><circle cx="407.06" cy="1184.52" r="2.4"/><circle cx="410.03" cy="1181.71" r="2.4"/><circle cx="408.02" cy="1187.34" r="2.4"/><circle cx="421.07" cy="1193.82" r="2.4"/><circle cx="438.71" cy="1195.36" r="2.4"/><circle cx="412.55" cy="1172.39" r="2.4"/><circle cx="418.77" cy="1188.14" r="2.4"/><circle cx="412.03" cy="1176.72" r="2.4"/><circle cx="442.2" cy="1182.02" r="2.4"/><circle cx="407.28" cy="1177.26" r="2.4"/><circle cx="431.68" cy="1186.09" r="2.4"/><circle cx="404.71" cy="1172.92" r="2.4"/><circle cx="439.54" cy="1192.47" r="2.4"/><circle cx="436.58" cy="1187.07" r="2.4"/><circle cx="435.52" cy="1175.01" r="2.4"/><circle cx="415.06" cy="1187.32" r="2.4"/><circle cx="422.2" cy="1186.72" r="2.4"/><circle cx="425.14" cy="1196.18" r="2.4"/><circle cx="421.52" cy="1174.58" r="2.4"/><circle cx="417.05" cy="1180.27" r="2.4"/><circle cx="445.28" cy="1179.6" r="2.4"/><circle cx="429.31" cy="1178.1" r="2.4"/><circle cx="437.13" cy="1179.14" r="2.4"/><circle cx="435.8" cy="1192.33" r="2.4"/><circle cx="404.18" cy="1177.76" r="2.4"/><circle cx="416.86" cy="1190.02" r="2.4"/><circle cx="413.72" cy="1184.46" r="2.4"/><circle cx="418.4" cy="1169.86" r="2.4"/><circle cx="444.29" cy="1189.72" r="2.4"/><circle cx="425.21" cy="1192.8" r="2.4"/><circle cx="430.46" cy="1182.86" r="2.4"/><circle cx="432.52" cy="1189.59" r="2.4"/><circle cx="439.37" cy="1182.62" r="2.4"/><circle cx="420.84" cy="1171.4" r="2.4"/><circle cx="433.29" cy="1181.74" r="2.4"/><circle cx="415.32" cy="1172.2" r="2.4"/><circle cx="407.36" cy="1171.72" r="2.4"/><circle cx="440.33" cy="1188.1" r="2.4"/><circle cx="413.57" cy="1191.82" r="2.4"/><circle cx="425.26" cy="1176.02" r="2.4"/><circle cx="447.87" cy="1183.52" r="2.4"/><circle cx="418.21" cy="1194.25" r="2.4"/><circle cx="416.4" cy="1184.47" r="2.4"/><circle cx="445.48" cy="1192.91" r="2.4"/><circle cx="405.54" cy="1180.26" r="2.4"/><circle cx="410.66" cy="1189.71" r="2.4"/><circle cx="447.53" cy="1187.32" r="2.4"/><circle cx="444.99" cy="1184.5" r="2.4"/><circle cx="404.55" cy="1186.15" r="2.4"/><circle cx="434.34" cy="1196.26" r="2.4"/><circle cx="427.71" cy="1180.99" r="2.4"/><circle cx="408.68" cy="1193.36" r="2.4"/><circle cx="429.01" cy="1187.16" r="2.4"/><circle cx="432.93" cy="1193.78" r="2.4"/><circle cx="433.59" cy="1178.34" r="2.4"/><circle cx="414.98" cy="1177.11" r="2.4"/><circle cx="414.33" cy="1180.81" r="2.4"/><circle cx="431.23" cy="1196.81" r="2.4"/><circle cx="404.74" cy="1183.04" r="2.4"/><circle cx="421.42" cy="1191.13" r="2.4"/><circle cx="447.88" cy="1191.19" r="2.4"/><circle cx="419.1" cy="1182.93" r="2.4"/><circle cx="409.09" cy="1174.95" r="2.4"/><circle cx="418.68" cy="1173.25" r="2.4"/><circle cx="425.04" cy="1181.62" r="2.4"/><circle cx="447.91" cy="1179.1" r="2.4"/><circle cx="410.97" cy="1184.41" r="2.4"/><circle cx="414.21" cy="1169.77" r="2.4"/><circle cx="420.17" cy="1179.08" r="2.4"/><circle cx="441.41" cy="1196.4" r="2.4"/><circle cx="425.08" cy="1187.02" r="2.4"/><circle cx="412.35" cy="1187.4" r="2.4"/><circle cx="404.57" cy="1170.18" r="2.4"/><circle cx="441.42" cy="1185.04" r="2.4"/><circle cx="409.92" cy="1170.19" r="2.4"/><circle cx="432.4" cy="1175.91" r="2.4"/><circle cx="436.11" cy="1182.06" r="2.4"/><circle cx="437.36" cy="1189.88" r="2.4"/><circle cx="440.97" cy="1179.49" r="2.4"/><circle cx="423.81" cy="1184.22" r="2.4"/><circle cx="447.66" cy="1194.61" r="2.4"/><circle cx="434.64" cy="1184.66" r="2.4"/><circle cx="443.32" cy="1187.13" r="2.4"/><circle cx="422.33" cy="1177.14" r="2.4"/><circle cx="438.01" cy="1176.52" r="2.4"/><circle cx="438.68" cy="1185.21" r="2.4"/><circle cx="419.68" cy="1185.61" r="2.4"/><circle cx="411.99" cy="1194.08" r="2.4"/><circle cx="441.68" cy="1190.52" r="2.4"/><circle cx="431.37" cy="1179.89" r="2.4"/><circle cx="427.76" cy="1193.75" r="2.4"/><circle cx="427.94" cy="1175.76" r="2.4"/><circle cx="404.89" cy="1188.82" r="2.4"/><circle cx="434.7" cy="1153.8" r="2.4"/><circle cx="426" cy="1158.6" r="2.4"/><circle cx="418.4" cy="1160.4" r="2.4"/><circle cx="418.4" cy="1163" r="2.4"/><circle cx="407.6" cy="1160.9" r="2.4"/><circle cx="405.1" cy="1162" r="2.4"/><circle cx="433.7" cy="1170.5" r="2.4"/><circle cx="445.4" cy="1173.7" r="2.4"/><circle cx="445.6" cy="1173.7" r="2.4"/><circle cx="449.2" cy="1175.6" r="2.4"/><circle cx="457.9" cy="1175.3" r="2.4"/><circle cx="463" cy="1174.9" r="2.4"/><circle cx="470.9" cy="1175.8" r="2.4"/><circle cx="457.9" cy="1179.3" r="2.4"/><circle cx="462.3" cy="1180.4" r="2.4"/><circle cx="455.8" cy="1182.9" r="2.4"/><circle cx="464" cy="1185" r="2.4"/><circle cx="467.6" cy="1180.7" r="2.4"/><circle cx="472.2" cy="1181.4" r="2.4"/><circle cx="476.3" cy="1182.4" r="2.4"/><circle cx="482.4" cy="1185" r="2.4"/><circle cx="499.8" cy="1186" r="2.4"/><circle cx="469.6" cy="1190.9" r="2.4"/><circle cx="476.3" cy="1189.9" r="2.4"/><circle cx="480.9" cy="1195.2" r="2.4"/><circle cx="455.8" cy="1192.6" r="2.4"/><circle cx="455.8" cy="1195.7" r="2.4"/><circle cx="447.7" cy="1194.7" r="2.4"/><circle cx="442.6" cy="1190.1" r="2.4"/><circle cx="442.6" cy="1181.9" r="2.4"/><circle cx="453.3" cy="1186" r="2.4"/><circle cx="462.5" cy="1187.5" r="2.4"/><circle cx="441" cy="1194.2" r="2.4"/></g>
<rect x="378.2" y="1040.9" width="133" height="180.3" fill="none" stroke="#2b2b2b" stroke-width="1.15"/>
<g fill="#111" color="#111"><text x="355.01" y="1224.51" font-size="11.2" textLength="14.42" lengthAdjust="spacingAndGlyphs">0.0</text><text x="355.01" y="1188.45" font-size="11.2" textLength="14.42" lengthAdjust="spacingAndGlyphs">1.0</text><text x="355.01" y="1152.39" font-size="11.2" textLength="14.42" lengthAdjust="spacingAndGlyphs">2.0</text><text x="355.01" y="1116.33" font-size="11.2" textLength="14.42" lengthAdjust="spacingAndGlyphs">3.0</text><text x="355.01" y="1080.27" font-size="11.2" textLength="14.42" lengthAdjust="spacingAndGlyphs">4.0</text><text x="355.01" y="1044.21" font-size="11.2" textLength="14.42" lengthAdjust="spacingAndGlyphs">5.0</text><text x="375.3" y="1236.7" font-size="11">1</text><text x="413.41" y="1236.7" font-size="11">3</text><text x="451.35" y="1236.7" font-size="11">5</text><text x="489.26" y="1236.7" font-size="11">7</text></g>
<text x="440.93" y="1255.7" font-size="13.5" font-style="italic" textLength="17.89" lengthAdjust="spacingAndGlyphs">a/d</text>
<g stroke="#2b2b2b" stroke-width="1"><line x1="542" y1="1220.8" x2="545.4" y2="1220.8"/><line x1="542.8" y1="1202.77" x2="545.4" y2="1202.77"/><line x1="542" y1="1184.74" x2="545.4" y2="1184.74"/><line x1="542.8" y1="1166.71" x2="545.4" y2="1166.71"/><line x1="542" y1="1148.68" x2="545.4" y2="1148.68"/><line x1="542.8" y1="1130.65" x2="545.4" y2="1130.65"/><line x1="542" y1="1112.62" x2="545.4" y2="1112.62"/><line x1="542.8" y1="1094.59" x2="545.4" y2="1094.59"/><line x1="542" y1="1076.56" x2="545.4" y2="1076.56"/><line x1="542.8" y1="1058.53" x2="545.4" y2="1058.53"/><line x1="542" y1="1040.5" x2="545.4" y2="1040.5"/><line x1="545.4" y1="1220.8" x2="545.4" y2="1223.7"/><line x1="572.2" y1="1220.8" x2="572.2" y2="1223.7"/><line x1="599" y1="1220.8" x2="599" y2="1223.7"/><line x1="625.8" y1="1220.8" x2="625.8" y2="1223.7"/><line x1="652.6" y1="1220.8" x2="652.6" y2="1223.7"/><line x1="679.4" y1="1220.8" x2="679.4" y2="1223.7"/></g>
<line x1="546" y1="1185.04" x2="679.4" y2="1185.04" stroke="#3a3a3a" stroke-width="1.5" stroke-dasharray="3.5 2.6"/>
<g fill="#d6d6d6" stroke="#000" stroke-width="1.1"><circle cx="557.14" cy="1192.34" r="2.4"/><circle cx="549.79" cy="1184.25" r="2.4"/><circle cx="571.86" cy="1189.98" r="2.4"/><circle cx="556.96" cy="1176.68" r="2.4"/><circle cx="572.23" cy="1180.96" r="2.4"/><circle cx="568.8" cy="1191.67" r="2.4"/><circle cx="565.73" cy="1195.77" r="2.4"/><circle cx="557.87" cy="1195.69" r="2.4"/><circle cx="574.96" cy="1181.17" r="2.4"/><circle cx="558.79" cy="1187.12" r="2.4"/><circle cx="560.46" cy="1180.72" r="2.4"/><circle cx="571.62" cy="1169.88" r="2.4"/><circle cx="567.46" cy="1179.75" r="2.4"/><circle cx="564.48" cy="1173.31" r="2.4"/><circle cx="563.97" cy="1179.64" r="2.4"/><circle cx="551.79" cy="1180.47" r="2.4"/><circle cx="561.07" cy="1189.73" r="2.4"/><circle cx="561.32" cy="1192.7" r="2.4"/><circle cx="570.46" cy="1175.8" r="2.4"/><circle cx="572.98" cy="1187.02" r="2.4"/><circle cx="566.38" cy="1187.37" r="2.4"/><circle cx="553.69" cy="1193.16" r="2.4"/><circle cx="555.47" cy="1173.07" r="2.4"/><circle cx="565.24" cy="1182.3" r="2.4"/><circle cx="570.65" cy="1183.62" r="2.4"/><circle cx="549.82" cy="1187.94" r="2.4"/><circle cx="561.64" cy="1183.3" r="2.4"/><circle cx="549.16" cy="1193.83" r="2.4"/><circle cx="574.61" cy="1191.79" r="2.4"/><circle cx="559.84" cy="1172.32" r="2.4"/><circle cx="573.51" cy="1178.58" r="2.4"/><circle cx="547.32" cy="1185.27" r="2.4"/><circle cx="566.64" cy="1190.04" r="2.4"/><circle cx="575.12" cy="1176.21" r="2.4"/><circle cx="575.44" cy="1188.34" r="2.4"/><circle cx="549" cy="1180.71" r="2.4"/><circle cx="567.23" cy="1175.24" r="2.4"/><circle cx="566.01" cy="1192.97" r="2.4"/><circle cx="568.52" cy="1170.54" r="2.4"/><circle cx="553.9" cy="1177.98" r="2.4"/><circle cx="563.73" cy="1191.54" r="2.4"/><circle cx="563.82" cy="1185.6" r="2.4"/><circle cx="569.62" cy="1195.56" r="2.4"/><circle cx="556.25" cy="1182.61" r="2.4"/><circle cx="574.47" cy="1173.53" r="2.4"/><circle cx="552.49" cy="1187.52" r="2.4"/><circle cx="552.58" cy="1175.61" r="2.4"/><circle cx="549.56" cy="1177.88" r="2.4"/><circle cx="557.3" cy="1179.41" r="2.4"/><circle cx="560.34" cy="1175.28" r="2.4"/><circle cx="561.68" cy="1177.78" r="2.4"/><circle cx="550.46" cy="1191.25" r="2.4"/><circle cx="567.89" cy="1184.76" r="2.4"/><circle cx="555.95" cy="1187.58" r="2.4"/><circle cx="547.79" cy="1189.93" r="2.4"/><circle cx="569.12" cy="1187.61" r="2.4"/><circle cx="553.78" cy="1189.94" r="2.4"/><circle cx="569.77" cy="1172.93" r="2.4"/><circle cx="575.31" cy="1184.76" r="2.4"/><circle cx="558.96" cy="1183.75" r="2.4"/><circle cx="565.47" cy="1177.26" r="2.4"/><circle cx="554.7" cy="1184.88" r="2.4"/><circle cx="572.6" cy="1193.72" r="2.4"/><circle cx="563.69" cy="1170.71" r="2.4"/><circle cx="561.19" cy="1195.45" r="2.4"/><circle cx="554.4" cy="1195.74" r="2.4"/><circle cx="563.63" cy="1188.7" r="2.4"/><circle cx="557.7" cy="1189.7" r="2.4"/><circle cx="570.83" cy="1178.56" r="2.4"/><circle cx="546.82" cy="1182.63" r="2.4"/><circle cx="551.68" cy="1195.01" r="2.4"/><circle cx="552.4" cy="1183.21" r="2.4"/><circle cx="557.32" cy="1171.1" r="2.4"/><circle cx="554.2" cy="1153.3" r="2.4"/><circle cx="561.3" cy="1157.9" r="2.4"/><circle cx="557.8" cy="1160.4" r="2.4"/><circle cx="571.8" cy="1161.7" r="2.4"/><circle cx="580.3" cy="1159.9" r="2.4"/><circle cx="580.3" cy="1162.7" r="2.4"/><circle cx="549.1" cy="1169.8" r="2.4"/><circle cx="577.7" cy="1175.6" r="2.4"/><circle cx="584.9" cy="1174.2" r="2.4"/><circle cx="582.8" cy="1178.8" r="2.4"/><circle cx="580.3" cy="1186.8" r="2.4"/><circle cx="588.4" cy="1180.9" r="2.4"/><circle cx="588.4" cy="1185" r="2.4"/><circle cx="588.4" cy="1188.5" r="2.4"/><circle cx="588.4" cy="1192.1" r="2.4"/><circle cx="587.9" cy="1194.7" r="2.4"/><circle cx="605.8" cy="1168.6" r="2.4"/><circle cx="606.3" cy="1171.7" r="2.4"/><circle cx="605.3" cy="1176.3" r="2.4"/><circle cx="605.3" cy="1182.4" r="2.4"/><circle cx="600.7" cy="1178.8" r="2.4"/><circle cx="597.1" cy="1183.9" r="2.4"/><circle cx="600.2" cy="1184.5" r="2.4"/><circle cx="600.2" cy="1190.1" r="2.4"/><circle cx="600.2" cy="1193.1" r="2.4"/><circle cx="600.2" cy="1195.2" r="2.4"/><circle cx="657.1" cy="1179.9" r="2.4"/><circle cx="644.6" cy="1192.6" r="2.4"/><circle cx="662" cy="1193.6" r="2.4"/></g>
<rect x="545.4" y="1040.5" width="134" height="180.3" fill="none" stroke="#2b2b2b" stroke-width="1.15"/>
<g fill="#111" color="#111"><text x="522.21" y="1224.11" font-size="11.2" textLength="14.42" lengthAdjust="spacingAndGlyphs">0.0</text><text x="522.21" y="1188.05" font-size="11.2" textLength="14.42" lengthAdjust="spacingAndGlyphs">1.0</text><text x="522.21" y="1151.99" font-size="11.2" textLength="14.42" lengthAdjust="spacingAndGlyphs">2.0</text><text x="522.21" y="1115.93" font-size="11.2" textLength="14.42" lengthAdjust="spacingAndGlyphs">3.0</text><text x="522.21" y="1079.87" font-size="11.2" textLength="14.42" lengthAdjust="spacingAndGlyphs">4.0</text><text x="522.21" y="1043.81" font-size="11.2" textLength="14.42" lengthAdjust="spacingAndGlyphs">5.0</text><text x="542.73" y="1236.3" font-size="10" textLength="5.35" lengthAdjust="spacingAndGlyphs">0</text><text x="562.93" y="1236.3" font-size="10" textLength="18.73" lengthAdjust="spacingAndGlyphs">0.02</text><text x="589.52" y="1236.3" font-size="10" textLength="18.73" lengthAdjust="spacingAndGlyphs">0.04</text><text x="616.4" y="1236.3" font-size="10" textLength="18.73" lengthAdjust="spacingAndGlyphs">0.06</text><text x="643.24" y="1236.3" font-size="10" textLength="18.73" lengthAdjust="spacingAndGlyphs">0.08</text><text x="672.83" y="1236.3" font-size="10" textLength="13.38" lengthAdjust="spacingAndGlyphs">0.1</text></g>
<text x="612.75" y="1255.8" font-size="14" font-style="italic">ρ</text><text x="619.89" y="1259.3" font-size="9.8" font-style="italic">l</text>
<g transform="translate(9.6,1164.3) rotate(-90)"><text x="-3.96" y="0" font-size="14.5" font-style="italic" transform="skewX(-14)">V</text><text x="6.18" y="3.5" font-size="9.3" font-style="italic">test</text><text x="18.83" y="0" font-size="14" font-style="italic">/</text><text x="21.44" y="0" font-size="14.5" font-style="italic" transform="skewX(-14)">V</text><text x="32.53" y="3.5" font-size="9.3" font-style="italic">predict</text></g>
<g fill="#0000ff" color="#0000ff"><text x="51.24" y="1055" font-size="11.5" textLength="66.42" lengthAdjust="spacingAndGlyphs">Mean = 1.056</text><text x="51.12" y="1069.1" font-size="11.5" textLength="58.3" lengthAdjust="spacingAndGlyphs">COV = 0.19</text><text x="51.24" y="1083.2" font-size="11.5" textLength="55.2" lengthAdjust="spacingAndGlyphs">Max = 1.86</text><text x="51.24" y="1097.3" font-size="11.5" textLength="56.2" lengthAdjust="spacingAndGlyphs">Min =  0.71</text><text x="599.64" y="1055.1" font-size="11.5" textLength="6.61" lengthAdjust="spacingAndGlyphs">P</text><text x="607.09" y="1058.2" font-size="7.9" textLength="14.28" lengthAdjust="spacingAndGlyphs">0.05</text><text x="622.41" y="1055.1" font-size="11.5" textLength="30.46" lengthAdjust="spacingAndGlyphs">= 0.77</text><text x="599.88" y="1069.2" font-size="11.5" textLength="57.84" lengthAdjust="spacingAndGlyphs">AAE = 0.14</text><text x="599.41" y="1083.3" font-size="11.5" textLength="73.78" lengthAdjust="spacingAndGlyphs">&lt; 0.75 = 3.27%</text></g>
<text x="291.08" y="1278.8" font-size="15.2" textLength="134.41" lengthAdjust="spacingAndGlyphs">(e) Marí et al. (2016)</text>
<text x="340.5" y="1254" font-size="13">d</text>
</svg>
</body></html>
